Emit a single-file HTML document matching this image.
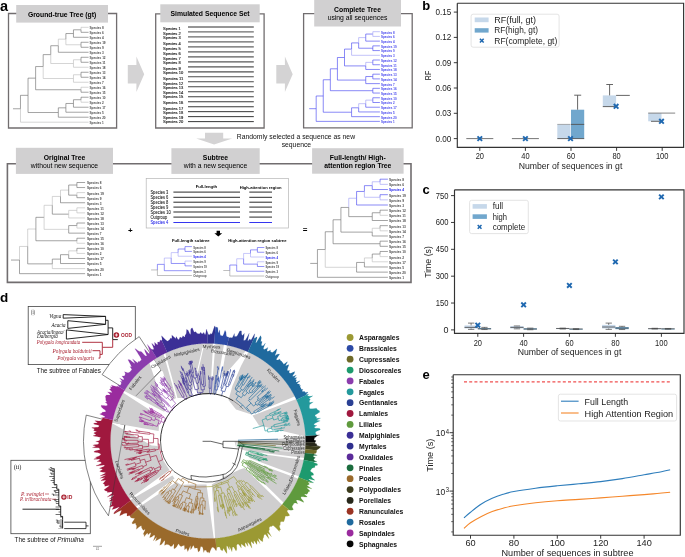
<!DOCTYPE html>
<html><head><meta charset="utf-8"><style>
html,body{margin:0;padding:0;background:#fff;}
body{width:685px;height:557px;overflow:hidden;}
svg{display:block;will-change:transform;font-family:"Liberation Sans",sans-serif;}
</style></head><body>
<svg width="685" height="557" viewBox="0 0 685 557">
<text x="0" y="6.2" font-size="14.5" font-weight="bold" fill="#000" text-anchor="start" dominant-baseline="central" font-family="Liberation Sans">a</text>
<polyline points="8.5,19.5 8.5,13.5 116.6,13.5 116.6,128 8.5,128 8.5,13.5" fill="none" stroke="#716d6f" stroke-width="1.3"/>
<rect x="16.2" y="5" width="91.8" height="17.6" fill="#d1d0d1" stroke="none" stroke-width="1"/>
<text x="62.1" y="14" font-size="6.8" font-weight="bold" fill="#000" text-anchor="middle" dominant-baseline="central" font-family="Liberation Sans">Ground-true Tree (gt)</text>
<line x1="12.97" y1="108.77" x2="20.47" y2="108.77" stroke="#666666" stroke-width="0.6"/>
<polyline points="20.47,108.77 20.47,95.34 28.04,95.34" fill="none" stroke="#666666" stroke-width="0.6"/>
<polyline points="28.04,95.34 28.04,78.15 35.61,78.15" fill="none" stroke="#666666" stroke-width="0.6"/>
<polyline points="35.61,78.15 35.61,66.56 43.18,66.56" fill="none" stroke="#666666" stroke-width="0.6"/>
<polyline points="43.18,66.56 43.18,54.62 50.75,54.62" fill="none" stroke="#666666" stroke-width="0.6"/>
<polyline points="50.75,54.62 50.75,45.72 58.32,45.72" fill="none" stroke="#666666" stroke-width="0.6"/>
<polyline points="58.32,45.72 58.32,39.16 65.89,39.16" fill="none" stroke="#b8b8b8" stroke-width="0.6"/>
<polyline points="65.89,39.16 65.89,33.54 73.46,33.54" fill="none" stroke="#666666" stroke-width="0.6"/>
<polyline points="73.46,33.54 73.46,29.8 81.03,29.8" fill="none" stroke="#666666" stroke-width="0.6"/>
<polyline points="81.03,29.8 81.03,27.3 88.6,27.3" fill="none" stroke="#b8b8b8" stroke-width="0.6"/>
<polyline points="81.03,29.8 81.03,32.3 88.6,32.3" fill="none" stroke="#666666" stroke-width="0.6"/>
<polyline points="73.46,33.54 73.46,37.29 88.6,37.29" fill="none" stroke="#666666" stroke-width="0.6"/>
<polyline points="65.89,39.16 65.89,44.78 81.03,44.78" fill="none" stroke="#b8b8b8" stroke-width="0.6"/>
<polyline points="81.03,44.78 81.03,42.28 88.6,42.28" fill="none" stroke="#666666" stroke-width="0.6"/>
<polyline points="81.03,44.78 81.03,47.28 88.6,47.28" fill="none" stroke="#666666" stroke-width="0.6"/>
<polyline points="58.32,45.72 58.32,52.28 88.6,52.28" fill="none" stroke="#666666" stroke-width="0.6"/>
<polyline points="50.75,54.62 50.75,63.51 73.46,63.51" fill="none" stroke="#b8b8b8" stroke-width="0.6"/>
<polyline points="73.46,63.51 73.46,59.77 81.03,59.77" fill="none" stroke="#b8b8b8" stroke-width="0.6"/>
<polyline points="81.03,59.77 81.03,57.27 88.6,57.27" fill="none" stroke="#666666" stroke-width="0.6"/>
<polyline points="81.03,59.77 81.03,62.27 88.6,62.27" fill="none" stroke="#666666" stroke-width="0.6"/>
<polyline points="73.46,63.51 73.46,67.26 88.6,67.26" fill="none" stroke="#b8b8b8" stroke-width="0.6"/>
<polyline points="43.18,66.56 43.18,78.5 73.46,78.5" fill="none" stroke="#b8b8b8" stroke-width="0.6"/>
<polyline points="73.46,78.5 73.46,74.75 81.03,74.75" fill="none" stroke="#b8b8b8" stroke-width="0.6"/>
<polyline points="81.03,74.75 81.03,72.25 88.6,72.25" fill="none" stroke="#666666" stroke-width="0.6"/>
<polyline points="81.03,74.75 81.03,77.25 88.6,77.25" fill="none" stroke="#666666" stroke-width="0.6"/>
<polyline points="73.46,78.5 73.46,82.25 88.6,82.25" fill="none" stroke="#b8b8b8" stroke-width="0.6"/>
<polyline points="35.61,78.15 35.61,89.74 81.03,89.74" fill="none" stroke="#666666" stroke-width="0.6"/>
<polyline points="81.03,89.74 81.03,87.24 88.6,87.24" fill="none" stroke="#b8b8b8" stroke-width="0.6"/>
<polyline points="81.03,89.74 81.03,92.23 88.6,92.23" fill="none" stroke="#666666" stroke-width="0.6"/>
<polyline points="28.04,95.34 28.04,112.53 58.32,112.53" fill="none" stroke="#666666" stroke-width="0.6"/>
<polyline points="58.32,112.53 58.32,107.84 65.89,107.84" fill="none" stroke="#666666" stroke-width="0.6"/>
<polyline points="65.89,107.84 65.89,103.47 73.46,103.47" fill="none" stroke="#666666" stroke-width="0.6"/>
<polyline points="73.46,103.47 73.46,99.73 81.03,99.73" fill="none" stroke="#666666" stroke-width="0.6"/>
<polyline points="81.03,99.73 81.03,97.23 88.6,97.23" fill="none" stroke="#666666" stroke-width="0.6"/>
<polyline points="81.03,99.73 81.03,102.22 88.6,102.22" fill="none" stroke="#b8b8b8" stroke-width="0.6"/>
<polyline points="73.46,103.47 73.46,107.22 88.6,107.22" fill="none" stroke="#666666" stroke-width="0.6"/>
<polyline points="65.89,107.84 65.89,112.22 88.6,112.22" fill="none" stroke="#666666" stroke-width="0.6"/>
<polyline points="58.32,112.53 58.32,117.21 88.6,117.21" fill="none" stroke="#666666" stroke-width="0.6"/>
<polyline points="20.47,108.77 20.47,122.2 88.6,122.2" fill="none" stroke="#b8b8b8" stroke-width="0.6"/>
<text x="89.5" y="28.2" font-size="3.3" font-weight="bold" fill="#4a4a4a" text-anchor="start" dominant-baseline="central" font-family="Liberation Sans" textLength="14.3" lengthAdjust="spacingAndGlyphs">Species 8</text>
<text x="89.5" y="33.2" font-size="3.3" font-weight="bold" fill="#4a4a4a" text-anchor="start" dominant-baseline="central" font-family="Liberation Sans" textLength="14.3" lengthAdjust="spacingAndGlyphs">Species 6</text>
<text x="89.5" y="38.19" font-size="3.3" font-weight="bold" fill="#4a4a4a" text-anchor="start" dominant-baseline="central" font-family="Liberation Sans" textLength="14.3" lengthAdjust="spacingAndGlyphs">Species 4</text>
<text x="89.5" y="43.18" font-size="3.3" font-weight="bold" fill="#4a4a4a" text-anchor="start" dominant-baseline="central" font-family="Liberation Sans" textLength="16.1" lengthAdjust="spacingAndGlyphs">Species 19</text>
<text x="89.5" y="48.18" font-size="3.3" font-weight="bold" fill="#4a4a4a" text-anchor="start" dominant-baseline="central" font-family="Liberation Sans" textLength="14.3" lengthAdjust="spacingAndGlyphs">Species 9</text>
<text x="89.5" y="53.18" font-size="3.3" font-weight="bold" fill="#4a4a4a" text-anchor="start" dominant-baseline="central" font-family="Liberation Sans" textLength="14.3" lengthAdjust="spacingAndGlyphs">Species 3</text>
<text x="89.5" y="58.17" font-size="3.3" font-weight="bold" fill="#4a4a4a" text-anchor="start" dominant-baseline="central" font-family="Liberation Sans" textLength="16.1" lengthAdjust="spacingAndGlyphs">Species 12</text>
<text x="89.5" y="63.16" font-size="3.3" font-weight="bold" fill="#4a4a4a" text-anchor="start" dominant-baseline="central" font-family="Liberation Sans" textLength="16.1" lengthAdjust="spacingAndGlyphs">Species 11</text>
<text x="89.5" y="68.16" font-size="3.3" font-weight="bold" fill="#4a4a4a" text-anchor="start" dominant-baseline="central" font-family="Liberation Sans" textLength="16.1" lengthAdjust="spacingAndGlyphs">Species 18</text>
<text x="89.5" y="73.16" font-size="3.3" font-weight="bold" fill="#4a4a4a" text-anchor="start" dominant-baseline="central" font-family="Liberation Sans" textLength="16.1" lengthAdjust="spacingAndGlyphs">Species 13</text>
<text x="89.5" y="78.15" font-size="3.3" font-weight="bold" fill="#4a4a4a" text-anchor="start" dominant-baseline="central" font-family="Liberation Sans" textLength="16.1" lengthAdjust="spacingAndGlyphs">Species 14</text>
<text x="89.5" y="83.15" font-size="3.3" font-weight="bold" fill="#4a4a4a" text-anchor="start" dominant-baseline="central" font-family="Liberation Sans" textLength="14.3" lengthAdjust="spacingAndGlyphs">Species 7</text>
<text x="89.5" y="88.14" font-size="3.3" font-weight="bold" fill="#4a4a4a" text-anchor="start" dominant-baseline="central" font-family="Liberation Sans" textLength="16.1" lengthAdjust="spacingAndGlyphs">Species 16</text>
<text x="89.5" y="93.14" font-size="3.3" font-weight="bold" fill="#4a4a4a" text-anchor="start" dominant-baseline="central" font-family="Liberation Sans" textLength="16.1" lengthAdjust="spacingAndGlyphs">Species 15</text>
<text x="89.5" y="98.13" font-size="3.3" font-weight="bold" fill="#4a4a4a" text-anchor="start" dominant-baseline="central" font-family="Liberation Sans" textLength="16.1" lengthAdjust="spacingAndGlyphs">Species 10</text>
<text x="89.5" y="103.12" font-size="3.3" font-weight="bold" fill="#4a4a4a" text-anchor="start" dominant-baseline="central" font-family="Liberation Sans" textLength="14.3" lengthAdjust="spacingAndGlyphs">Species 2</text>
<text x="89.5" y="108.12" font-size="3.3" font-weight="bold" fill="#4a4a4a" text-anchor="start" dominant-baseline="central" font-family="Liberation Sans" textLength="16.1" lengthAdjust="spacingAndGlyphs">Species 17</text>
<text x="89.5" y="113.12" font-size="3.3" font-weight="bold" fill="#4a4a4a" text-anchor="start" dominant-baseline="central" font-family="Liberation Sans" textLength="14.3" lengthAdjust="spacingAndGlyphs">Species 5</text>
<text x="89.5" y="118.11" font-size="3.3" font-weight="bold" fill="#4a4a4a" text-anchor="start" dominant-baseline="central" font-family="Liberation Sans" textLength="16.1" lengthAdjust="spacingAndGlyphs">Species 20</text>
<text x="89.5" y="123.11" font-size="3.3" font-weight="bold" fill="#4a4a4a" text-anchor="start" dominant-baseline="central" font-family="Liberation Sans" textLength="14.3" lengthAdjust="spacingAndGlyphs">Species 1</text>
<polygon points="127.8,65.1 136.4,65.1 136.4,56.5 144.2,74.2 136.4,92 136.4,83.4 127.8,83.4" fill="#d4d3d4" stroke="none" stroke-width="1"/>
<polyline points="155.7,19.8 155.7,13.8 264.1,13.8 264.1,128 155.7,128 155.7,13.8" fill="none" stroke="#716d6f" stroke-width="1.3"/>
<rect x="160.3" y="4.3" width="99.4" height="18" fill="#d1d0d1" stroke="none" stroke-width="1"/>
<text x="210" y="13.6" font-size="6.8" font-weight="bold" fill="#000" text-anchor="middle" dominant-baseline="central" font-family="Liberation Sans">Simulated Sequence Set</text>
<line x1="188" y1="27" x2="253.8" y2="27" stroke="#727272" stroke-width="1.3"/>
<text x="163.1" y="28.5" font-size="4.4" font-weight="normal" fill="#1a1a1a" text-anchor="start" dominant-baseline="central" font-family="Liberation Sans" stroke="#222" stroke-width="0.15" textLength="17.6" lengthAdjust="spacingAndGlyphs">Species 1</text>
<line x1="188" y1="31.98" x2="253.8" y2="31.98" stroke="#6e6e6e" stroke-width="1.28"/>
<text x="163.1" y="33.8" font-size="4.4" font-weight="normal" fill="#1a1a1a" text-anchor="start" dominant-baseline="central" font-family="Liberation Sans" stroke="#222" stroke-width="0.15" textLength="17.6" lengthAdjust="spacingAndGlyphs">Species 2</text>
<line x1="188" y1="36.96" x2="253.8" y2="36.96" stroke="#6a6a6a" stroke-width="1.26"/>
<text x="163.1" y="37.9" font-size="4.4" font-weight="normal" fill="#1a1a1a" text-anchor="start" dominant-baseline="central" font-family="Liberation Sans" stroke="#222" stroke-width="0.15" textLength="17.6" lengthAdjust="spacingAndGlyphs">Species 3</text>
<line x1="188" y1="41.94" x2="253.8" y2="41.94" stroke="#666666" stroke-width="1.24"/>
<text x="163.1" y="43.7" font-size="4.4" font-weight="normal" fill="#1a1a1a" text-anchor="start" dominant-baseline="central" font-family="Liberation Sans" stroke="#222" stroke-width="0.15" textLength="17.6" lengthAdjust="spacingAndGlyphs">Species 4</text>
<line x1="188" y1="46.92" x2="253.8" y2="46.92" stroke="#636363" stroke-width="1.23"/>
<text x="163.1" y="48" font-size="4.4" font-weight="normal" fill="#1a1a1a" text-anchor="start" dominant-baseline="central" font-family="Liberation Sans" stroke="#222" stroke-width="0.15" textLength="17.6" lengthAdjust="spacingAndGlyphs">Species 5</text>
<line x1="188" y1="51.9" x2="253.8" y2="51.9" stroke="#5f5f5f" stroke-width="1.21"/>
<text x="163.1" y="53.4" font-size="4.4" font-weight="normal" fill="#1a1a1a" text-anchor="start" dominant-baseline="central" font-family="Liberation Sans" stroke="#222" stroke-width="0.15" textLength="17.6" lengthAdjust="spacingAndGlyphs">Species 6</text>
<line x1="188" y1="56.88" x2="253.8" y2="56.88" stroke="#5b5b5b" stroke-width="1.19"/>
<text x="163.1" y="58.8" font-size="4.4" font-weight="normal" fill="#1a1a1a" text-anchor="start" dominant-baseline="central" font-family="Liberation Sans" stroke="#222" stroke-width="0.15" textLength="17.6" lengthAdjust="spacingAndGlyphs">Species 7</text>
<line x1="188" y1="61.86" x2="253.8" y2="61.86" stroke="#585858" stroke-width="1.17"/>
<text x="163.1" y="62.8" font-size="4.4" font-weight="normal" fill="#1a1a1a" text-anchor="start" dominant-baseline="central" font-family="Liberation Sans" stroke="#222" stroke-width="0.15" textLength="17.6" lengthAdjust="spacingAndGlyphs">Species 8</text>
<line x1="188" y1="66.84" x2="253.8" y2="66.84" stroke="#545454" stroke-width="1.15"/>
<text x="163.1" y="68.3" font-size="4.4" font-weight="normal" fill="#1a1a1a" text-anchor="start" dominant-baseline="central" font-family="Liberation Sans" stroke="#222" stroke-width="0.15" textLength="17.6" lengthAdjust="spacingAndGlyphs">Species 9</text>
<line x1="188" y1="71.82" x2="253.8" y2="71.82" stroke="#505050" stroke-width="1.13"/>
<text x="163.1" y="72.5" font-size="4.4" font-weight="normal" fill="#1a1a1a" text-anchor="start" dominant-baseline="central" font-family="Liberation Sans" stroke="#222" stroke-width="0.15" textLength="20.1" lengthAdjust="spacingAndGlyphs">Species 10</text>
<line x1="188" y1="76.8" x2="253.8" y2="76.8" stroke="#4d4d4d" stroke-width="1.12"/>
<text x="163.1" y="78" font-size="4.4" font-weight="normal" fill="#1a1a1a" text-anchor="start" dominant-baseline="central" font-family="Liberation Sans" stroke="#222" stroke-width="0.15" textLength="20.1" lengthAdjust="spacingAndGlyphs">Species 11</text>
<line x1="188" y1="81.78" x2="253.8" y2="81.78" stroke="#494949" stroke-width="1.1"/>
<text x="163.1" y="83.6" font-size="4.4" font-weight="normal" fill="#1a1a1a" text-anchor="start" dominant-baseline="central" font-family="Liberation Sans" stroke="#222" stroke-width="0.15" textLength="20.1" lengthAdjust="spacingAndGlyphs">Species 12</text>
<line x1="188" y1="86.76" x2="253.8" y2="86.76" stroke="#454545" stroke-width="1.08"/>
<text x="163.1" y="87.5" font-size="4.4" font-weight="normal" fill="#1a1a1a" text-anchor="start" dominant-baseline="central" font-family="Liberation Sans" stroke="#222" stroke-width="0.15" textLength="20.1" lengthAdjust="spacingAndGlyphs">Species 13</text>
<line x1="188" y1="91.74" x2="253.8" y2="91.74" stroke="#424242" stroke-width="1.06"/>
<text x="163.1" y="92.9" font-size="4.4" font-weight="normal" fill="#1a1a1a" text-anchor="start" dominant-baseline="central" font-family="Liberation Sans" stroke="#222" stroke-width="0.15" textLength="20.1" lengthAdjust="spacingAndGlyphs">Species 14</text>
<line x1="188" y1="96.72" x2="253.8" y2="96.72" stroke="#3e3e3e" stroke-width="1.04"/>
<text x="163.1" y="96.9" font-size="4.4" font-weight="normal" fill="#1a1a1a" text-anchor="start" dominant-baseline="central" font-family="Liberation Sans" stroke="#222" stroke-width="0.15" textLength="20.1" lengthAdjust="spacingAndGlyphs">Species 15</text>
<line x1="188" y1="101.7" x2="253.8" y2="101.7" stroke="#3a3a3a" stroke-width="1.02"/>
<text x="163.1" y="102.6" font-size="4.4" font-weight="normal" fill="#1a1a1a" text-anchor="start" dominant-baseline="central" font-family="Liberation Sans" stroke="#222" stroke-width="0.15" textLength="20.1" lengthAdjust="spacingAndGlyphs">Species 16</text>
<line x1="188" y1="106.68" x2="253.8" y2="106.68" stroke="#373737" stroke-width="1.01"/>
<text x="163.1" y="108" font-size="4.4" font-weight="normal" fill="#1a1a1a" text-anchor="start" dominant-baseline="central" font-family="Liberation Sans" stroke="#222" stroke-width="0.15" textLength="20.1" lengthAdjust="spacingAndGlyphs">Species 17</text>
<line x1="188" y1="111.66" x2="253.8" y2="111.66" stroke="#333333" stroke-width="0.99"/>
<text x="163.1" y="112" font-size="4.4" font-weight="normal" fill="#1a1a1a" text-anchor="start" dominant-baseline="central" font-family="Liberation Sans" stroke="#222" stroke-width="0.15" textLength="20.1" lengthAdjust="spacingAndGlyphs">Species 18</text>
<line x1="188" y1="116.64" x2="253.8" y2="116.64" stroke="#2f2f2f" stroke-width="0.97"/>
<text x="163.1" y="117.5" font-size="4.4" font-weight="normal" fill="#1a1a1a" text-anchor="start" dominant-baseline="central" font-family="Liberation Sans" stroke="#222" stroke-width="0.15" textLength="20.1" lengthAdjust="spacingAndGlyphs">Species 19</text>
<line x1="188" y1="121.62" x2="253.8" y2="121.62" stroke="#2c2c2c" stroke-width="0.95"/>
<text x="163.1" y="121.8" font-size="4.4" font-weight="normal" fill="#1a1a1a" text-anchor="start" dominant-baseline="central" font-family="Liberation Sans" stroke="#222" stroke-width="0.15" textLength="20.1" lengthAdjust="spacingAndGlyphs">Species 20</text>
<polygon points="276.3,65.1 284.9,65.1 284.9,56.5 292.7,74.2 284.9,92 284.9,83.4 276.3,83.4" fill="#d4d3d4" stroke="none" stroke-width="1"/>
<polyline points="303.6,19.6 303.6,13.6 412.2,13.6 412.2,127.9 303.6,127.9 303.6,13.6" fill="none" stroke="#716d6f" stroke-width="1.3"/>
<rect x="314.2" y="0" width="86.8" height="26.5" fill="#d1d0d1" stroke="none" stroke-width="1"/>
<text x="357.5" y="9.5" font-size="6.8" font-weight="bold" fill="#000" text-anchor="middle" dominant-baseline="central" font-family="Liberation Sans">Complete Tree</text>
<text x="357.5" y="17.7" font-size="6.8" font-weight="normal" fill="#000" text-anchor="middle" dominant-baseline="central" font-family="Liberation Sans">using all sequences</text>
<line x1="309.18" y1="108.69" x2="316.18" y2="108.69" stroke="#3b3bf0" stroke-width="0.6"/>
<polyline points="316.18,108.69 316.18,95.99 323.26,95.99" fill="none" stroke="#3b3bf0" stroke-width="0.6"/>
<polyline points="323.26,95.99 323.26,79.75 330.34,79.75" fill="none" stroke="#3b3bf0" stroke-width="0.6"/>
<polyline points="330.34,79.75 330.34,68.8 337.42,68.8" fill="none" stroke="#3b3bf0" stroke-width="0.6"/>
<polyline points="337.42,68.8 337.42,57.51 344.5,57.51" fill="none" stroke="#3b3bf0" stroke-width="0.6"/>
<polyline points="344.5,57.51 344.5,49.1 351.58,49.1" fill="none" stroke="#3b3bf0" stroke-width="0.6"/>
<polyline points="351.58,49.1 351.58,42.91 358.66,42.91" fill="none" stroke="#3b3bf0" stroke-width="0.6"/>
<polyline points="358.66,42.91 358.66,37.6 365.74,37.6" fill="none" stroke="#9a9af5" stroke-width="0.6"/>
<polyline points="365.74,37.6 365.74,34.06 372.82,34.06" fill="none" stroke="#3b3bf0" stroke-width="0.6"/>
<polyline points="372.82,34.06 372.82,31.7 379.9,31.7" fill="none" stroke="#9a9af5" stroke-width="0.6"/>
<polyline points="372.82,34.06 372.82,36.42 379.9,36.42" fill="none" stroke="#9a9af5" stroke-width="0.6"/>
<polyline points="365.74,37.6 365.74,41.14 379.9,41.14" fill="none" stroke="#3b3bf0" stroke-width="0.6"/>
<polyline points="358.66,42.91 358.66,48.22 372.82,48.22" fill="none" stroke="#3b3bf0" stroke-width="0.6"/>
<polyline points="372.82,48.22 372.82,45.86 379.9,45.86" fill="none" stroke="#3b3bf0" stroke-width="0.6"/>
<polyline points="372.82,48.22 372.82,50.58 379.9,50.58" fill="none" stroke="#3b3bf0" stroke-width="0.6"/>
<polyline points="351.58,49.1 351.58,55.3 379.9,55.3" fill="none" stroke="#9a9af5" stroke-width="0.6"/>
<polyline points="344.5,57.51 344.5,65.92 365.74,65.92" fill="none" stroke="#3b3bf0" stroke-width="0.6"/>
<polyline points="365.74,65.92 365.74,62.38 372.82,62.38" fill="none" stroke="#9a9af5" stroke-width="0.6"/>
<polyline points="372.82,62.38 372.82,60.02 379.9,60.02" fill="none" stroke="#3b3bf0" stroke-width="0.6"/>
<polyline points="372.82,62.38 372.82,64.74 379.9,64.74" fill="none" stroke="#3b3bf0" stroke-width="0.6"/>
<polyline points="365.74,65.92 365.74,69.46 379.9,69.46" fill="none" stroke="#3b3bf0" stroke-width="0.6"/>
<polyline points="337.42,68.8 337.42,80.08 365.74,80.08" fill="none" stroke="#3b3bf0" stroke-width="0.6"/>
<polyline points="365.74,80.08 365.74,76.54 372.82,76.54" fill="none" stroke="#3b3bf0" stroke-width="0.6"/>
<polyline points="372.82,76.54 372.82,74.18 379.9,74.18" fill="none" stroke="#3b3bf0" stroke-width="0.6"/>
<polyline points="372.82,76.54 372.82,78.9 379.9,78.9" fill="none" stroke="#3b3bf0" stroke-width="0.6"/>
<polyline points="365.74,80.08 365.74,83.62 379.9,83.62" fill="none" stroke="#3b3bf0" stroke-width="0.6"/>
<polyline points="330.34,79.75 330.34,90.7 372.82,90.7" fill="none" stroke="#3b3bf0" stroke-width="0.6"/>
<polyline points="372.82,90.7 372.82,88.34 379.9,88.34" fill="none" stroke="#3b3bf0" stroke-width="0.6"/>
<polyline points="372.82,90.7 372.82,93.06 379.9,93.06" fill="none" stroke="#3b3bf0" stroke-width="0.6"/>
<polyline points="323.26,95.99 323.26,112.23 351.58,112.23" fill="none" stroke="#3b3bf0" stroke-width="0.6"/>
<polyline points="351.58,112.23 351.58,107.81 358.66,107.81" fill="none" stroke="#3b3bf0" stroke-width="0.6"/>
<polyline points="358.66,107.81 358.66,103.68 365.74,103.68" fill="none" stroke="#9a9af5" stroke-width="0.6"/>
<polyline points="365.74,103.68 365.74,100.14 372.82,100.14" fill="none" stroke="#9a9af5" stroke-width="0.6"/>
<polyline points="372.82,100.14 372.82,97.78 379.9,97.78" fill="none" stroke="#3b3bf0" stroke-width="0.6"/>
<polyline points="372.82,100.14 372.82,102.5 379.9,102.5" fill="none" stroke="#3b3bf0" stroke-width="0.6"/>
<polyline points="365.74,103.68 365.74,107.22 379.9,107.22" fill="none" stroke="#3b3bf0" stroke-width="0.6"/>
<polyline points="358.66,107.81 358.66,111.94 379.9,111.94" fill="none" stroke="#3b3bf0" stroke-width="0.6"/>
<polyline points="351.58,112.23 351.58,116.66 379.9,116.66" fill="none" stroke="#3b3bf0" stroke-width="0.6"/>
<polyline points="316.18,108.69 316.18,121.38 379.9,121.38" fill="none" stroke="#3b3bf0" stroke-width="0.6"/>
<text x="381" y="32.6" font-size="3.2" font-weight="bold" fill="#4444ee" text-anchor="start" dominant-baseline="central" font-family="Liberation Sans" textLength="13.7" lengthAdjust="spacingAndGlyphs">Species 8</text>
<text x="381" y="37.32" font-size="3.2" font-weight="bold" fill="#4444ee" text-anchor="start" dominant-baseline="central" font-family="Liberation Sans" textLength="13.7" lengthAdjust="spacingAndGlyphs">Species 6</text>
<text x="381" y="42.04" font-size="3.2" font-weight="bold" fill="#4444ee" text-anchor="start" dominant-baseline="central" font-family="Liberation Sans" textLength="13.7" lengthAdjust="spacingAndGlyphs">Species 4</text>
<text x="381" y="46.76" font-size="3.2" font-weight="bold" fill="#4444ee" text-anchor="start" dominant-baseline="central" font-family="Liberation Sans" textLength="15.6" lengthAdjust="spacingAndGlyphs">Species 19</text>
<text x="381" y="51.48" font-size="3.2" font-weight="bold" fill="#4444ee" text-anchor="start" dominant-baseline="central" font-family="Liberation Sans" textLength="13.7" lengthAdjust="spacingAndGlyphs">Species 9</text>
<text x="381" y="56.2" font-size="3.2" font-weight="bold" fill="#4444ee" text-anchor="start" dominant-baseline="central" font-family="Liberation Sans" textLength="13.7" lengthAdjust="spacingAndGlyphs">Species 3</text>
<text x="381" y="60.92" font-size="3.2" font-weight="bold" fill="#4444ee" text-anchor="start" dominant-baseline="central" font-family="Liberation Sans" textLength="15.6" lengthAdjust="spacingAndGlyphs">Species 12</text>
<text x="381" y="65.64" font-size="3.2" font-weight="bold" fill="#4444ee" text-anchor="start" dominant-baseline="central" font-family="Liberation Sans" textLength="15.6" lengthAdjust="spacingAndGlyphs">Species 11</text>
<text x="381" y="70.36" font-size="3.2" font-weight="bold" fill="#4444ee" text-anchor="start" dominant-baseline="central" font-family="Liberation Sans" textLength="15.6" lengthAdjust="spacingAndGlyphs">Species 18</text>
<text x="381" y="75.08" font-size="3.2" font-weight="bold" fill="#4444ee" text-anchor="start" dominant-baseline="central" font-family="Liberation Sans" textLength="15.6" lengthAdjust="spacingAndGlyphs">Species 13</text>
<text x="381" y="79.8" font-size="3.2" font-weight="bold" fill="#4444ee" text-anchor="start" dominant-baseline="central" font-family="Liberation Sans" textLength="15.6" lengthAdjust="spacingAndGlyphs">Species 14</text>
<text x="381" y="84.52" font-size="3.2" font-weight="bold" fill="#4444ee" text-anchor="start" dominant-baseline="central" font-family="Liberation Sans" textLength="13.7" lengthAdjust="spacingAndGlyphs">Species 7</text>
<text x="381" y="89.24" font-size="3.2" font-weight="bold" fill="#4444ee" text-anchor="start" dominant-baseline="central" font-family="Liberation Sans" textLength="15.6" lengthAdjust="spacingAndGlyphs">Species 16</text>
<text x="381" y="93.96" font-size="3.2" font-weight="bold" fill="#4444ee" text-anchor="start" dominant-baseline="central" font-family="Liberation Sans" textLength="15.6" lengthAdjust="spacingAndGlyphs">Species 15</text>
<text x="381" y="98.68" font-size="3.2" font-weight="bold" fill="#4444ee" text-anchor="start" dominant-baseline="central" font-family="Liberation Sans" textLength="15.6" lengthAdjust="spacingAndGlyphs">Species 10</text>
<text x="381" y="103.4" font-size="3.2" font-weight="bold" fill="#4444ee" text-anchor="start" dominant-baseline="central" font-family="Liberation Sans" textLength="13.7" lengthAdjust="spacingAndGlyphs">Species 2</text>
<text x="381" y="108.12" font-size="3.2" font-weight="bold" fill="#4444ee" text-anchor="start" dominant-baseline="central" font-family="Liberation Sans" textLength="15.6" lengthAdjust="spacingAndGlyphs">Species 17</text>
<text x="381" y="112.84" font-size="3.2" font-weight="bold" fill="#4444ee" text-anchor="start" dominant-baseline="central" font-family="Liberation Sans" textLength="13.7" lengthAdjust="spacingAndGlyphs">Species 5</text>
<text x="381" y="117.56" font-size="3.2" font-weight="bold" fill="#4444ee" text-anchor="start" dominant-baseline="central" font-family="Liberation Sans" textLength="15.6" lengthAdjust="spacingAndGlyphs">Species 20</text>
<text x="381" y="122.28" font-size="3.2" font-weight="bold" fill="#4444ee" text-anchor="start" dominant-baseline="central" font-family="Liberation Sans" textLength="13.7" lengthAdjust="spacingAndGlyphs">Species 1</text>
<polygon points="205,132.7 223.2,132.7 223.2,138.5 232.3,138.5 214.1,144.4 196.2,138.5 205,138.5" fill="#d4d3d4" stroke="none" stroke-width="1"/>
<text x="236.8" y="136" font-size="6.8" font-weight="normal" fill="#111" text-anchor="start" dominant-baseline="central" font-family="Liberation Sans">Randomly selected a sequence as new</text>
<text x="296.4" y="144.2" font-size="6.8" font-weight="normal" fill="#111" text-anchor="middle" dominant-baseline="central" font-family="Liberation Sans">sequence</text>
<polyline points="7.4,173 7.4,163.8 411,163.8 411,282.4 7.4,282.4 7.4,170" fill="none" stroke="#716d6f" stroke-width="1.6"/>
<rect x="15.9" y="147.8" width="97.1" height="26.1" fill="#d1d0d1" stroke="none" stroke-width="1"/>
<text x="64.5" y="157.2" font-size="6.8" font-weight="bold" fill="#000" text-anchor="middle" dominant-baseline="central" font-family="Liberation Sans">Original Tree</text>
<text x="64.5" y="165.8" font-size="6.8" font-weight="normal" fill="#000" text-anchor="middle" dominant-baseline="central" font-family="Liberation Sans">without new sequence</text>
<rect x="171.4" y="148.2" width="88.3" height="25.7" fill="#d1d0d1" stroke="none" stroke-width="1"/>
<text x="215.5" y="157.6" font-size="6.8" font-weight="bold" fill="#000" text-anchor="middle" dominant-baseline="central" font-family="Liberation Sans">Subtree</text>
<text x="215.5" y="165.8" font-size="6.8" font-weight="normal" fill="#000" text-anchor="middle" dominant-baseline="central" font-family="Liberation Sans">with a new sequence</text>
<rect x="312.1" y="148.2" width="91.5" height="25.5" fill="#d1d0d1" stroke="none" stroke-width="1"/>
<text x="357.8" y="157.4" font-size="6.8" font-weight="bold" fill="#000" text-anchor="middle" dominant-baseline="central" font-family="Liberation Sans">Full-length/ High-</text>
<text x="357.8" y="165.8" font-size="6.8" font-weight="bold" fill="#000" text-anchor="middle" dominant-baseline="central" font-family="Liberation Sans">attention region Tree</text>
<line x1="11" y1="260.06" x2="19.5" y2="260.06" stroke="#666666" stroke-width="0.6"/>
<polyline points="19.5,260.06 19.5,246.45 27.7,246.45" fill="none" stroke="#b8b8b8" stroke-width="0.6"/>
<polyline points="27.7,246.45 27.7,229.03 35.9,229.03" fill="none" stroke="#b8b8b8" stroke-width="0.6"/>
<polyline points="35.9,229.03 35.9,217.32 44.1,217.32" fill="none" stroke="#666666" stroke-width="0.6"/>
<polyline points="44.1,217.32 44.1,205.29 52.3,205.29" fill="none" stroke="#b8b8b8" stroke-width="0.6"/>
<polyline points="52.3,205.29 52.3,196.43 60.5,196.43" fill="none" stroke="#b8b8b8" stroke-width="0.6"/>
<polyline points="60.5,196.43 60.5,190.1 68.7,190.1" fill="none" stroke="#b8b8b8" stroke-width="0.6"/>
<polyline points="68.7,190.1 68.7,185.03 76.9,185.03" fill="none" stroke="#666666" stroke-width="0.6"/>
<polyline points="76.9,185.03 76.9,182.5 85.1,182.5" fill="none" stroke="#666666" stroke-width="0.6"/>
<polyline points="76.9,185.03 76.9,187.56 85.1,187.56" fill="none" stroke="#666666" stroke-width="0.6"/>
<polyline points="68.7,190.1 68.7,195.16 76.9,195.16" fill="none" stroke="#666666" stroke-width="0.6"/>
<polyline points="76.9,195.16 76.9,192.63 85.1,192.63" fill="none" stroke="#b8b8b8" stroke-width="0.6"/>
<polyline points="76.9,195.16 76.9,197.69 85.1,197.69" fill="none" stroke="#666666" stroke-width="0.6"/>
<polyline points="60.5,196.43 60.5,202.76 85.1,202.76" fill="none" stroke="#666666" stroke-width="0.6"/>
<polyline points="52.3,205.29 52.3,214.16 68.7,214.16" fill="none" stroke="#666666" stroke-width="0.6"/>
<polyline points="68.7,214.16 68.7,210.36 76.9,210.36" fill="none" stroke="#b8b8b8" stroke-width="0.6"/>
<polyline points="76.9,210.36 76.9,207.82 85.1,207.82" fill="none" stroke="#b8b8b8" stroke-width="0.6"/>
<polyline points="76.9,210.36 76.9,212.89 85.1,212.89" fill="none" stroke="#b8b8b8" stroke-width="0.6"/>
<polyline points="68.7,214.16 68.7,217.96 85.1,217.96" fill="none" stroke="#b8b8b8" stroke-width="0.6"/>
<polyline points="44.1,217.32 44.1,229.35 68.7,229.35" fill="none" stroke="#b8b8b8" stroke-width="0.6"/>
<polyline points="68.7,229.35 68.7,225.55 76.9,225.55" fill="none" stroke="#666666" stroke-width="0.6"/>
<polyline points="76.9,225.55 76.9,223.02 85.1,223.02" fill="none" stroke="#666666" stroke-width="0.6"/>
<polyline points="76.9,225.55 76.9,228.09 85.1,228.09" fill="none" stroke="#b8b8b8" stroke-width="0.6"/>
<polyline points="68.7,229.35 68.7,233.15 85.1,233.15" fill="none" stroke="#666666" stroke-width="0.6"/>
<polyline points="35.9,229.03 35.9,240.75 76.9,240.75" fill="none" stroke="#666666" stroke-width="0.6"/>
<polyline points="76.9,240.75 76.9,238.22 85.1,238.22" fill="none" stroke="#666666" stroke-width="0.6"/>
<polyline points="76.9,240.75 76.9,243.28 85.1,243.28" fill="none" stroke="#b8b8b8" stroke-width="0.6"/>
<polyline points="27.7,246.45 27.7,263.86 52.3,263.86" fill="none" stroke="#666666" stroke-width="0.6"/>
<polyline points="52.3,263.86 52.3,259.11 60.5,259.11" fill="none" stroke="#666666" stroke-width="0.6"/>
<polyline points="60.5,259.11 60.5,254.68 68.7,254.68" fill="none" stroke="#666666" stroke-width="0.6"/>
<polyline points="68.7,254.68 68.7,250.88 76.9,250.88" fill="none" stroke="#b8b8b8" stroke-width="0.6"/>
<polyline points="76.9,250.88 76.9,248.34 85.1,248.34" fill="none" stroke="#666666" stroke-width="0.6"/>
<polyline points="76.9,250.88 76.9,253.41 85.1,253.41" fill="none" stroke="#b8b8b8" stroke-width="0.6"/>
<polyline points="68.7,254.68 68.7,258.48 85.1,258.48" fill="none" stroke="#666666" stroke-width="0.6"/>
<polyline points="60.5,259.11 60.5,263.54 85.1,263.54" fill="none" stroke="#666666" stroke-width="0.6"/>
<polyline points="52.3,263.86 52.3,268.61 85.1,268.61" fill="none" stroke="#b8b8b8" stroke-width="0.6"/>
<polyline points="19.5,260.06 19.5,273.67 85.1,273.67" fill="none" stroke="#666666" stroke-width="0.6"/>
<text x="86.9" y="183.4" font-size="3.3" font-weight="bold" fill="#4a4a4a" text-anchor="start" dominant-baseline="central" font-family="Liberation Sans" textLength="14.7" lengthAdjust="spacingAndGlyphs">Species 8</text>
<text x="86.9" y="188.47" font-size="3.3" font-weight="bold" fill="#4a4a4a" text-anchor="start" dominant-baseline="central" font-family="Liberation Sans" textLength="14.7" lengthAdjust="spacingAndGlyphs">Species 6</text>
<text x="86.9" y="193.53" font-size="3.3" font-weight="bold" fill="#4a4a4a" text-anchor="start" dominant-baseline="central" font-family="Liberation Sans" textLength="17" lengthAdjust="spacingAndGlyphs">Species 19</text>
<text x="86.9" y="198.59" font-size="3.3" font-weight="bold" fill="#4a4a4a" text-anchor="start" dominant-baseline="central" font-family="Liberation Sans" textLength="14.7" lengthAdjust="spacingAndGlyphs">Species 9</text>
<text x="86.9" y="203.66" font-size="3.3" font-weight="bold" fill="#4a4a4a" text-anchor="start" dominant-baseline="central" font-family="Liberation Sans" textLength="14.7" lengthAdjust="spacingAndGlyphs">Species 3</text>
<text x="86.9" y="208.72" font-size="3.3" font-weight="bold" fill="#4a4a4a" text-anchor="start" dominant-baseline="central" font-family="Liberation Sans" textLength="17" lengthAdjust="spacingAndGlyphs">Species 11</text>
<text x="86.9" y="213.79" font-size="3.3" font-weight="bold" fill="#4a4a4a" text-anchor="start" dominant-baseline="central" font-family="Liberation Sans" textLength="17" lengthAdjust="spacingAndGlyphs">Species 12</text>
<text x="86.9" y="218.86" font-size="3.3" font-weight="bold" fill="#4a4a4a" text-anchor="start" dominant-baseline="central" font-family="Liberation Sans" textLength="17" lengthAdjust="spacingAndGlyphs">Species 18</text>
<text x="86.9" y="223.92" font-size="3.3" font-weight="bold" fill="#4a4a4a" text-anchor="start" dominant-baseline="central" font-family="Liberation Sans" textLength="17" lengthAdjust="spacingAndGlyphs">Species 13</text>
<text x="86.9" y="228.99" font-size="3.3" font-weight="bold" fill="#4a4a4a" text-anchor="start" dominant-baseline="central" font-family="Liberation Sans" textLength="17" lengthAdjust="spacingAndGlyphs">Species 14</text>
<text x="86.9" y="234.05" font-size="3.3" font-weight="bold" fill="#4a4a4a" text-anchor="start" dominant-baseline="central" font-family="Liberation Sans" textLength="14.7" lengthAdjust="spacingAndGlyphs">Species 7</text>
<text x="86.9" y="239.12" font-size="3.3" font-weight="bold" fill="#4a4a4a" text-anchor="start" dominant-baseline="central" font-family="Liberation Sans" textLength="17" lengthAdjust="spacingAndGlyphs">Species 15</text>
<text x="86.9" y="244.18" font-size="3.3" font-weight="bold" fill="#4a4a4a" text-anchor="start" dominant-baseline="central" font-family="Liberation Sans" textLength="17" lengthAdjust="spacingAndGlyphs">Species 16</text>
<text x="86.9" y="249.25" font-size="3.3" font-weight="bold" fill="#4a4a4a" text-anchor="start" dominant-baseline="central" font-family="Liberation Sans" textLength="17" lengthAdjust="spacingAndGlyphs">Species 10</text>
<text x="86.9" y="254.31" font-size="3.3" font-weight="bold" fill="#4a4a4a" text-anchor="start" dominant-baseline="central" font-family="Liberation Sans" textLength="14.7" lengthAdjust="spacingAndGlyphs">Species 2</text>
<text x="86.9" y="259.38" font-size="3.3" font-weight="bold" fill="#4a4a4a" text-anchor="start" dominant-baseline="central" font-family="Liberation Sans" textLength="17" lengthAdjust="spacingAndGlyphs">Species 17</text>
<text x="86.9" y="264.44" font-size="3.3" font-weight="bold" fill="#4a4a4a" text-anchor="start" dominant-baseline="central" font-family="Liberation Sans" textLength="14.7" lengthAdjust="spacingAndGlyphs">Species 5</text>
<text x="86.9" y="269.5" font-size="3.3" font-weight="bold" fill="#4a4a4a" text-anchor="start" dominant-baseline="central" font-family="Liberation Sans" textLength="17" lengthAdjust="spacingAndGlyphs">Species 20</text>
<text x="86.9" y="274.57" font-size="3.3" font-weight="bold" fill="#4a4a4a" text-anchor="start" dominant-baseline="central" font-family="Liberation Sans" textLength="14.7" lengthAdjust="spacingAndGlyphs">Species 1</text>
<text x="130.4" y="230.2" font-size="8" font-weight="bold" fill="#000" text-anchor="middle" dominant-baseline="central" font-family="Liberation Sans">+</text>
<rect x="146.2" y="178.6" width="142.2" height="49.4" fill="#fff" stroke="#b5b5b5" stroke-width="0.7"/>
<text x="206.4" y="186.7" font-size="4.2" font-weight="bold" fill="#000" text-anchor="middle" dominant-baseline="central" font-family="Liberation Sans" textLength="21.5" lengthAdjust="spacingAndGlyphs">Full-length</text>
<text x="260.6" y="187.1" font-size="4.2" font-weight="bold" fill="#000" text-anchor="middle" dominant-baseline="central" font-family="Liberation Sans" textLength="41.8" lengthAdjust="spacingAndGlyphs">High-attention region</text>
<text x="150.4" y="192.3" font-size="4.5" font-weight="normal" fill="#111" text-anchor="start" dominant-baseline="central" font-family="Liberation Sans" stroke="#111" stroke-width="0.05" textLength="18" lengthAdjust="spacingAndGlyphs">Species 3</text>
<line x1="173.4" y1="192.1" x2="240" y2="192.1" stroke="#1e1e1e" stroke-width="0.95"/>
<line x1="249.3" y1="192.1" x2="272" y2="192.1" stroke="#1e1e1e" stroke-width="0.95"/>
<text x="150.4" y="197.5" font-size="4.5" font-weight="normal" fill="#111" text-anchor="start" dominant-baseline="central" font-family="Liberation Sans" stroke="#111" stroke-width="0.05" textLength="18" lengthAdjust="spacingAndGlyphs">Species 6</text>
<line x1="173.4" y1="197.3" x2="240" y2="197.3" stroke="#1e1e1e" stroke-width="0.95"/>
<line x1="249.3" y1="197.3" x2="272" y2="197.3" stroke="#1e1e1e" stroke-width="0.95"/>
<text x="150.4" y="202.4" font-size="4.5" font-weight="normal" fill="#111" text-anchor="start" dominant-baseline="central" font-family="Liberation Sans" stroke="#111" stroke-width="0.05" textLength="18" lengthAdjust="spacingAndGlyphs">Species 8</text>
<line x1="173.4" y1="202.2" x2="240" y2="202.2" stroke="#1e1e1e" stroke-width="0.95"/>
<line x1="249.3" y1="202.2" x2="272" y2="202.2" stroke="#1e1e1e" stroke-width="0.95"/>
<text x="150.4" y="207.3" font-size="4.5" font-weight="normal" fill="#111" text-anchor="start" dominant-baseline="central" font-family="Liberation Sans" stroke="#111" stroke-width="0.05" textLength="18" lengthAdjust="spacingAndGlyphs">Species 9</text>
<line x1="173.4" y1="207.1" x2="240" y2="207.1" stroke="#1e1e1e" stroke-width="0.95"/>
<line x1="249.3" y1="207.1" x2="272" y2="207.1" stroke="#1e1e1e" stroke-width="0.95"/>
<text x="150.4" y="212.2" font-size="4.5" font-weight="normal" fill="#111" text-anchor="start" dominant-baseline="central" font-family="Liberation Sans" stroke="#111" stroke-width="0.05" textLength="20.3" lengthAdjust="spacingAndGlyphs">Species 10</text>
<line x1="173.4" y1="212" x2="240" y2="212" stroke="#1e1e1e" stroke-width="0.95"/>
<line x1="249.3" y1="212" x2="272" y2="212" stroke="#1e1e1e" stroke-width="0.95"/>
<text x="150.4" y="217.3" font-size="4.5" font-weight="normal" fill="#111" text-anchor="start" dominant-baseline="central" font-family="Liberation Sans" stroke="#111" stroke-width="0.05" textLength="16.8" lengthAdjust="spacingAndGlyphs">Outgroup</text>
<line x1="173.4" y1="217.1" x2="240" y2="217.1" stroke="#1e1e1e" stroke-width="0.95"/>
<line x1="249.3" y1="217.1" x2="272" y2="217.1" stroke="#1e1e1e" stroke-width="0.95"/>
<text x="150.4" y="222.7" font-size="4.5" font-weight="normal" fill="#2424e8" text-anchor="start" dominant-baseline="central" font-family="Liberation Sans" stroke="#2424e8" stroke-width="0.05" textLength="18" lengthAdjust="spacingAndGlyphs">Species 4</text>
<line x1="173.4" y1="222.5" x2="240" y2="222.5" stroke="#2a2aee" stroke-width="0.95"/>
<line x1="249.3" y1="222.5" x2="272" y2="222.5" stroke="#2a2aee" stroke-width="0.95"/>
<polygon points="216.6,230.8 220,230.8 220,233.2 222.2,233.2 218.3,236.6 214.4,233.2 216.6,233.2" fill="#000" stroke="none" stroke-width="1"/>
<text x="190.8" y="240.7" font-size="4.2" font-weight="bold" fill="#000" text-anchor="middle" dominant-baseline="central" font-family="Liberation Sans" textLength="37.6" lengthAdjust="spacingAndGlyphs">Full-length subtree</text>
<text x="257.4" y="240.9" font-size="4.2" font-weight="bold" fill="#000" text-anchor="middle" dominant-baseline="central" font-family="Liberation Sans" textLength="58.2" lengthAdjust="spacingAndGlyphs">High-attention region subtree</text>
<line x1="151.1" y1="269.95" x2="157.4" y2="269.95" stroke="#8a8a8a" stroke-width="0.55"/>
<polyline points="157.4,269.95 157.4,264.37 164.3,264.37" fill="none" stroke="#3b3bf0" stroke-width="0.55"/>
<polyline points="164.3,264.37 164.3,258.05 171.2,258.05" fill="none" stroke="#9a9af5" stroke-width="0.55"/>
<polyline points="171.2,258.05 171.2,252.62 178.1,252.62" fill="none" stroke="#9a9af5" stroke-width="0.55"/>
<polyline points="178.1,252.62 178.1,249.01 185,249.01" fill="none" stroke="#3b3bf0" stroke-width="0.55"/>
<polyline points="185,249.01 185,246.6 191.9,246.6" fill="none" stroke="#3b3bf0" stroke-width="0.55"/>
<polyline points="185,249.01 185,251.42 191.9,251.42" fill="none" stroke="#3b3bf0" stroke-width="0.55"/>
<polyline points="178.1,252.62 178.1,256.24 191.9,256.24" fill="none" stroke="#9a9af5" stroke-width="0.55"/>
<polyline points="171.2,258.05 171.2,263.47 185,263.47" fill="none" stroke="#3b3bf0" stroke-width="0.55"/>
<polyline points="185,263.47 185,261.06 191.9,261.06" fill="none" stroke="#9a9af5" stroke-width="0.55"/>
<polyline points="185,263.47 185,265.88 191.9,265.88" fill="none" stroke="#3b3bf0" stroke-width="0.55"/>
<polyline points="164.3,264.37 164.3,270.7 191.9,270.7" fill="none" stroke="#3b3bf0" stroke-width="0.55"/>
<polyline points="157.4,269.95 157.4,275.52 191.9,275.52" fill="none" stroke="#8a8a8a" stroke-width="0.55"/>
<text x="193.3" y="247.5" font-size="3.1" font-weight="bold" fill="#4a4a4a" text-anchor="start" dominant-baseline="central" font-family="Liberation Sans" textLength="12.5" lengthAdjust="spacingAndGlyphs">Species 8</text>
<text x="193.3" y="252.32" font-size="3.1" font-weight="bold" fill="#4a4a4a" text-anchor="start" dominant-baseline="central" font-family="Liberation Sans" textLength="12.5" lengthAdjust="spacingAndGlyphs">Species 6</text>
<text x="193.3" y="257.14" font-size="3.1" font-weight="bold" fill="#2222ee" text-anchor="start" dominant-baseline="central" font-family="Liberation Sans" textLength="12.5" lengthAdjust="spacingAndGlyphs">Species 4</text>
<text x="193.3" y="261.96" font-size="3.1" font-weight="bold" fill="#4a4a4a" text-anchor="start" dominant-baseline="central" font-family="Liberation Sans" textLength="12.5" lengthAdjust="spacingAndGlyphs">Species 9</text>
<text x="193.3" y="266.78" font-size="3.1" font-weight="bold" fill="#4a4a4a" text-anchor="start" dominant-baseline="central" font-family="Liberation Sans" textLength="13.5" lengthAdjust="spacingAndGlyphs">Species 19</text>
<text x="193.3" y="271.6" font-size="3.1" font-weight="bold" fill="#4a4a4a" text-anchor="start" dominant-baseline="central" font-family="Liberation Sans" textLength="12.5" lengthAdjust="spacingAndGlyphs">Species 3</text>
<text x="193.3" y="276.42" font-size="3.1" font-weight="bold" fill="#555" text-anchor="start" dominant-baseline="central" font-family="Liberation Sans" textLength="13.3" lengthAdjust="spacingAndGlyphs">Outgroup</text>
<line x1="223.3" y1="270.51" x2="229.8" y2="270.51" stroke="#8a8a8a" stroke-width="0.55"/>
<polyline points="229.8,270.51 229.8,265.02 236.7,265.02" fill="none" stroke="#3b3bf0" stroke-width="0.55"/>
<polyline points="236.7,265.02 236.7,258.78 243.6,258.78" fill="none" stroke="#9a9af5" stroke-width="0.55"/>
<polyline points="243.6,258.78 243.6,253.44 250.5,253.44" fill="none" stroke="#9a9af5" stroke-width="0.55"/>
<polyline points="250.5,253.44 250.5,249.88 257.4,249.88" fill="none" stroke="#3b3bf0" stroke-width="0.55"/>
<polyline points="257.4,249.88 257.4,247.5 264.3,247.5" fill="none" stroke="#3b3bf0" stroke-width="0.55"/>
<polyline points="257.4,249.88 257.4,252.25 264.3,252.25" fill="none" stroke="#3b3bf0" stroke-width="0.55"/>
<polyline points="250.5,253.44 250.5,257 264.3,257" fill="none" stroke="#9a9af5" stroke-width="0.55"/>
<polyline points="243.6,258.78 243.6,264.12 257.4,264.12" fill="none" stroke="#3b3bf0" stroke-width="0.55"/>
<polyline points="257.4,264.12 257.4,261.75 264.3,261.75" fill="none" stroke="#9a9af5" stroke-width="0.55"/>
<polyline points="257.4,264.12 257.4,266.5 264.3,266.5" fill="none" stroke="#3b3bf0" stroke-width="0.55"/>
<polyline points="236.7,265.02 236.7,271.25 264.3,271.25" fill="none" stroke="#3b3bf0" stroke-width="0.55"/>
<polyline points="229.8,270.51 229.8,276 264.3,276" fill="none" stroke="#8a8a8a" stroke-width="0.55"/>
<text x="265.4" y="248.4" font-size="3.1" font-weight="bold" fill="#4a4a4a" text-anchor="start" dominant-baseline="central" font-family="Liberation Sans" textLength="12.5" lengthAdjust="spacingAndGlyphs">Species 8</text>
<text x="265.4" y="253.15" font-size="3.1" font-weight="bold" fill="#4a4a4a" text-anchor="start" dominant-baseline="central" font-family="Liberation Sans" textLength="12.5" lengthAdjust="spacingAndGlyphs">Species 6</text>
<text x="265.4" y="257.9" font-size="3.1" font-weight="bold" fill="#2222ee" text-anchor="start" dominant-baseline="central" font-family="Liberation Sans" textLength="12.5" lengthAdjust="spacingAndGlyphs">Species 4</text>
<text x="265.4" y="262.65" font-size="3.1" font-weight="bold" fill="#4a4a4a" text-anchor="start" dominant-baseline="central" font-family="Liberation Sans" textLength="12.5" lengthAdjust="spacingAndGlyphs">Species 9</text>
<text x="265.4" y="267.4" font-size="3.1" font-weight="bold" fill="#4a4a4a" text-anchor="start" dominant-baseline="central" font-family="Liberation Sans" textLength="13.5" lengthAdjust="spacingAndGlyphs">Species 19</text>
<text x="265.4" y="272.15" font-size="3.1" font-weight="bold" fill="#4a4a4a" text-anchor="start" dominant-baseline="central" font-family="Liberation Sans" textLength="12.5" lengthAdjust="spacingAndGlyphs">Species 3</text>
<text x="265.4" y="276.9" font-size="3.1" font-weight="bold" fill="#555" text-anchor="start" dominant-baseline="central" font-family="Liberation Sans" textLength="13.3" lengthAdjust="spacingAndGlyphs">Outgroup</text>
<text x="305" y="229.6" font-size="8" font-weight="bold" fill="#000" text-anchor="middle" dominant-baseline="central" font-family="Liberation Sans">=</text>
<line x1="310.23" y1="263.41" x2="317.43" y2="263.41" stroke="#666666" stroke-width="0.6"/>
<polyline points="317.43,263.41 317.43,249.53 325.26,249.53" fill="none" stroke="#666666" stroke-width="0.6"/>
<polyline points="325.26,249.53 325.26,231.76 333.09,231.76" fill="none" stroke="#666666" stroke-width="0.6"/>
<polyline points="333.09,231.76 333.09,219.78 340.92,219.78" fill="none" stroke="#666666" stroke-width="0.6"/>
<polyline points="340.92,219.78 340.92,207.44 348.75,207.44" fill="none" stroke="#666666" stroke-width="0.6"/>
<polyline points="348.75,207.44 348.75,198.24 356.58,198.24" fill="none" stroke="#9a9af5" stroke-width="0.6"/>
<polyline points="356.58,198.24 356.58,191.46 364.41,191.46" fill="none" stroke="#3b3bf0" stroke-width="0.6"/>
<polyline points="364.41,191.46 364.41,185.65 372.24,185.65" fill="none" stroke="#3b3bf0" stroke-width="0.6"/>
<polyline points="372.24,185.65 372.24,181.78 380.07,181.78" fill="none" stroke="#9a9af5" stroke-width="0.6"/>
<polyline points="380.07,181.78 380.07,179.2 387.9,179.2" fill="none" stroke="#3b3bf0" stroke-width="0.6"/>
<polyline points="380.07,181.78 380.07,184.36 387.9,184.36" fill="none" stroke="#9a9af5" stroke-width="0.6"/>
<polyline points="372.24,185.65 372.24,189.53 387.9,189.53" fill="none" stroke="#3b3bf0" stroke-width="0.6"/>
<polyline points="364.41,191.46 364.41,197.27 380.07,197.27" fill="none" stroke="#9a9af5" stroke-width="0.6"/>
<polyline points="380.07,197.27 380.07,194.69 387.9,194.69" fill="none" stroke="#3b3bf0" stroke-width="0.6"/>
<polyline points="380.07,197.27 380.07,199.85 387.9,199.85" fill="none" stroke="#9a9af5" stroke-width="0.6"/>
<polyline points="356.58,198.24 356.58,205.01 387.9,205.01" fill="none" stroke="#3b3bf0" stroke-width="0.6"/>
<polyline points="348.75,207.44 348.75,216.63 372.24,216.63" fill="none" stroke="#666666" stroke-width="0.6"/>
<polyline points="372.24,216.63 372.24,212.76 380.07,212.76" fill="none" stroke="#666666" stroke-width="0.6"/>
<polyline points="380.07,212.76 380.07,210.18 387.9,210.18" fill="none" stroke="#666666" stroke-width="0.6"/>
<polyline points="380.07,212.76 380.07,215.34 387.9,215.34" fill="none" stroke="#b8b8b8" stroke-width="0.6"/>
<polyline points="372.24,216.63 372.24,220.5 387.9,220.5" fill="none" stroke="#666666" stroke-width="0.6"/>
<polyline points="340.92,219.78 340.92,232.12 372.24,232.12" fill="none" stroke="#666666" stroke-width="0.6"/>
<polyline points="372.24,232.12 372.24,228.25 380.07,228.25" fill="none" stroke="#b8b8b8" stroke-width="0.6"/>
<polyline points="380.07,228.25 380.07,225.67 387.9,225.67" fill="none" stroke="#666666" stroke-width="0.6"/>
<polyline points="380.07,228.25 380.07,230.83 387.9,230.83" fill="none" stroke="#b8b8b8" stroke-width="0.6"/>
<polyline points="372.24,232.12 372.24,235.99 387.9,235.99" fill="none" stroke="#666666" stroke-width="0.6"/>
<polyline points="333.09,231.76 333.09,243.74 380.07,243.74" fill="none" stroke="#666666" stroke-width="0.6"/>
<polyline points="380.07,243.74 380.07,241.16 387.9,241.16" fill="none" stroke="#666666" stroke-width="0.6"/>
<polyline points="380.07,243.74 380.07,246.32 387.9,246.32" fill="none" stroke="#666666" stroke-width="0.6"/>
<polyline points="325.26,249.53 325.26,267.29 356.58,267.29" fill="none" stroke="#b8b8b8" stroke-width="0.6"/>
<polyline points="356.58,267.29 356.58,262.45 364.41,262.45" fill="none" stroke="#666666" stroke-width="0.6"/>
<polyline points="364.41,262.45 364.41,257.94 372.24,257.94" fill="none" stroke="#b8b8b8" stroke-width="0.6"/>
<polyline points="372.24,257.94 372.24,254.06 380.07,254.06" fill="none" stroke="#666666" stroke-width="0.6"/>
<polyline points="380.07,254.06 380.07,251.48 387.9,251.48" fill="none" stroke="#666666" stroke-width="0.6"/>
<polyline points="380.07,254.06 380.07,256.64 387.9,256.64" fill="none" stroke="#b8b8b8" stroke-width="0.6"/>
<polyline points="372.24,257.94 372.24,261.81 387.9,261.81" fill="none" stroke="#b8b8b8" stroke-width="0.6"/>
<polyline points="364.41,262.45 364.41,266.97 387.9,266.97" fill="none" stroke="#666666" stroke-width="0.6"/>
<polyline points="356.58,267.29 356.58,272.13 387.9,272.13" fill="none" stroke="#666666" stroke-width="0.6"/>
<polyline points="317.43,263.41 317.43,277.3 387.9,277.3" fill="none" stroke="#666666" stroke-width="0.6"/>
<text x="389" y="180.1" font-size="3.3" font-weight="bold" fill="#4a4a4a" text-anchor="start" dominant-baseline="central" font-family="Liberation Sans" textLength="15.1" lengthAdjust="spacingAndGlyphs">Species 8</text>
<text x="389" y="185.26" font-size="3.3" font-weight="bold" fill="#4a4a4a" text-anchor="start" dominant-baseline="central" font-family="Liberation Sans" textLength="15.1" lengthAdjust="spacingAndGlyphs">Species 6</text>
<text x="389" y="190.43" font-size="3.3" font-weight="bold" fill="#2222ee" text-anchor="start" dominant-baseline="central" font-family="Liberation Sans" textLength="15.1" lengthAdjust="spacingAndGlyphs">Species 4</text>
<text x="389" y="195.59" font-size="3.3" font-weight="bold" fill="#4a4a4a" text-anchor="start" dominant-baseline="central" font-family="Liberation Sans" textLength="16.8" lengthAdjust="spacingAndGlyphs">Species 19</text>
<text x="389" y="200.75" font-size="3.3" font-weight="bold" fill="#4a4a4a" text-anchor="start" dominant-baseline="central" font-family="Liberation Sans" textLength="15.1" lengthAdjust="spacingAndGlyphs">Species 9</text>
<text x="389" y="205.91" font-size="3.3" font-weight="bold" fill="#4a4a4a" text-anchor="start" dominant-baseline="central" font-family="Liberation Sans" textLength="15.1" lengthAdjust="spacingAndGlyphs">Species 3</text>
<text x="389" y="211.08" font-size="3.3" font-weight="bold" fill="#4a4a4a" text-anchor="start" dominant-baseline="central" font-family="Liberation Sans" textLength="16.8" lengthAdjust="spacingAndGlyphs">Species 12</text>
<text x="389" y="216.24" font-size="3.3" font-weight="bold" fill="#4a4a4a" text-anchor="start" dominant-baseline="central" font-family="Liberation Sans" textLength="16.8" lengthAdjust="spacingAndGlyphs">Species 11</text>
<text x="389" y="221.4" font-size="3.3" font-weight="bold" fill="#4a4a4a" text-anchor="start" dominant-baseline="central" font-family="Liberation Sans" textLength="16.8" lengthAdjust="spacingAndGlyphs">Species 18</text>
<text x="389" y="226.57" font-size="3.3" font-weight="bold" fill="#4a4a4a" text-anchor="start" dominant-baseline="central" font-family="Liberation Sans" textLength="16.8" lengthAdjust="spacingAndGlyphs">Species 13</text>
<text x="389" y="231.73" font-size="3.3" font-weight="bold" fill="#4a4a4a" text-anchor="start" dominant-baseline="central" font-family="Liberation Sans" textLength="16.8" lengthAdjust="spacingAndGlyphs">Species 14</text>
<text x="389" y="236.89" font-size="3.3" font-weight="bold" fill="#4a4a4a" text-anchor="start" dominant-baseline="central" font-family="Liberation Sans" textLength="15.1" lengthAdjust="spacingAndGlyphs">Species 7</text>
<text x="389" y="242.06" font-size="3.3" font-weight="bold" fill="#4a4a4a" text-anchor="start" dominant-baseline="central" font-family="Liberation Sans" textLength="16.8" lengthAdjust="spacingAndGlyphs">Species 16</text>
<text x="389" y="247.22" font-size="3.3" font-weight="bold" fill="#4a4a4a" text-anchor="start" dominant-baseline="central" font-family="Liberation Sans" textLength="16.8" lengthAdjust="spacingAndGlyphs">Species 15</text>
<text x="389" y="252.38" font-size="3.3" font-weight="bold" fill="#4a4a4a" text-anchor="start" dominant-baseline="central" font-family="Liberation Sans" textLength="16.8" lengthAdjust="spacingAndGlyphs">Species 10</text>
<text x="389" y="257.54" font-size="3.3" font-weight="bold" fill="#4a4a4a" text-anchor="start" dominant-baseline="central" font-family="Liberation Sans" textLength="15.1" lengthAdjust="spacingAndGlyphs">Species 2</text>
<text x="389" y="262.71" font-size="3.3" font-weight="bold" fill="#4a4a4a" text-anchor="start" dominant-baseline="central" font-family="Liberation Sans" textLength="16.8" lengthAdjust="spacingAndGlyphs">Species 17</text>
<text x="389" y="267.87" font-size="3.3" font-weight="bold" fill="#4a4a4a" text-anchor="start" dominant-baseline="central" font-family="Liberation Sans" textLength="15.1" lengthAdjust="spacingAndGlyphs">Species 5</text>
<text x="389" y="273.03" font-size="3.3" font-weight="bold" fill="#4a4a4a" text-anchor="start" dominant-baseline="central" font-family="Liberation Sans" textLength="16.8" lengthAdjust="spacingAndGlyphs">Species 20</text>
<text x="389" y="278.2" font-size="3.3" font-weight="bold" fill="#4a4a4a" text-anchor="start" dominant-baseline="central" font-family="Liberation Sans" textLength="15.1" lengthAdjust="spacingAndGlyphs">Species 1</text>
<text x="422.3" y="5.6" font-size="13" font-weight="bold" fill="#000" text-anchor="start" dominant-baseline="central" font-family="Liberation Sans">b</text>
<line x1="466.3" y1="138.6" x2="493.3" y2="138.6" stroke="#666" stroke-width="0.9"/>
<line x1="511.9" y1="138.6" x2="538.9" y2="138.6" stroke="#666" stroke-width="0.9"/>
<rect x="557.3" y="124.4" width="13.2" height="14.2" fill="#c6d8ea" stroke="none" stroke-width="1"/>
<line x1="557.3" y1="124.4" x2="570.5" y2="124.4" stroke="#777" stroke-width="0.6"/>
<rect x="571" y="109.7" width="13.2" height="29" fill="#71a7cd" stroke="none" stroke-width="1"/>
<line x1="557.3" y1="138.6" x2="584.2" y2="138.6" stroke="#555" stroke-width="0.9"/>
<line x1="571" y1="124.4" x2="584.2" y2="124.4" stroke="#555" stroke-width="0.9"/>
<line x1="577.6" y1="95.2" x2="577.6" y2="109.7" stroke="#555" stroke-width="0.9"/>
<line x1="574.2" y1="95.2" x2="581.2" y2="95.2" stroke="#555" stroke-width="0.9"/>
<rect x="602.8" y="95.4" width="13.3" height="11.2" fill="#c6d8ea" stroke="none" stroke-width="1"/>
<line x1="602.8" y1="106.6" x2="616.1" y2="106.6" stroke="#555" stroke-width="0.9"/>
<line x1="609.6" y1="84.5" x2="609.6" y2="95.4" stroke="#555" stroke-width="0.9"/>
<line x1="606.3" y1="84.5" x2="613" y2="84.5" stroke="#555" stroke-width="0.9"/>
<line x1="616.1" y1="95.4" x2="629.8" y2="95.4" stroke="#555" stroke-width="0.9"/>
<rect x="648.2" y="113.1" width="13.3" height="8.2" fill="#c6d8ea" stroke="none" stroke-width="1"/>
<line x1="648.2" y1="113.1" x2="675.2" y2="113.1" stroke="#777" stroke-width="0.9"/>
<line x1="651" y1="121.3" x2="661.5" y2="121.3" stroke="#555" stroke-width="0.9"/>
<line x1="477.5" y1="136.3" x2="482.1" y2="140.9" stroke="#1f68b0" stroke-width="1.9"/>
<line x1="477.5" y1="140.9" x2="482.1" y2="136.3" stroke="#1f68b0" stroke-width="1.9"/>
<line x1="523.1" y1="136.3" x2="527.7" y2="140.9" stroke="#1f68b0" stroke-width="1.9"/>
<line x1="523.1" y1="140.9" x2="527.7" y2="136.3" stroke="#1f68b0" stroke-width="1.9"/>
<line x1="568.2" y1="136.3" x2="572.8" y2="140.9" stroke="#1f68b0" stroke-width="1.9"/>
<line x1="568.2" y1="140.9" x2="572.8" y2="136.3" stroke="#1f68b0" stroke-width="1.9"/>
<line x1="613.8" y1="104" x2="618.4" y2="108.6" stroke="#1f68b0" stroke-width="1.9"/>
<line x1="613.8" y1="108.6" x2="618.4" y2="104" stroke="#1f68b0" stroke-width="1.9"/>
<line x1="659.2" y1="119.01" x2="663.8" y2="123.61" stroke="#1f68b0" stroke-width="1.9"/>
<line x1="659.2" y1="123.61" x2="663.8" y2="119.01" stroke="#1f68b0" stroke-width="1.9"/>
<polyline points="457.3,3.2 683.6,3.2 683.6,147.4 457.3,147.4 457.3,3.2" fill="none" stroke="#333333" stroke-width="1.15"/>
<line x1="453.8" y1="138.6" x2="457.3" y2="138.6" stroke="#262626" stroke-width="0.9"/>
<text x="451.3" y="138.6" font-size="8.8" font-weight="normal" fill="#222" text-anchor="end" dominant-baseline="central" font-family="Liberation Sans" textLength="15.8" lengthAdjust="spacingAndGlyphs">0.00</text>
<line x1="453.8" y1="113.3" x2="457.3" y2="113.3" stroke="#262626" stroke-width="0.9"/>
<text x="451.3" y="113.3" font-size="8.8" font-weight="normal" fill="#222" text-anchor="end" dominant-baseline="central" font-family="Liberation Sans" textLength="15.8" lengthAdjust="spacingAndGlyphs">0.03</text>
<line x1="453.8" y1="88" x2="457.3" y2="88" stroke="#262626" stroke-width="0.9"/>
<text x="451.3" y="88" font-size="8.8" font-weight="normal" fill="#222" text-anchor="end" dominant-baseline="central" font-family="Liberation Sans" textLength="15.8" lengthAdjust="spacingAndGlyphs">0.06</text>
<line x1="453.8" y1="62.7" x2="457.3" y2="62.7" stroke="#262626" stroke-width="0.9"/>
<text x="451.3" y="62.7" font-size="8.8" font-weight="normal" fill="#222" text-anchor="end" dominant-baseline="central" font-family="Liberation Sans" textLength="15.8" lengthAdjust="spacingAndGlyphs">0.09</text>
<line x1="453.8" y1="37.4" x2="457.3" y2="37.4" stroke="#262626" stroke-width="0.9"/>
<text x="451.3" y="37.4" font-size="8.8" font-weight="normal" fill="#222" text-anchor="end" dominant-baseline="central" font-family="Liberation Sans" textLength="15.8" lengthAdjust="spacingAndGlyphs">0.12</text>
<line x1="453.8" y1="12.1" x2="457.3" y2="12.1" stroke="#262626" stroke-width="0.9"/>
<text x="451.3" y="12.1" font-size="8.8" font-weight="normal" fill="#222" text-anchor="end" dominant-baseline="central" font-family="Liberation Sans" textLength="15.8" lengthAdjust="spacingAndGlyphs">0.15</text>
<line x1="479.8" y1="147.4" x2="479.8" y2="150.9" stroke="#262626" stroke-width="0.9"/>
<text x="479.8" y="156.4" font-size="8.8" font-weight="normal" fill="#222" text-anchor="middle" dominant-baseline="central" font-family="Liberation Sans" textLength="8.3" lengthAdjust="spacingAndGlyphs">20</text>
<line x1="525.4" y1="147.4" x2="525.4" y2="150.9" stroke="#262626" stroke-width="0.9"/>
<text x="525.4" y="156.4" font-size="8.8" font-weight="normal" fill="#222" text-anchor="middle" dominant-baseline="central" font-family="Liberation Sans" textLength="8.3" lengthAdjust="spacingAndGlyphs">40</text>
<line x1="571" y1="147.4" x2="571" y2="150.9" stroke="#262626" stroke-width="0.9"/>
<text x="571" y="156.4" font-size="8.8" font-weight="normal" fill="#222" text-anchor="middle" dominant-baseline="central" font-family="Liberation Sans" textLength="8.3" lengthAdjust="spacingAndGlyphs">60</text>
<line x1="616.6" y1="147.4" x2="616.6" y2="150.9" stroke="#262626" stroke-width="0.9"/>
<text x="616.6" y="156.4" font-size="8.8" font-weight="normal" fill="#222" text-anchor="middle" dominant-baseline="central" font-family="Liberation Sans" textLength="8.3" lengthAdjust="spacingAndGlyphs">80</text>
<line x1="662.2" y1="147.4" x2="662.2" y2="150.9" stroke="#262626" stroke-width="0.9"/>
<text x="662.2" y="156.4" font-size="8.8" font-weight="normal" fill="#222" text-anchor="middle" dominant-baseline="central" font-family="Liberation Sans" textLength="12.6" lengthAdjust="spacingAndGlyphs">100</text>
<text x="428.4" y="75.5" font-size="8.9" font-weight="normal" fill="#222" text-anchor="middle" dominant-baseline="central" font-family="Liberation Sans" transform="rotate(-90 428.4 75.5)" textLength="9.3" lengthAdjust="spacingAndGlyphs">RF</text>
<text x="570.5" y="165.9" font-size="8.8" font-weight="normal" fill="#222" text-anchor="middle" dominant-baseline="central" font-family="Liberation Sans" textLength="103.7" lengthAdjust="spacingAndGlyphs">Number of sequences in gt</text>
<rect x="471.1" y="14.2" width="88" height="33" fill="#fff" stroke="#d8d8d8" stroke-width="0.7" rx="2"/>
<rect x="474.7" y="17.5" width="13.9" height="4.7" fill="#c6d8ea" stroke="none" stroke-width="1"/>
<rect x="474.7" y="28.2" width="13.9" height="4.4" fill="#71a7cd" stroke="none" stroke-width="1"/>
<line x1="479.9" y1="38.7" x2="483.7" y2="42.5" stroke="#1f68b0" stroke-width="1.5"/>
<line x1="479.9" y1="42.5" x2="483.7" y2="38.7" stroke="#1f68b0" stroke-width="1.5"/>
<text x="494.3" y="19.8" font-size="8.6" font-weight="normal" fill="#222" text-anchor="start" dominant-baseline="central" font-family="Liberation Sans" textLength="41.7" lengthAdjust="spacingAndGlyphs">RF(full, gt)</text>
<text x="494.3" y="30.4" font-size="8.6" font-weight="normal" fill="#222" text-anchor="start" dominant-baseline="central" font-family="Liberation Sans" textLength="43.7" lengthAdjust="spacingAndGlyphs">RF(high, gt)</text>
<text x="494.3" y="40.6" font-size="8.6" font-weight="normal" fill="#222" text-anchor="start" dominant-baseline="central" font-family="Liberation Sans" textLength="63" lengthAdjust="spacingAndGlyphs">RF(complete, gt)</text>
<text x="422.5" y="189.6" font-size="13" font-weight="bold" fill="#000" text-anchor="start" dominant-baseline="central" font-family="Liberation Sans">c</text>
<rect x="464.5" y="325.42" width="13.3" height="3.04" fill="#c6d8ea" stroke="none" stroke-width="1"/>
<line x1="464.5" y1="327.39" x2="477.8" y2="327.39" stroke="#444" stroke-width="0.8"/>
<line x1="471.1" y1="325.42" x2="471.1" y2="323.1" stroke="#444" stroke-width="0.7"/>
<line x1="468" y1="323.1" x2="474.3" y2="323.1" stroke="#444" stroke-width="0.7"/>
<line x1="471.1" y1="328.47" x2="471.1" y2="329.36" stroke="#444" stroke-width="0.7"/>
<line x1="468" y1="329.36" x2="474.3" y2="329.36" stroke="#444" stroke-width="0.7"/>
<rect x="477.8" y="328.11" width="13.3" height="1.07" fill="#71a7cd" stroke="none" stroke-width="1"/>
<line x1="477.8" y1="328.83" x2="491.1" y2="328.83" stroke="#444" stroke-width="0.8"/>
<line x1="484.4" y1="328.11" x2="484.4" y2="327.39" stroke="#444" stroke-width="0.7"/>
<line x1="481.3" y1="327.39" x2="487.6" y2="327.39" stroke="#444" stroke-width="0.7"/>
<line x1="484.4" y1="329.18" x2="484.4" y2="329.54" stroke="#444" stroke-width="0.7"/>
<line x1="481.3" y1="329.54" x2="487.6" y2="329.54" stroke="#444" stroke-width="0.7"/>
<rect x="510.3" y="326.14" width="13.3" height="2.33" fill="#c6d8ea" stroke="none" stroke-width="1"/>
<line x1="510.3" y1="327.39" x2="523.6" y2="327.39" stroke="#444" stroke-width="0.8"/>
<line x1="516.9" y1="326.14" x2="516.9" y2="325.96" stroke="#444" stroke-width="0.7"/>
<line x1="513.8" y1="325.96" x2="520.1" y2="325.96" stroke="#444" stroke-width="0.7"/>
<line x1="516.9" y1="328.47" x2="516.9" y2="328.83" stroke="#444" stroke-width="0.7"/>
<line x1="513.8" y1="328.83" x2="520.1" y2="328.83" stroke="#444" stroke-width="0.7"/>
<rect x="523.6" y="328.29" width="13.3" height="1.25" fill="#71a7cd" stroke="none" stroke-width="1"/>
<line x1="523.6" y1="329" x2="536.9" y2="329" stroke="#444" stroke-width="0.8"/>
<line x1="530.2" y1="328.29" x2="530.2" y2="328.11" stroke="#444" stroke-width="0.7"/>
<line x1="527.1" y1="328.11" x2="533.4" y2="328.11" stroke="#444" stroke-width="0.7"/>
<line x1="530.2" y1="329.54" x2="530.2" y2="329.72" stroke="#444" stroke-width="0.7"/>
<line x1="527.1" y1="329.72" x2="533.4" y2="329.72" stroke="#444" stroke-width="0.7"/>
<rect x="556.1" y="328.29" width="13.3" height="0.8" fill="#c6d8ea" stroke="none" stroke-width="1"/>
<line x1="556.1" y1="328.47" x2="569.4" y2="328.47" stroke="#444" stroke-width="0.8"/>
<line x1="562.7" y1="328.29" x2="562.7" y2="328.11" stroke="#444" stroke-width="0.7"/>
<line x1="559.6" y1="328.11" x2="565.9" y2="328.11" stroke="#444" stroke-width="0.7"/>
<line x1="562.7" y1="328.83" x2="562.7" y2="329" stroke="#444" stroke-width="0.7"/>
<line x1="559.6" y1="329" x2="565.9" y2="329" stroke="#444" stroke-width="0.7"/>
<rect x="569.4" y="328.83" width="13.3" height="0.8" fill="#71a7cd" stroke="none" stroke-width="1"/>
<line x1="569.4" y1="329" x2="582.7" y2="329" stroke="#444" stroke-width="0.8"/>
<line x1="576" y1="328.83" x2="576" y2="328.65" stroke="#444" stroke-width="0.7"/>
<line x1="572.9" y1="328.65" x2="579.2" y2="328.65" stroke="#444" stroke-width="0.7"/>
<line x1="576" y1="329.36" x2="576" y2="329.54" stroke="#444" stroke-width="0.7"/>
<line x1="572.9" y1="329.54" x2="579.2" y2="329.54" stroke="#444" stroke-width="0.7"/>
<rect x="602.1" y="324.89" width="13.3" height="3.58" fill="#c6d8ea" stroke="none" stroke-width="1"/>
<line x1="602.1" y1="327.03" x2="615.4" y2="327.03" stroke="#444" stroke-width="0.8"/>
<line x1="608.7" y1="324.89" x2="608.7" y2="323.1" stroke="#444" stroke-width="0.7"/>
<line x1="605.6" y1="323.1" x2="611.9" y2="323.1" stroke="#444" stroke-width="0.7"/>
<line x1="608.7" y1="328.47" x2="608.7" y2="329.36" stroke="#444" stroke-width="0.7"/>
<line x1="605.6" y1="329.36" x2="611.9" y2="329.36" stroke="#444" stroke-width="0.7"/>
<rect x="615.4" y="327.03" width="13.3" height="2.15" fill="#71a7cd" stroke="none" stroke-width="1"/>
<line x1="615.4" y1="328.11" x2="628.7" y2="328.11" stroke="#444" stroke-width="0.8"/>
<line x1="622" y1="327.03" x2="622" y2="326.32" stroke="#444" stroke-width="0.7"/>
<line x1="618.9" y1="326.32" x2="625.2" y2="326.32" stroke="#444" stroke-width="0.7"/>
<line x1="622" y1="329.18" x2="622" y2="329.54" stroke="#444" stroke-width="0.7"/>
<line x1="618.9" y1="329.54" x2="625.2" y2="329.54" stroke="#444" stroke-width="0.7"/>
<rect x="648.1" y="328.47" width="13.3" height="0.8" fill="#c6d8ea" stroke="none" stroke-width="1"/>
<line x1="648.1" y1="328.65" x2="661.4" y2="328.65" stroke="#444" stroke-width="0.8"/>
<line x1="654.7" y1="328.47" x2="654.7" y2="328.29" stroke="#444" stroke-width="0.7"/>
<line x1="651.6" y1="328.29" x2="657.9" y2="328.29" stroke="#444" stroke-width="0.7"/>
<line x1="654.7" y1="328.83" x2="654.7" y2="329" stroke="#444" stroke-width="0.7"/>
<line x1="651.6" y1="329" x2="657.9" y2="329" stroke="#444" stroke-width="0.7"/>
<rect x="661.4" y="328.65" width="13.3" height="0.8" fill="#71a7cd" stroke="none" stroke-width="1"/>
<line x1="661.4" y1="328.83" x2="674.7" y2="328.83" stroke="#444" stroke-width="0.8"/>
<line x1="668" y1="328.65" x2="668" y2="328.47" stroke="#444" stroke-width="0.7"/>
<line x1="664.9" y1="328.47" x2="671.2" y2="328.47" stroke="#444" stroke-width="0.7"/>
<line x1="668" y1="329" x2="668" y2="329.18" stroke="#444" stroke-width="0.7"/>
<line x1="664.9" y1="329.18" x2="671.2" y2="329.18" stroke="#444" stroke-width="0.7"/>
<line x1="475.5" y1="322.94" x2="480.1" y2="327.54" stroke="#1f68b0" stroke-width="1.9"/>
<line x1="475.5" y1="327.54" x2="480.1" y2="322.94" stroke="#1f68b0" stroke-width="1.9"/>
<line x1="521.3" y1="302.53" x2="525.9" y2="307.13" stroke="#1f68b0" stroke-width="1.9"/>
<line x1="521.3" y1="307.13" x2="525.9" y2="302.53" stroke="#1f68b0" stroke-width="1.9"/>
<line x1="567.1" y1="283.19" x2="571.7" y2="287.79" stroke="#1f68b0" stroke-width="1.9"/>
<line x1="567.1" y1="287.79" x2="571.7" y2="283.19" stroke="#1f68b0" stroke-width="1.9"/>
<line x1="613.1" y1="259.55" x2="617.7" y2="264.15" stroke="#1f68b0" stroke-width="1.9"/>
<line x1="613.1" y1="264.15" x2="617.7" y2="259.55" stroke="#1f68b0" stroke-width="1.9"/>
<line x1="659.1" y1="194.55" x2="663.7" y2="199.15" stroke="#1f68b0" stroke-width="1.9"/>
<line x1="659.1" y1="199.15" x2="663.7" y2="194.55" stroke="#1f68b0" stroke-width="1.9"/>
<polyline points="454.5,189.8 684,189.8 684,333.3 454.5,333.3 454.5,189.8" fill="none" stroke="#333333" stroke-width="1.15"/>
<line x1="451" y1="329.9" x2="454.5" y2="329.9" stroke="#262626" stroke-width="0.9"/>
<text x="448.5" y="329.9" font-size="8.8" font-weight="normal" fill="#222" text-anchor="end" dominant-baseline="central" font-family="Liberation Sans" textLength="5" lengthAdjust="spacingAndGlyphs">0</text>
<line x1="451" y1="303.04" x2="454.5" y2="303.04" stroke="#262626" stroke-width="0.9"/>
<text x="448.5" y="303.04" font-size="8.8" font-weight="normal" fill="#222" text-anchor="end" dominant-baseline="central" font-family="Liberation Sans" textLength="12.7" lengthAdjust="spacingAndGlyphs">150</text>
<line x1="451" y1="276.18" x2="454.5" y2="276.18" stroke="#262626" stroke-width="0.9"/>
<text x="448.5" y="276.18" font-size="8.8" font-weight="normal" fill="#222" text-anchor="end" dominant-baseline="central" font-family="Liberation Sans" textLength="12.7" lengthAdjust="spacingAndGlyphs">300</text>
<line x1="451" y1="249.32" x2="454.5" y2="249.32" stroke="#262626" stroke-width="0.9"/>
<text x="448.5" y="249.32" font-size="8.8" font-weight="normal" fill="#222" text-anchor="end" dominant-baseline="central" font-family="Liberation Sans" textLength="12.7" lengthAdjust="spacingAndGlyphs">450</text>
<line x1="451" y1="222.46" x2="454.5" y2="222.46" stroke="#262626" stroke-width="0.9"/>
<text x="448.5" y="222.46" font-size="8.8" font-weight="normal" fill="#222" text-anchor="end" dominant-baseline="central" font-family="Liberation Sans" textLength="12.7" lengthAdjust="spacingAndGlyphs">600</text>
<line x1="451" y1="195.6" x2="454.5" y2="195.6" stroke="#262626" stroke-width="0.9"/>
<text x="448.5" y="195.6" font-size="8.8" font-weight="normal" fill="#222" text-anchor="end" dominant-baseline="central" font-family="Liberation Sans" textLength="12.7" lengthAdjust="spacingAndGlyphs">750</text>
<line x1="477.8" y1="333.3" x2="477.8" y2="336.8" stroke="#262626" stroke-width="0.9"/>
<text x="477.8" y="342.6" font-size="8.8" font-weight="normal" fill="#222" text-anchor="middle" dominant-baseline="central" font-family="Liberation Sans" textLength="8.3" lengthAdjust="spacingAndGlyphs">20</text>
<line x1="523.6" y1="333.3" x2="523.6" y2="336.8" stroke="#262626" stroke-width="0.9"/>
<text x="523.6" y="342.6" font-size="8.8" font-weight="normal" fill="#222" text-anchor="middle" dominant-baseline="central" font-family="Liberation Sans" textLength="8.3" lengthAdjust="spacingAndGlyphs">40</text>
<line x1="569.4" y1="333.3" x2="569.4" y2="336.8" stroke="#262626" stroke-width="0.9"/>
<text x="569.4" y="342.6" font-size="8.8" font-weight="normal" fill="#222" text-anchor="middle" dominant-baseline="central" font-family="Liberation Sans" textLength="8.3" lengthAdjust="spacingAndGlyphs">60</text>
<line x1="615.4" y1="333.3" x2="615.4" y2="336.8" stroke="#262626" stroke-width="0.9"/>
<text x="615.4" y="342.6" font-size="8.8" font-weight="normal" fill="#222" text-anchor="middle" dominant-baseline="central" font-family="Liberation Sans" textLength="8.3" lengthAdjust="spacingAndGlyphs">80</text>
<line x1="661.4" y1="333.3" x2="661.4" y2="336.8" stroke="#262626" stroke-width="0.9"/>
<text x="661.4" y="342.6" font-size="8.8" font-weight="normal" fill="#222" text-anchor="middle" dominant-baseline="central" font-family="Liberation Sans" textLength="12.6" lengthAdjust="spacingAndGlyphs">100</text>
<text x="428.2" y="262" font-size="8.8" font-weight="normal" fill="#222" text-anchor="middle" dominant-baseline="central" font-family="Liberation Sans" transform="rotate(-90 428.2 262)" textLength="31.6" lengthAdjust="spacingAndGlyphs">Time (s)</text>
<text x="569.5" y="352" font-size="8.8" font-weight="normal" fill="#222" text-anchor="middle" dominant-baseline="central" font-family="Liberation Sans" textLength="103.7" lengthAdjust="spacingAndGlyphs">Number of sequences in gt</text>
<rect x="469.6" y="200.3" width="58.7" height="33.3" fill="#fff" stroke="#d8d8d8" stroke-width="0.7" rx="2"/>
<rect x="472.6" y="204.1" width="14.3" height="4.6" fill="#c6d8ea" stroke="none" stroke-width="1"/>
<rect x="472.6" y="214.3" width="14.3" height="4.6" fill="#71a7cd" stroke="none" stroke-width="1"/>
<line x1="477.7" y1="225" x2="481.5" y2="228.8" stroke="#1f68b0" stroke-width="1.5"/>
<line x1="477.7" y1="228.8" x2="481.5" y2="225" stroke="#1f68b0" stroke-width="1.5"/>
<text x="492.7" y="206.4" font-size="8.6" font-weight="normal" fill="#222" text-anchor="start" dominant-baseline="central" font-family="Liberation Sans" textLength="10.5" lengthAdjust="spacingAndGlyphs">full</text>
<text x="492.7" y="216.6" font-size="8.6" font-weight="normal" fill="#222" text-anchor="start" dominant-baseline="central" font-family="Liberation Sans" textLength="14.4" lengthAdjust="spacingAndGlyphs">high</text>
<text x="492.7" y="226.9" font-size="8.6" font-weight="normal" fill="#222" text-anchor="start" dominant-baseline="central" font-family="Liberation Sans" textLength="32.4" lengthAdjust="spacingAndGlyphs">complete</text>
<text x="422.5" y="374.2" font-size="13" font-weight="bold" fill="#000" text-anchor="start" dominant-baseline="central" font-family="Liberation Sans">e</text>
<line x1="464" y1="381.9" x2="670" y2="381.9" stroke="#f05050" stroke-width="1.2" stroke-dasharray="3,2.2"/>
<path d="M463.99,517.8 C465.07,516.87 467.61,514.5 470.5,512.2 C473.39,509.9 477.73,506.32 481.35,504 C484.97,501.68 488.58,499.92 492.2,498.3 C495.82,496.68 499.43,495.43 503.05,494.3 C506.67,493.17 508.47,492.52 513.9,491.5 C519.32,490.48 528.37,489.15 535.6,488.2 C542.83,487.25 550.07,486.53 557.3,485.8 C564.53,485.07 571.77,484.5 579,483.8 C586.23,483.1 593.47,482.47 600.7,481.6 C607.93,480.73 615.17,479.73 622.4,478.6 C629.63,477.47 638.31,475.82 644.1,474.8 C649.89,473.78 652.78,473.35 657.12,472.5 C661.46,471.65 667.97,470.17 670.14,469.7" fill="none" stroke="#2f7ebc" stroke-width="1.1"/>
<path d="M463.99,528.3 C465.07,527.38 467.61,524.77 470.5,522.8 C473.39,520.83 477.73,518.37 481.35,516.5 C484.97,514.63 488.58,512.98 492.2,511.6 C495.82,510.22 499.43,509.18 503.05,508.2 C506.67,507.22 508.47,506.62 513.9,505.7 C519.32,504.78 528.37,503.53 535.6,502.7 C542.83,501.87 550.07,501.25 557.3,500.7 C564.53,500.15 571.77,499.87 579,499.4 C586.23,498.93 593.47,498.43 600.7,497.9 C607.93,497.37 615.17,496.75 622.4,496.2 C629.63,495.65 638.31,495.05 644.1,494.6 C649.89,494.15 652.78,493.9 657.12,493.5 C661.46,493.1 667.97,492.42 670.14,492.2" fill="none" stroke="#f5872a" stroke-width="1.1"/>
<polyline points="453.2,374.7 680.3,374.7 680.3,535.2 453.2,535.2 453.2,374.7" fill="none" stroke="#333333" stroke-width="1.15"/>
<line x1="449.5" y1="491.1" x2="453.2" y2="491.1" stroke="#262626" stroke-width="0.9"/>
<line x1="449.5" y1="432.7" x2="453.2" y2="432.7" stroke="#262626" stroke-width="0.9"/>
<line x1="451.2" y1="531.92" x2="453.2" y2="531.92" stroke="#262626" stroke-width="0.7"/>
<line x1="451.2" y1="473.52" x2="453.2" y2="473.52" stroke="#262626" stroke-width="0.7"/>
<line x1="451.2" y1="415.12" x2="453.2" y2="415.12" stroke="#262626" stroke-width="0.7"/>
<line x1="451.2" y1="521.64" x2="453.2" y2="521.64" stroke="#262626" stroke-width="0.7"/>
<line x1="451.2" y1="463.24" x2="453.2" y2="463.24" stroke="#262626" stroke-width="0.7"/>
<line x1="451.2" y1="404.84" x2="453.2" y2="404.84" stroke="#262626" stroke-width="0.7"/>
<line x1="451.2" y1="514.34" x2="453.2" y2="514.34" stroke="#262626" stroke-width="0.7"/>
<line x1="451.2" y1="455.94" x2="453.2" y2="455.94" stroke="#262626" stroke-width="0.7"/>
<line x1="451.2" y1="397.54" x2="453.2" y2="397.54" stroke="#262626" stroke-width="0.7"/>
<line x1="451.2" y1="508.68" x2="453.2" y2="508.68" stroke="#262626" stroke-width="0.7"/>
<line x1="451.2" y1="450.28" x2="453.2" y2="450.28" stroke="#262626" stroke-width="0.7"/>
<line x1="451.2" y1="391.88" x2="453.2" y2="391.88" stroke="#262626" stroke-width="0.7"/>
<line x1="451.2" y1="504.06" x2="453.2" y2="504.06" stroke="#262626" stroke-width="0.7"/>
<line x1="451.2" y1="445.66" x2="453.2" y2="445.66" stroke="#262626" stroke-width="0.7"/>
<line x1="451.2" y1="387.26" x2="453.2" y2="387.26" stroke="#262626" stroke-width="0.7"/>
<line x1="451.2" y1="500.15" x2="453.2" y2="500.15" stroke="#262626" stroke-width="0.7"/>
<line x1="451.2" y1="441.75" x2="453.2" y2="441.75" stroke="#262626" stroke-width="0.7"/>
<line x1="451.2" y1="383.35" x2="453.2" y2="383.35" stroke="#262626" stroke-width="0.7"/>
<line x1="451.2" y1="496.76" x2="453.2" y2="496.76" stroke="#262626" stroke-width="0.7"/>
<line x1="451.2" y1="438.36" x2="453.2" y2="438.36" stroke="#262626" stroke-width="0.7"/>
<line x1="451.2" y1="379.96" x2="453.2" y2="379.96" stroke="#262626" stroke-width="0.7"/>
<line x1="451.2" y1="493.77" x2="453.2" y2="493.77" stroke="#262626" stroke-width="0.7"/>
<line x1="451.2" y1="435.37" x2="453.2" y2="435.37" stroke="#262626" stroke-width="0.7"/>
<line x1="451.2" y1="376.97" x2="453.2" y2="376.97" stroke="#262626" stroke-width="0.7"/>
<text x="435.8" y="491.8" font-size="9.3" font-weight="normal" fill="#222" text-anchor="start" dominant-baseline="central" font-family="Liberation Sans" textLength="9.5" lengthAdjust="spacingAndGlyphs">10</text>
<text x="445.8" y="489.5" font-size="6.4" font-weight="normal" fill="#222" text-anchor="start" dominant-baseline="central" font-family="Liberation Sans" textLength="3.3" lengthAdjust="spacingAndGlyphs">3</text>
<text x="435.8" y="433.4" font-size="9.3" font-weight="normal" fill="#222" text-anchor="start" dominant-baseline="central" font-family="Liberation Sans" textLength="9.5" lengthAdjust="spacingAndGlyphs">10</text>
<text x="445.8" y="431.1" font-size="6.4" font-weight="normal" fill="#222" text-anchor="start" dominant-baseline="central" font-family="Liberation Sans" textLength="3.3" lengthAdjust="spacingAndGlyphs">4</text>
<line x1="470.5" y1="535.2" x2="470.5" y2="538.7" stroke="#262626" stroke-width="0.9"/>
<text x="470.5" y="543" font-size="9.3" font-weight="normal" fill="#222" text-anchor="middle" dominant-baseline="central" font-family="Liberation Sans" textLength="10.2" lengthAdjust="spacingAndGlyphs">60</text>
<line x1="513.9" y1="535.2" x2="513.9" y2="538.7" stroke="#262626" stroke-width="0.9"/>
<text x="513.9" y="543" font-size="9.3" font-weight="normal" fill="#222" text-anchor="middle" dominant-baseline="central" font-family="Liberation Sans" textLength="10.2" lengthAdjust="spacingAndGlyphs">80</text>
<line x1="557.3" y1="535.2" x2="557.3" y2="538.7" stroke="#262626" stroke-width="0.9"/>
<text x="557.3" y="543" font-size="9.3" font-weight="normal" fill="#222" text-anchor="middle" dominant-baseline="central" font-family="Liberation Sans" textLength="15.3" lengthAdjust="spacingAndGlyphs">100</text>
<line x1="600.7" y1="535.2" x2="600.7" y2="538.7" stroke="#262626" stroke-width="0.9"/>
<text x="600.7" y="543" font-size="9.3" font-weight="normal" fill="#222" text-anchor="middle" dominant-baseline="central" font-family="Liberation Sans" textLength="15.3" lengthAdjust="spacingAndGlyphs">120</text>
<line x1="644.1" y1="535.2" x2="644.1" y2="538.7" stroke="#262626" stroke-width="0.9"/>
<text x="644.1" y="543" font-size="9.3" font-weight="normal" fill="#222" text-anchor="middle" dominant-baseline="central" font-family="Liberation Sans" textLength="15.3" lengthAdjust="spacingAndGlyphs">140</text>
<text x="429.7" y="455.2" font-size="9.4" font-weight="normal" fill="#222" text-anchor="middle" dominant-baseline="central" font-family="Liberation Sans" transform="rotate(-90 429.7 455.2)" textLength="33" lengthAdjust="spacingAndGlyphs">Time (s)</text>
<text x="567.5" y="552" font-size="9.4" font-weight="normal" fill="#222" text-anchor="middle" dominant-baseline="central" font-family="Liberation Sans" textLength="132" lengthAdjust="spacingAndGlyphs">Number of sequences in subtree</text>
<rect x="558.4" y="394.2" width="118.2" height="26.8" fill="#fff" stroke="#d8d8d8" stroke-width="0.7" rx="2"/>
<line x1="561" y1="401.2" x2="578.6" y2="401.2" stroke="#2f7ebc" stroke-width="1.1"/>
<line x1="561" y1="413" x2="578.6" y2="413" stroke="#f5872a" stroke-width="1.1"/>
<text x="584.6" y="401.4" font-size="9.5" font-weight="normal" fill="#222" text-anchor="start" dominant-baseline="central" font-family="Liberation Sans" textLength="43.6" lengthAdjust="spacingAndGlyphs">Full Length</text>
<text x="584.6" y="413.2" font-size="9.5" font-weight="normal" fill="#222" text-anchor="start" dominant-baseline="central" font-family="Liberation Sans" textLength="88.6" lengthAdjust="spacingAndGlyphs">High Attention Region</text>
<text x="0" y="297.5" font-size="13.5" font-weight="bold" fill="#000" text-anchor="start" dominant-baseline="central" font-family="Liberation Sans">d</text>
<rect x="28.2" y="306.4" width="107.1" height="58.2" fill="#fff" stroke="#444" stroke-width="0.8"/>
<text x="31" y="311.8" font-size="5.2" font-weight="normal" fill="#222" text-anchor="start" dominant-baseline="central" font-family="Liberation Serif" textLength="4" lengthAdjust="spacingAndGlyphs">(i)</text>
<text x="61.3" y="316.3" font-size="5.3" font-weight="normal" fill="#111" text-anchor="end" dominant-baseline="central" font-family="Liberation Serif" font-style="italic" textLength="12.1" lengthAdjust="spacingAndGlyphs">Vigna</text>
<text x="65.5" y="325.3" font-size="5.3" font-weight="normal" fill="#111" text-anchor="end" dominant-baseline="central" font-family="Liberation Serif" font-style="italic" textLength="14" lengthAdjust="spacingAndGlyphs">Acacia</text>
<text x="37.1" y="332.3" font-size="5.1" font-weight="normal" fill="#111" text-anchor="start" dominant-baseline="central" font-family="Liberation Serif" font-style="italic" textLength="26.9" lengthAdjust="spacingAndGlyphs">Acacia/Ingea/</text>
<text x="37.1" y="336.3" font-size="5.1" font-weight="normal" fill="#111" text-anchor="start" dominant-baseline="central" font-family="Liberation Serif" font-style="italic" textLength="20.8" lengthAdjust="spacingAndGlyphs">Dalbergia</text>
<text x="36.8" y="342.4" font-size="5.2" font-weight="normal" fill="#a81c2c" text-anchor="start" dominant-baseline="central" font-family="Liberation Serif" font-style="italic" textLength="43.4" lengthAdjust="spacingAndGlyphs">Polygala longicaudata</text>
<text x="52.6" y="350.6" font-size="5.2" font-weight="normal" fill="#a81c2c" text-anchor="start" dominant-baseline="central" font-family="Liberation Serif" font-style="italic" textLength="39" lengthAdjust="spacingAndGlyphs">Polygala balduinii</text>
<text x="57.3" y="358.2" font-size="5.2" font-weight="normal" fill="#a81c2c" text-anchor="start" dominant-baseline="central" font-family="Liberation Serif" font-style="italic" textLength="37" lengthAdjust="spacingAndGlyphs">Polygala vulgaris</text>
<polyline points="63.2,314.6 105.6,316.4 63.2,318.2 63.2,314.6" fill="none" stroke="#111" stroke-width="0.9"/>
<polyline points="67.8,320.7 105.6,324.3 67.8,328.4 67.8,320.7" fill="none" stroke="#111" stroke-width="0.9"/>
<polyline points="66.4,329.9 108.1,334.5 66.4,339.1 66.4,329.9" fill="none" stroke="#111" stroke-width="0.9"/>
<line x1="105.6" y1="316.4" x2="105.6" y2="324.3" stroke="#111" stroke-width="0.9"/>
<line x1="105.6" y1="320.3" x2="108.1" y2="320.3" stroke="#111" stroke-width="0.9"/>
<line x1="108.1" y1="320.3" x2="108.1" y2="334.5" stroke="#111" stroke-width="0.9"/>
<line x1="108.1" y1="327.9" x2="112.7" y2="327.9" stroke="#111" stroke-width="0.9"/>
<line x1="112.7" y1="327.9" x2="112.7" y2="339.6" stroke="#111" stroke-width="0.9"/>
<line x1="112.7" y1="339.6" x2="117.8" y2="339.6" stroke="#111" stroke-width="0.9"/>
<polyline points="82.2,342.3 102.3,342.3 102.3,347.3 112.7,347.3 112.7,339.6" fill="none" stroke="#a81c2c" stroke-width="0.9"/>
<polyline points="102.3,347.3 102.3,354.4" fill="none" stroke="#a81c2c" stroke-width="0.9"/>
<polyline points="92.5,350.7 100,350.7 100,358.1 98.5,358.1" fill="none" stroke="#a81c2c" stroke-width="0.9"/>
<line x1="100" y1="354.4" x2="102.3" y2="354.4" stroke="#a81c2c" stroke-width="0.9"/>
<circle cx="116.4" cy="335" r="2.8" fill="#a81c2c"/>
<line x1="114.8" y1="335" x2="118" y2="335" stroke="#fff" stroke-width="0.8"/>
<line x1="116.4" y1="333.4" x2="116.4" y2="336.6" stroke="#fff" stroke-width="0.8"/>
<text x="121" y="335.2" font-size="4.8" font-weight="bold" fill="#a81c2c" text-anchor="start" dominant-baseline="central" font-family="Liberation Sans">OOD</text>
<text x="68.8" y="370.4" font-size="6.6" font-weight="normal" fill="#111" text-anchor="middle" dominant-baseline="central" font-family="Liberation Sans" textLength="64.3" lengthAdjust="spacingAndGlyphs">The subtree of Fabales</text>
<rect x="10.9" y="460.3" width="79.4" height="73.4" fill="#fff" stroke="#444" stroke-width="0.8"/>
<line x1="90.3" y1="460.3" x2="85" y2="460.3" stroke="#444" stroke-width="0.6"/>
<text x="13.7" y="467.2" font-size="5.6" font-weight="normal" fill="#222" text-anchor="start" dominant-baseline="central" font-family="Liberation Serif" textLength="7.8" lengthAdjust="spacingAndGlyphs">(ii)</text>
<path d="M54.2,468.5L54.2,484.6M54.2,484.6L56.8,484.6M56.8,484.6L56.8,489.2M56.8,489.2L58.8,489.2M58.8,489.2L58.8,506M58.8,506L60.7,506M60.7,506L60.7,516.4M60.7,516.4L62.6,516.4M62.6,516.4L62.6,528.5" stroke="#111" stroke-width="0.9" fill="none"/>
<path d="M54.2,468.5L51.75,468.5M51.75,467.6L51.75,469.4M51.75,467.6L49.95,467.6M54.2,470L50.28,470M50.28,469.1L50.28,470.9M50.28,469.1L48.48,469.1M54.2,471.5L52.65,471.5M52.65,470.6L52.65,472.4M52.65,470.6L50.85,470.6M54.2,474L51.76,474M51.76,473.1L51.76,474.9M51.76,473.1L49.96,473.1M54.2,476.5L49.35,476.5M54.2,478.5L52.1,478.5M54.2,480.5L50.61,480.5M54.2,482.5L52.44,482.5M56.8,487.5L51.84,487.5M58.8,490.5L53.78,490.5M58.8,492.5L55.72,492.5M55.72,491.6L55.72,493.4M55.72,491.6L53.92,491.6M58.8,495L53.56,495M53.56,494.1L53.56,495.9M53.56,494.1L51.76,494.1M58.8,499.5L53.44,499.5M58.8,501.5L56.1,501.5M56.1,500.6L56.1,502.4M56.1,500.6L54.3,500.6M58.8,503.5L55.9,503.5M60.7,507L55.58,507M60.7,509.5L55.77,509.5M60.7,512L58.55,512M60.7,514.5L55.58,514.5M62.6,517L60.26,517M62.6,521L57.68,521M57.68,520.1L57.68,521.9M57.68,520.1L55.88,520.1M62.6,523L57.9,523M57.9,522.1L57.9,523.9M57.9,522.1L56.1,522.1M62.6,525L59.92,525M62.6,527L60.92,527M60.92,526.1L60.92,527.9M60.92,526.1L59.12,526.1" stroke="#111" stroke-width="0.6" fill="none"/>
<path d="M56.8,485.5L54.09,485.5M58.8,497L56.76,497M62.6,519.5L59.96,519.5M62.6,528.5L58.23,528.5" stroke="#999" stroke-width="0.6" fill="none"/>
<line x1="22.5" y1="509.2" x2="59.4" y2="509.2" stroke="#111" stroke-width="0.9"/>
<polyline points="64.2,522.2 86,522.2 86,528.6 64.2,528.6" fill="none" stroke="#111" stroke-width="0.8"/>
<line x1="86" y1="525.9" x2="88.5" y2="525.9" stroke="#111" stroke-width="0.8"/>
<text x="20.9" y="494" font-size="5.6" font-weight="normal" fill="#a81c2c" text-anchor="start" dominant-baseline="central" font-family="Liberation Serif" font-style="italic" textLength="23.3" lengthAdjust="spacingAndGlyphs">P. swinglei</text>
<text x="20" y="499.4" font-size="5.6" font-weight="normal" fill="#a81c2c" text-anchor="start" dominant-baseline="central" font-family="Liberation Serif" font-style="italic" textLength="31.4" lengthAdjust="spacingAndGlyphs">P. trilbracheata</text>
<line x1="45" y1="494" x2="49" y2="494" stroke="#a81c2c" stroke-width="0.6"/>
<line x1="52" y1="499.2" x2="56" y2="499.2" stroke="#a81c2c" stroke-width="0.6"/>
<circle cx="63.9" cy="497.1" r="2.7" fill="#a81c2c"/>
<line x1="62.3" y1="497.1" x2="65.5" y2="497.1" stroke="#fff" stroke-width="0.8"/>
<line x1="63.9" y1="495.5" x2="63.9" y2="498.7" stroke="#fff" stroke-width="0.8"/>
<text x="67.3" y="497.3" font-size="5" font-weight="bold" fill="#a81c2c" text-anchor="start" dominant-baseline="central" font-family="Liberation Sans">ID</text>
<text x="49.2" y="539.3" font-size="6.6" font-weight="normal" fill="#111" text-anchor="middle" dominant-baseline="central" font-family="Liberation Sans" textLength="69.3" lengthAdjust="spacingAndGlyphs">The subtree of <tspan font-style="italic">Primulina</tspan></text>
<line x1="93" y1="546.3" x2="102" y2="546.3" stroke="#444" stroke-width="0.5"/>
<text x="97.5" y="549.3" font-size="2.6" font-weight="normal" fill="#444" text-anchor="middle" dominant-baseline="central" font-family="Liberation Sans">41</text>
<path d="M102.11,374.58 A125,125 0 0 1 139.19,336.64 L161.21,370.04 L135.99,395.83 Z" fill="#fff" stroke="#333" stroke-width="0.6"/>
<path d="M108.44,515.75 A124.5,124.5 0 0 1 86.22,415.11 L124.86,424.84 L110.44,505.58 Z" fill="#fff" stroke="#333" stroke-width="0.6"/>
<polygon points="296.6,399.12 297.34,400.72 298.05,402.34 298.73,403.96 299.38,405.6 300.01,407.26 300.6,408.92 301.16,410.59 301.7,412.27 302.2,413.97 302.67,415.67 303.11,417.37 303.52,419.09 303.9,420.81 304.25,422.54 304.56,424.28 304.85,426.02 305.1,427.77 305.33,429.52 305.52,431.27 305.68,433.03 305.8,434.79 305.9,436.55 259,425.5 252.5,415.5" fill="#cfcecf" stroke="none" stroke-width="1"/>
<polygon points="248.48,351.75 250.05,352.48 251.61,353.24 253.15,354.02 254.67,354.83 256.19,355.67 257.68,356.53 259.17,357.42 260.63,358.33 262.08,359.27 263.52,360.24 264.93,361.23 266.33,362.25 267.71,363.29 269.07,364.35 270.41,365.44 271.73,366.56 273.04,367.69 274.32,368.85 275.58,370.03 276.82,371.23 278.04,372.46 279.24,373.7 280.42,374.97 281.57,376.26 282.7,377.57 283.81,378.89 284.89,380.24 285.95,381.61 286.99,382.99 288,384.39 288.98,385.81 289.94,387.25 290.88,388.7 291.79,390.17 292.67,391.66 293.53,393.16 294.36,394.67 295.16,396.2 251.5,414.5 236,409.5 228.5,400 232.4,386 241,366" fill="#cfcecf" stroke="none" stroke-width="1"/>
<polygon points="227.03,344.87 228.8,345.23 230.56,345.63 232.31,346.06 234.05,346.53 235.79,347.02 237.51,347.55 239.23,348.11 240.93,348.7 242.63,349.32 244.31,349.97 245.98,350.66 221.2,378.7" fill="#cfcecf" stroke="none" stroke-width="1"/>
<polygon points="215.52,343.29 217.22,343.43 218.92,343.61 220.62,343.82 222.32,344.05 224.01,344.32 218.5,377 216.5,393.5 212,394 212.8,377" fill="#cfcecf" stroke="none" stroke-width="1"/>
<polygon points="204.58,343.06 206.29,343.01 208,343 209.71,343.01 211.42,343.06 213.13,343.13 211.2,377 210,394.5 198,395 195.8,381.5" fill="#cfcecf" stroke="none" stroke-width="1"/>
<polygon points="165.19,352.84 166.76,352.1 168.34,351.39 169.93,350.7 171.53,350.04 173.14,349.41 174.77,348.81 176.4,348.23 178.05,347.69 179.7,347.17 181.37,346.69 183.04,346.23 184.72,345.81 186.4,345.41 188.1,345.04 189.8,344.71 191.5,344.4 193.21,344.12 194.93,343.88 196.65,343.66 198.37,343.47 200.1,343.32 201.82,343.19 203.55,343.1 194.3,382.5 191,396.5 184,398 177.5,398" fill="#cfcecf" stroke="none" stroke-width="1"/>
<polygon points="153.91,359.28 155.46,358.27 157.04,357.29 158.63,356.34 160.24,355.43 161.87,354.54 163.51,353.68 176,398 171.5,401 163,372" fill="#cfcecf" stroke="none" stroke-width="1"/>
<polygon points="123.82,390.82 124.73,389.33 125.66,387.86 126.62,386.41 127.6,384.97 128.61,383.55 129.64,382.15 130.7,380.76 131.78,379.4 132.89,378.05 134.02,376.73 135.17,375.43 136.35,374.14 137.55,372.88 138.77,371.64 140.01,370.42 141.28,369.22 142.56,368.05 143.87,366.9 145.2,365.77 146.54,364.66 147.91,363.58 149.3,362.53 165.5,411 163.5,411.5" fill="#cfcecf" stroke="none" stroke-width="1"/>
<polygon points="111.74,422.64 112.09,420.88 112.47,419.14 112.88,417.4 113.33,415.67 113.81,413.95 114.32,412.24 114.86,410.54 115.43,408.84 116.03,407.16 116.66,405.49 117.32,403.83 118.01,402.18 118.74,400.55 119.49,398.93 120.27,397.32 121.08,395.73 121.92,394.15 122.79,392.59 160,416.5 158.6,431" fill="#cfcecf" stroke="none" stroke-width="1"/>
<polygon points="129.12,499.16 128.12,497.77 127.14,496.37 126.18,494.95 125.26,493.51 124.35,492.06 123.47,490.59 122.62,489.11 121.79,487.61 120.99,486.1 120.22,484.57 119.47,483.04 118.75,481.48 118.06,479.92 117.39,478.34 116.76,476.76 116.15,475.16 115.56,473.55 115.01,471.93 114.48,470.31 113.99,468.67 113.52,467.02 113.08,465.37 112.67,463.71 112.29,462.04 111.93,460.37 111.61,458.69 111.32,457.01 111.05,455.32 110.82,453.62 110.61,451.92 110.43,450.22 110.29,448.52 110.17,446.81 110.09,445.1 110.03,443.39 110,441.68 110.01,439.97 110.04,438.26 110.1,436.55 110.19,434.85 110.32,433.14 110.47,431.44 110.65,429.74 110.86,428.04 111.1,426.35 111.37,424.66 111.67,422.97 151.7,445.5 157.5,446 160.5,456 169.5,470" fill="#cfcecf" stroke="none" stroke-width="1"/>
<polygon points="135.63,507.08 134.44,505.76 133.28,504.41 132.14,503.04 131.03,501.66 129.94,500.25 172.5,475.5 174.5,478.5" fill="#cfcecf" stroke="none" stroke-width="1"/>
<polygon points="213.81,538.83 212.08,538.92 210.34,538.97 208.6,539 206.86,538.99 205.12,538.96 203.39,538.89 201.65,538.79 199.92,538.67 198.19,538.51 196.46,538.32 194.73,538.1 193.01,537.85 191.3,537.57 189.59,537.25 187.88,536.91 186.19,536.54 184.49,536.14 182.81,535.71 181.14,535.25 179.47,534.75 177.81,534.23 176.16,533.68 174.52,533.1 172.89,532.5 171.28,531.86 169.67,531.19 168.08,530.5 166.49,529.78 164.93,529.03 163.37,528.25 161.83,527.44 160.31,526.61 158.79,525.75 157.3,524.87 155.82,523.95 154.36,523.01 152.91,522.05 151.48,521.06 150.07,520.04 148.68,519.01 147.3,517.94 145.95,516.85 144.61,515.74 143.3,514.6 142,513.44 140.73,512.26 139.47,511.06 138.24,509.83 137.03,508.58 176.5,482 181,484.8 195,484.5 206.5,484.5" fill="#cfcecf" stroke="none" stroke-width="1"/>
<polygon points="282.19,505.04 281.06,506.32 279.91,507.59 278.73,508.83 277.54,510.05 276.32,511.26 275.09,512.44 273.83,513.6 272.55,514.74 271.25,515.85 269.94,516.94 268.6,518.01 267.25,519.06 265.88,520.08 264.49,521.08 263.08,522.05 261.66,523 260.22,523.93 258.77,524.83 257.3,525.7 255.81,526.55 254.31,527.37 252.8,528.16 251.27,528.93 249.73,529.67 248.17,530.39 246.61,531.08 245.03,531.74 243.44,532.37 241.84,532.97 240.23,533.55 238.61,534.1 236.98,534.62 235.34,535.11 233.69,535.57 232.04,536.01 230.38,536.41 228.71,536.79 227.03,537.13 225.35,537.45 223.67,537.74 221.98,538 220.28,538.23 218.58,538.43 216.88,538.6 215.18,538.74 211.8,484.5 225.4,476 240,469.5 244.5,468" fill="#cfcecf" stroke="none" stroke-width="1"/>
<polygon points="298.47,478.66 297.78,480.29 297.05,481.91 296.3,483.52 295.51,485.11 294.7,486.69 293.86,488.25 292.99,489.8 292.09,491.33 291.17,492.84 290.21,494.34 289.23,495.82 288.23,497.28 287.2,498.72 286.14,500.15 285.05,501.55 283.94,502.94 246.5,466 249,460.5" fill="#cfcecf" stroke="none" stroke-width="1"/>
<polygon points="304.13,460.03 303.78,461.73 303.4,463.41 302.99,465.09 302.55,466.76 302.08,468.42 301.59,470.08 301.06,471.72 300.5,473.36 299.92,474.98 299.31,476.6 249.5,458 246,452" fill="#cfcecf" stroke="none" stroke-width="1"/>
<polygon points="305.93,437.24 305.98,438.98 306,440.71 305.99,442.45 305.95,444.19 305.88,445.93 305.77,447.67 305.64,449.4 305.47,451.13 305.28,452.86 305.05,454.58 304.8,456.3 304.51,458.02 245,450.5 236,447 234.5,441.5" fill="#cfcecf" stroke="none" stroke-width="1"/>
<line x1="236" y1="443.35" x2="306.49" y2="442.2" stroke="#fff" stroke-width="0.55"/>
<line x1="236" y1="444.4" x2="306.38" y2="445.81" stroke="#fff" stroke-width="0.55"/>
<line x1="236" y1="445.45" x2="306.14" y2="449.41" stroke="#fff" stroke-width="0.55"/>
<line x1="236" y1="446.5" x2="305.77" y2="453" stroke="#fff" stroke-width="0.55"/>
<polygon points="319.55,434.96 318.36,435.32 317.28,435.66 316.76,435.98 316.57,436.27 316.38,436.57 316.19,436.87 315.55,437.18 314.91,437.48 314.45,437.78 314.41,438.06 314.39,438.35 314.38,438.63 314.36,438.91 314.21,439.2 314.09,439.48 314.01,439.76 313.98,440.05 314.5,440.32 315.56,440.6 316.07,440.89 315.79,441.17 315.57,441.46 315.36,441.74 315.24,442.03 315.14,442.31 305.59,442.19 305.6,441.93 305.6,441.67 305.6,441.42 305.6,441.16 305.6,440.9 305.6,440.64 305.6,440.38 305.6,440.12 305.59,439.86 305.59,439.6 305.59,439.34 305.58,439.09 305.58,438.83 305.57,438.57 305.56,438.31 305.56,438.05 305.55,437.79 305.54,437.53 305.53,437.27 305.52,437.02 305.51,436.76 305.5,436.5 305.48,436.24 305.47,435.98 305.46,435.72" fill="#060606" stroke="#060606" stroke-width="0.15"/>
<polygon points="315.14,442.31 315.05,442.61 314.96,442.91 314.87,443.21 315.53,443.53 316.47,443.86 316.88,444.17 316.69,444.47 316.51,444.77 316.65,445.09 317.03,445.41 317.86,445.75 318.77,446.1 319.78,446.47 305.48,445.77 305.5,445.49 305.51,445.22 305.52,444.94 305.53,444.67 305.54,444.39 305.55,444.12 305.56,443.84 305.57,443.57 305.57,443.29 305.58,443.02 305.58,442.74 305.59,442.47 305.59,442.19" fill="#27271a" stroke="#27271a" stroke-width="0.15"/>
<polygon points="319.78,446.47 320.78,446.81 320.53,447.09 320.24,447.37 319.93,447.65 319.61,447.92 319.32,448.2 319.01,448.47 318.7,448.74 318.35,449.01 318,449.27 317.65,449.53 317.08,449.78 316.46,450.01 316.5,450.3 305.24,449.34 305.26,449.08 305.29,448.83 305.31,448.57 305.33,448.32 305.34,448.06 305.36,447.81 305.38,447.55 305.4,447.3 305.41,447.04 305.43,446.79 305.44,446.53 305.46,446.28 305.47,446.02 305.48,445.77" fill="#3b3b1c" stroke="#3b3b1c" stroke-width="0.15"/>
<polygon points="316.5,450.3 316.66,450.62 316.74,450.94 316.65,451.24 316.58,451.54 316.51,451.85 316.45,452.15 316.33,452.44 316.19,452.74 316.04,453.03 315.8,453.31 314.76,453.5 313.97,453.71 313.76,453.99 304.87,452.89 304.91,452.62 304.94,452.35 304.97,452.07 305,451.8 305.03,451.53 305.06,451.25 305.09,450.98 305.12,450.71 305.14,450.43 305.17,450.16 305.19,449.88 305.22,449.61 305.24,449.34" fill="#6e6a28" stroke="#6e6a28" stroke-width="0.15"/>
<polygon points="313.76,453.99 314.57,454.38 315.74,454.82 317.26,455.32 315.63,455.4 314.22,455.51 313.4,455.69 313.33,455.97 313.28,456.25 313.34,456.55 313.8,456.92 314.58,457.33 315.43,457.76 315.1,458.01 314.79,458.25 314.5,458.5 314.22,458.75 313.97,459.01 313.89,459.29 313.82,459.57 313.74,459.86 314,460.2 314.87,460.66 315.98,461.17 317.01,461.66 315.89,461.75 314.91,461.87 314.1,462.01 303.74,459.96 303.79,459.7 303.84,459.44 303.89,459.18 303.94,458.92 303.99,458.66 304.04,458.4 304.08,458.13 304.13,457.87 304.18,457.61 304.22,457.35 304.26,457.09 304.31,456.83 304.35,456.57 304.39,456.31 304.43,456.04 304.47,455.78 304.51,455.52 304.55,455.26 304.59,455 304.63,454.73 304.67,454.47 304.7,454.21 304.74,453.95 304.77,453.68 304.81,453.42 304.84,453.16 304.87,452.89" fill="#1b6c3e" stroke="#1b6c3e" stroke-width="0.15"/>
<polygon points="314.1,462.01 313.48,462.17 314.33,462.64 315.78,463.23 317.26,463.84 317.36,464.16 317.43,464.48 317.5,464.79 317.56,465.11 317.29,465.36 316.36,465.45 315.51,465.55 314.85,465.7 314.87,466 314.89,466.31 314.91,466.61 314.92,466.91 314.94,467.22 314.62,467.44 314,467.58 313.43,467.73 312.92,467.9 312.47,468.08 312.08,468.27 311.87,468.51 311.69,468.76 311.52,469 311.34,469.25 311.15,469.49 310.97,469.73 310.81,469.98 310.64,470.23 310.47,470.47 310.31,470.72 310.4,471.04 310.73,471.43 311.28,471.89 312.03,472.41 312.97,473 313.21,473.38 313.28,473.7 313.36,474.03 313.45,474.37 313.56,474.71 313.69,475.06 313.13,475.19 312.58,475.32 312.07,475.45 311.59,475.6 311.13,475.75 310.86,475.96 311.11,476.35 311.38,476.75 311.68,477.16 311.99,477.57 312.32,478 312.77,478.47 313.44,479.03 314.16,479.6 314.92,480.2 313.2,479.89 311.07,479.41 309.46,479.11 308.49,479.05 308.91,479.52 309.48,480.04 310.37,480.69 311.69,481.52 313.28,482.46 313.52,482.88 312.05,482.62 298.62,477.25 298.72,477.01 298.81,476.77 298.9,476.53 299,476.29 299.09,476.04 299.18,475.8 299.28,475.56 299.37,475.32 299.46,475.08 299.55,474.84 299.64,474.6 299.72,474.35 299.81,474.11 299.9,473.87 299.99,473.63 300.07,473.38 300.16,473.14 300.24,472.9 300.33,472.65 300.41,472.41 300.49,472.16 300.57,471.92 300.65,471.67 300.74,471.43 300.82,471.18 300.9,470.94 300.97,470.69 301.05,470.45 301.13,470.2 301.21,469.95 301.28,469.71 301.36,469.46 301.43,469.21 301.51,468.97 301.58,468.72 301.65,468.47 301.73,468.22 301.8,467.98 301.87,467.73 301.94,467.48 302.01,467.23 302.08,466.98 302.15,466.74 302.21,466.49 302.28,466.24 302.35,465.99 302.41,465.74 302.48,465.49 302.54,465.24 302.61,464.99 302.67,464.74 302.73,464.49 302.79,464.24 302.85,463.99 302.91,463.74 302.97,463.49 303.03,463.23 303.09,462.98 303.15,462.73 303.21,462.48 303.26,462.23 303.32,461.98 303.37,461.73 303.43,461.47 303.48,461.22 303.54,460.97 303.59,460.72 303.64,460.46 303.69,460.21 303.74,459.96" fill="#1d9a6e" stroke="#1d9a6e" stroke-width="0.15"/>
<polygon points="312.05,482.62 310.75,482.41 309.61,482.27 308.67,482.19 307.92,482.19 308.02,482.55 308.6,483.1 309.35,483.73 309.31,484.02 309.27,484.32 309.19,484.61 308.69,484.7 308.21,484.81 307.78,484.94 307.39,485.08 307.03,485.23 307.61,485.81 308.74,486.64 310.22,487.63 312.01,488.78 310.5,488.41 309,488.04 307.73,487.77 306.72,487.62 307.15,488.14 307.66,488.71 308.25,489.32 308.93,489.97 309.68,490.67 309.97,491.14 309.61,491.3 309.25,491.46 308.91,491.62 308.58,491.78 308.25,491.95 308.14,492.23 308.06,492.52 307.99,492.82 307.9,493.11 307.71,493.35 307.53,493.58 307.34,493.82 307.15,494.06 306.97,494.29 306.15,494.19 305.22,494.01 304.43,493.92 304.45,494.26 305.19,495 306.12,495.86 307.23,496.82 307.04,497.06 306.4,497.04 305.78,497.04 305.2,497.04 304.5,496.97 303.69,496.85 302.96,496.76 302.31,496.71 301.74,496.71 301.28,496.77 301.14,497.02 301.02,497.28 300.91,497.55 300.84,497.84 300.96,498.25 301.4,498.87 301.98,499.57 302.7,500.37 303.44,501.18 303.5,501.57 303.57,501.97 303.66,502.38 301.89,501.6 300.19,500.85 298.91,500.36 298.13,500.19 297.44,500.07 296.84,500.01 296.33,500.01 296.36,500.37 296.44,500.76 296.55,501.18 296.7,501.62 296.91,502.11 297.18,502.64 297.49,503.21 297.83,503.8 296.98,503.55 295.85,503.1 295.13,502.94 294.78,503.04 294.46,503.15 294.16,503.29 293.89,503.44 293.67,503.62 293.55,503.89 293.44,504.15 293.32,504.41 293.2,504.67 293.08,504.93 292.92,505.16 292.74,505.38 292.56,505.6 292.38,505.81 292.19,506.02 292.18,506.36 292.21,506.74 292.27,507.15 292.36,507.58 292.71,508.23 293.15,508.94 293.36,509.48 293.12,509.65 292.87,509.82 292.62,509.99 292.31,510.11 291.87,510.12 291.44,510.14 291.02,510.16 290.6,510.18 290.07,510.1 289.58,510.06 289.12,510.04 282.33,504.26 282.49,504.06 282.66,503.86 282.82,503.67 282.99,503.47 283.15,503.27 283.32,503.07 283.48,502.87 283.65,502.67 283.81,502.47 283.97,502.27 284.13,502.07 284.29,501.87 284.45,501.67 284.61,501.47 284.77,501.27 284.93,501.06 285.09,500.86 285.25,500.66 285.4,500.45 285.56,500.25 285.72,500.04 285.87,499.84 286.03,499.63 286.18,499.42 286.34,499.22 286.49,499.01 286.64,498.8 286.79,498.6 286.95,498.39 287.1,498.18 287.25,497.97 287.4,497.76 287.55,497.55 287.7,497.34 287.84,497.13 287.99,496.92 288.14,496.71 288.29,496.5 288.43,496.28 288.58,496.07 288.72,495.86 288.87,495.65 289.01,495.43 289.15,495.22 289.3,495 289.44,494.79 289.58,494.57 289.72,494.36 289.86,494.14 290,493.93 290.14,493.71 290.28,493.49 290.42,493.28 290.56,493.06 290.69,492.84 290.83,492.62 290.97,492.4 291.1,492.18 291.24,491.96 291.37,491.74 291.51,491.52 291.64,491.3 291.77,491.08 291.9,490.86 292.03,490.64 292.16,490.42 292.29,490.2 292.42,489.97 292.55,489.75 292.68,489.53 292.81,489.3 292.94,489.08 293.06,488.85 293.19,488.63 293.31,488.4 293.44,488.18 293.56,487.95 293.69,487.73 293.81,487.5 293.93,487.27 294.05,487.05 294.18,486.82 294.3,486.59 294.42,486.36 294.54,486.14 294.65,485.91 294.77,485.68 294.89,485.45 295.01,485.22 295.12,484.99 295.24,484.76 295.35,484.53 295.47,484.3 295.58,484.07 295.7,483.84 295.81,483.61 295.92,483.37 296.03,483.14 296.14,482.91 296.25,482.68 296.36,482.44 296.47,482.21 296.58,481.98 296.69,481.74 296.8,481.51 296.9,481.27 297.01,481.04 297.11,480.8 297.22,480.57 297.32,480.33 297.43,480.1 297.53,479.86 297.63,479.62 297.73,479.39 297.83,479.15 297.94,478.91 298.03,478.68 298.13,478.44 298.23,478.2 298.33,477.96 298.43,477.72 298.52,477.48 298.62,477.25" fill="#5f9a3d" stroke="#5f9a3d" stroke-width="0.15"/>
<polygon points="289.12,510.04 288.69,510.04 288.36,510.12 288.05,510.22 287.76,510.33 287.48,510.46 287.22,510.6 287.03,510.8 287.17,511.29 287.51,511.97 288.03,512.81 288.71,513.81 289.57,514.97 289.69,515.47 289.39,515.59 289.11,515.72 288.84,515.86 288.52,515.96 288.17,516.03 287.83,516.11 287.51,516.2 287.21,516.3 286.71,516.23 286.19,516.12 285.73,516.07 285.42,516.17 285.34,516.48 285.25,516.79 285.15,517.09 285.08,517.42 285.01,517.76 284.94,518.09 284.85,518.4 284.76,518.71 284.65,519.01 284.58,519.35 284.51,519.69 284.42,520.02 284.33,520.34 284.19,520.61 284.05,520.88 283.91,521.16 283.77,521.43 283.63,521.7 283.23,521.7 282.78,521.64 282.35,521.6 281.95,521.58 281.57,521.59 281.22,521.63 280.89,521.69 280.6,521.8 280.49,522.1 280.41,522.44 280.36,522.82 280.3,523.18 280.27,523.58 280.25,523.99 280.25,524.43 280.27,524.9 280.14,525.19 279.85,525.3 279.56,525.41 279.49,525.78 279.5,526.24 279.49,526.68 279.72,527.42 279.98,528.2 280.27,529.02 280.57,529.85 280.24,529.93 279.9,529.99 279.56,530.04 279.49,530.43 279.5,530.93 279.52,531.44 278.43,530.54 276.54,528.61 275,527.1 273.82,526.05 273.05,525.51 272.74,525.57 272.5,525.71 272.28,525.88 272.08,526.08 271.92,526.33 271.63,526.41 271.26,526.38 270.91,526.37 270.59,526.4 270.32,526.51 270.08,526.65 269.85,526.81 269.64,526.99 269.44,527.19 269.32,527.49 269.28,527.91 269.28,528.41 269.33,528.96 269.41,529.58 269.37,530.02 269.17,530.23 268.99,530.46 268.8,530.7 268.63,530.94 269.08,532.13 270.19,534.31 271.52,536.85 270.29,535.53 269.23,534.46 268.35,533.64 267.64,533.09 267.31,533.1 267.47,533.89 267.74,534.85 268.11,535.97 268.56,537.24 269.09,538.65 268.5,538.27 266.67,535.88 265.48,534.5 265.02,534.3 264.78,534.47 264.56,534.64 264.33,534.83 264.12,535.03 263.97,535.34 263.86,535.72 263.78,536.16 263.73,536.64 263.71,537.18 263.56,537.51 263.39,537.81 263.23,538.11 263.06,538.41 262.9,538.72 262.86,539.25 262.84,539.83 262.84,540.43 262.85,541.07 262.86,541.73 262.46,541.6 261.92,541.25 261.41,540.91 260.91,540.6 260.35,540.18 259.59,539.36 258.94,538.74 258.4,538.33 258.44,539.05 259.12,541.01 260.17,543.72 259.13,542.33 258.2,541.14 257.39,540.16 257.25,540.53 257.16,541.03 257.1,541.55 257.04,542.12 257.01,542.73 256.99,543.38 256.99,544.06 256.84,544.45 255.9,543.16 255.06,542.04 254.31,541.12 253.79,540.68 253.77,541.33 253.79,542.06 253.84,542.89 253.93,543.81 253.66,543.94 253.07,543.32 252.51,542.77 251.98,542.28 251.48,541.86 251.02,541.51 250.97,542.12 251.08,543.14 251.27,544.34 251.53,545.72 251.85,547.28 251.91,548.22 250.89,546.52 249.98,545.06 249.18,543.85 248.48,542.89 247.91,542.21 247.56,542.11 247.62,543.06 247.85,544.44 248.22,546.21 247.93,546.3 247.15,545.06 246.47,544.06 245.88,543.3 245.4,542.83 245.06,542.74 245.02,543.44 245.14,544.64 245.42,546.27 245.46,547.26 245.02,546.9 244.58,546.54 244.15,546.19 243.73,545.85 243.3,545.5 242.88,545.14 242.46,544.8 242.05,544.49 241.67,544.22 241.29,543.97 241.13,544.41 241.15,545.41 241.24,546.64 241.38,548.08 240.93,547.61 240.32,546.61 239.74,545.71 239.21,544.94 238.75,544.4 238.41,544.22 238.07,544.07 237.74,543.96 237.52,544.2 237.29,544.44 237.07,544.69 236.85,544.94 236.68,545.4 236.71,546.58 236.78,547.96 236.81,549.19 236.63,549.64 236.44,550.11 236.26,550.59 236.08,551.07 235.56,550.24 235.01,549.24 234.48,548.32 233.98,547.48 233.6,547.12 233.3,547.12 233,547.11 232.71,547.11 232.52,547.56 232.39,548.29 232.28,549.08 232.17,549.93 232.06,550.82 231.97,551.77 231.36,550.35 230.77,548.99 230.23,547.81 229.74,546.81 229.37,546.44 229.39,547.96 229.46,549.82 229.14,549.69 228.62,548.51 228.14,547.53 227.71,546.76 227.31,546.12 226.96,545.76 226.7,545.93 226.65,547.26 226.75,549.47 226.96,552.47 226.85,553.59 226.46,553.04 226.07,552.51 225.69,552.01 225.32,551.53 224.92,550.85 224.5,550.07 224.11,549.38 223.73,548.79 223.37,548.3 223.15,548.71 222.97,549.53 222.81,550.49 222.54,550.64 222.24,550.58 221.93,550.49 221.63,550.35 221.32,550.2 221.01,550.05 220.69,549.84 220.25,548.48 219.86,547.53 219.53,547.1 219.24,547.05 218.96,547.01 218.67,546.97 218.39,546.96 218.12,547 217.84,547.06 217.57,547.15 217.3,547.26 217.05,547.59 216.81,548.2 216.59,548.95 216.37,549.82 215.49,538.31 215.74,538.29 216,538.27 216.25,538.25 216.51,538.23 216.76,538.21 217.02,538.18 217.27,538.16 217.53,538.13 217.78,538.11 218.04,538.08 218.29,538.06 218.54,538.03 218.8,538 219.05,537.97 219.31,537.94 219.56,537.91 219.81,537.88 220.07,537.85 220.32,537.82 220.58,537.79 220.83,537.75 221.08,537.72 221.34,537.68 221.59,537.65 221.84,537.61 222.1,537.58 222.35,537.54 222.6,537.5 222.86,537.46 223.11,537.42 223.36,537.38 223.61,537.34 223.87,537.3 224.12,537.26 224.37,537.22 224.62,537.17 224.87,537.13 225.13,537.09 225.38,537.04 225.63,536.99 225.88,536.95 226.13,536.9 226.38,536.85 226.64,536.8 226.89,536.76 227.14,536.71 227.39,536.65 227.64,536.6 227.89,536.55 228.14,536.5 228.39,536.45 228.64,536.39 228.89,536.34 229.14,536.28 229.39,536.23 229.64,536.17 229.89,536.11 230.14,536.06 230.39,536 230.64,535.94 230.88,535.88 231.13,535.82 231.38,535.76 231.63,535.7 231.88,535.63 232.13,535.57 232.37,535.51 232.62,535.44 232.87,535.38 233.12,535.31 233.36,535.25 233.61,535.18 233.86,535.11 234.1,535.04 234.35,534.98 234.6,534.91 234.84,534.84 235.09,534.77 235.33,534.69 235.58,534.62 235.82,534.55 236.07,534.48 236.31,534.4 236.56,534.33 236.8,534.25 237.05,534.18 237.29,534.1 237.54,534.02 237.78,533.95 238.02,533.87 238.27,533.79 238.51,533.71 238.75,533.63 238.99,533.55 239.24,533.47 239.48,533.38 239.72,533.3 239.96,533.22 240.2,533.13 240.45,533.05 240.69,532.96 240.93,532.88 241.17,532.79 241.41,532.7 241.65,532.62 241.89,532.53 242.13,532.44 242.37,532.35 242.61,532.26 242.85,532.17 243.09,532.08 243.32,531.98 243.56,531.89 243.8,531.8 244.04,531.7 244.28,531.61 244.51,531.51 244.75,531.42 244.99,531.32 245.22,531.22 245.46,531.12 245.7,531.03 245.93,530.93 246.17,530.83 246.4,530.73 246.64,530.63 246.87,530.52 247.11,530.42 247.34,530.32 247.58,530.22 247.81,530.11 248.04,530.01 248.28,529.9 248.51,529.8 248.74,529.69 248.97,529.58 249.21,529.48 249.44,529.37 249.67,529.26 249.9,529.15 250.13,529.04 250.36,528.93 250.59,528.82 250.82,528.7 251.05,528.59 251.28,528.48 251.51,528.37 251.74,528.25 251.97,528.14 252.2,528.02 252.42,527.9 252.65,527.79 252.88,527.67 253.11,527.55 253.33,527.43 253.56,527.31 253.78,527.19 254.01,527.07 254.24,526.95 254.46,526.83 254.69,526.71 254.91,526.59 255.13,526.46 255.36,526.34 255.58,526.22 255.8,526.09 256.03,525.97 256.25,525.84 256.47,525.71 256.69,525.59 256.92,525.46 257.14,525.33 257.36,525.2 257.58,525.07 257.8,524.94 258.02,524.81 258.24,524.68 258.46,524.55 258.68,524.41 258.89,524.28 259.11,524.15 259.33,524.01 259.55,523.88 259.76,523.74 259.98,523.61 260.2,523.47 260.41,523.33 260.63,523.19 260.84,523.06 261.06,522.92 261.27,522.78 261.49,522.64 261.7,522.5 261.91,522.36 262.13,522.22 262.34,522.07 262.55,521.93 262.76,521.79 262.98,521.64 263.19,521.5 263.4,521.35 263.61,521.21 263.82,521.06 264.03,520.92 264.24,520.77 264.45,520.62 264.65,520.47 264.86,520.32 265.07,520.18 265.28,520.03 265.48,519.87 265.69,519.72 265.9,519.57 266.1,519.42 266.31,519.27 266.51,519.11 266.72,518.96 266.92,518.81 267.13,518.65 267.33,518.5 267.53,518.34 267.73,518.18 267.94,518.03 268.14,517.87 268.34,517.71 268.54,517.55 268.74,517.4 268.94,517.24 269.14,517.08 269.34,516.92 269.54,516.75 269.74,516.59 269.93,516.43 270.13,516.27 270.33,516.11 270.53,515.94 270.72,515.78 270.92,515.61 271.11,515.45 271.31,515.28 271.5,515.12 271.7,514.95 271.89,514.78 272.08,514.61 272.28,514.45 272.47,514.28 272.66,514.11 272.85,513.94 273.04,513.77 273.23,513.6 273.42,513.43 273.61,513.25 273.8,513.08 273.99,512.91 274.18,512.74 274.37,512.56 274.55,512.39 274.74,512.21 274.93,512.04 275.11,511.86 275.3,511.69 275.48,511.51 275.67,511.33 275.85,511.16 276.04,510.98 276.22,510.8 276.4,510.62 276.58,510.44 276.77,510.26 276.95,510.08 277.13,509.9 277.31,509.72 277.49,509.54 277.67,509.35 277.85,509.17 278.02,508.99 278.2,508.8 278.38,508.62 278.56,508.43 278.73,508.25 278.91,508.06 279.09,507.88 279.26,507.69 279.43,507.5 279.61,507.32 279.78,507.13 279.96,506.94 280.13,506.75 280.3,506.56 280.47,506.37 280.64,506.18 280.81,505.99 280.98,505.8 281.15,505.61 281.32,505.42 281.49,505.23 281.66,505.03 281.83,504.84 281.99,504.65 282.16,504.45 282.33,504.26" fill="#9b9933" stroke="#9b9933" stroke-width="0.15"/>
<polygon points="216.37,549.82 216.16,550.79 215.84,550.4 215.52,549.9 215.2,549.44 214.89,549.02 214.58,548.59 214.27,548.14 213.97,547.75 213.67,547.48 213.39,547.43 213.11,547.39 212.83,547.34 212.55,547.31 212.27,547.27 211.99,547.38 211.73,547.78 211.46,548.23 211.2,548.73 210.93,549.3 210.66,549.92 210.39,550.59 210.12,551.31 209.84,551.93 209.56,552.51 209.27,553.11 208.98,553.34 208.68,552.46 208.39,551.64 208.1,551.72 207.81,551.97 207.51,552.23 207.22,552.49 206.93,552.29 206.65,551.46 206.37,550.69 206.09,550.32 205.81,550.26 205.52,550.21 205.24,550.16 204.95,550.1 204.67,550.05 204.36,550.64 204.04,551.55 203.71,552.55 203.48,551.11 203.25,549.79 203.02,548.69 202.78,547.79 202.53,547.13 202.27,546.73 202,546.7 201.72,546.67 201.45,546.64 201.17,546.6 200.9,546.57 200.58,547.1 200.19,548.63 199.75,550.73 199.44,551 199.13,551.26 198.82,551.53 198.5,551.8 198.2,551.94 198,550.89 197.8,549.91 197.6,549.02 197.39,548.22 197.15,547.85 196.86,547.92 196.57,547.99 196.28,548.06 195.99,548.09 195.7,548.12 195.41,548.16 195.12,548.2 194.83,548.25 194.56,548.18 194.36,547.5 194.15,546.89 193.94,546.35 193.72,545.89 193.5,545.52 193.2,545.61 192.86,546.09 192.48,546.72 192.09,547.48 191.67,548.37 191.28,548.99 190.94,549.34 190.59,549.72 190.59,547.9 190.54,546.49 190.41,545.57 189.98,546.44 189.48,547.67 188.96,548.96 188.47,550.09 187.94,551.36 187.63,551.43 187.48,550.67 187.3,550.02 187.09,549.59 186.88,549.16 186.66,548.75 186.45,548.36 186.21,548.09 185.84,548.5 185.45,548.93 185.06,549.38 184.66,549.85 184.56,548.96 184.54,547.7 184.48,546.65 184.37,545.84 184.2,545.32 183.9,545.38 183.59,545.46 183.28,545.57 182.96,545.7 182.64,545.85 182.31,545.99 181.98,546.14 181.65,546.31 181.31,546.49 180.99,546.56 180.75,546.37 180.5,546.18 180.26,546 180.01,545.82 179.77,545.64 179.57,545.28 179.39,544.88 179.19,544.53 178.98,544.23 178.76,543.98 178.5,543.87 178.06,544.4 177.5,545.31 176.83,546.58 176.32,547.26 175.92,547.58 175.51,547.93 175.09,548.3 174.68,548.64 174.4,548.54 174.12,548.45 173.84,548.35 173.94,547.07 173.99,545.97 173.99,545.05 173.93,544.33 173.8,543.81 173.39,544.15 172.8,545 172.1,546.15 171.74,546.29 171.43,546.32 171.11,546.33 170.8,546.34 170.49,546.33 170.19,546.32 169.99,546.01 169.79,545.69 169.6,545.36 169.4,545.06 169.13,544.97 168.86,544.86 168.59,544.75 168.32,544.63 168.06,544.5 167.77,544.46 167.47,544.43 167.16,544.4 166.86,544.37 166.53,544.43 166.15,544.59 165.76,544.75 165.37,544.94 164.97,545.14 164.56,545.36 164.6,544.51 164.75,543.39 164.86,542.38 164.92,541.5 164.94,540.75 164.74,540.48 164.17,541.08 163.51,541.87 162.76,542.85 161.92,544.01 161.42,544.41 161,544.61 160.58,544.81 160.15,545.03 159.72,545.25 160.08,543.75 160.52,542.13 160.85,540.74 161.07,539.61 161.17,538.74 161.1,538.24 160.75,538.31 160.37,538.43 159.98,538.59 159.56,538.79 159.15,538.98 158.72,539.19 158.29,539.42 157.84,539.66 157.38,539.93 156.9,540.21 156.41,540.52 155.91,540.84 155.4,541.19 156.01,539.39 156.52,537.83 156.59,537.09 155.79,537.97 154.78,539.22 153.58,540.81 153.43,540.47 154.15,538.55 154.67,537.01 154.98,535.87 154.9,535.43 154.63,535.33 154.36,535.24 154.08,535.15 153.75,535.15 153.08,535.75 152.26,536.58 151.71,536.95 151.31,537.05 150.9,537.17 150.48,537.3 150.06,537.43 149.62,537.58 149.87,536.61 150.29,535.35 150.61,534.28 150.82,533.4 150.91,532.72 150.58,532.72 150.01,533.09 149.34,533.62 148.56,534.3 147.95,534.72 147.89,534.27 147.83,533.83 147.75,533.42 147.67,533.02 147.38,532.94 146.08,534.37 144.51,536.21 144.01,536.4 144.17,535.63 144.31,534.9 144.27,534.43 143.93,534.4 143.59,534.37 143.24,534.35 143.35,533.68 144.25,531.87 144.89,530.47 145.19,529.54 144.92,529.44 144.44,529.62 143.87,529.92 143.22,530.32 142.99,530.15 142.85,529.85 142.71,529.55 142.58,529.25 142.44,528.95 142.29,528.68 142.12,528.42 141.96,528.16 141.8,527.9 141.64,527.64 141.59,527.24 141.55,526.82 141.5,526.42 141.43,526.05 141.35,525.69 140.9,525.81 140.2,526.23 139.35,526.84 138.36,527.62 137.22,528.56 136.3,529.23 136.4,528.63 136.5,528.05 136.55,527.52 136.59,527.01 136.63,526.51 136.65,526.04 136.66,525.57 136.48,525.33 136.2,525.21 135.93,525.09 135.86,524.72 135.81,524.34 135.76,523.95 135.71,523.57 135.66,523.2 135.29,523.19 134.79,523.32 134.27,523.47 133.73,523.63 133.18,523.8 132.61,524 132.44,523.75 132.31,523.45 132.19,523.15 132.07,522.86 132.3,522.18 133.54,520.43 134.44,519.06 134.69,518.39 134.34,518.35 133.96,518.34 133.56,518.35 133.16,518.36 132.88,518.25 132.58,518.15 132.28,518.06 131.96,517.97 131.63,517.9 131.33,517.81 131.1,517.63 130.87,517.46 130.63,517.29 130.4,517.13 130.27,516.86 130.19,516.54 130.1,516.23 137.79,508.8 137.97,508.98 138.15,509.17 138.33,509.35 138.51,509.53 138.69,509.71 138.87,509.89 139.05,510.07 139.23,510.25 139.41,510.43 139.59,510.61 139.77,510.79 139.96,510.97 140.14,511.15 140.32,511.33 140.51,511.5 140.69,511.68 140.88,511.86 141.06,512.03 141.25,512.21 141.44,512.38 141.62,512.55 141.81,512.73 142,512.9 142.19,513.07 142.38,513.25 142.57,513.42 142.76,513.59 142.95,513.76 143.14,513.93 143.33,514.1 143.52,514.27 143.71,514.44 143.9,514.6 144.1,514.77 144.29,514.94 144.48,515.1 144.68,515.27 144.87,515.44 145.07,515.6 145.26,515.77 145.46,515.93 145.66,516.09 145.85,516.26 146.05,516.42 146.25,516.58 146.45,516.74 146.64,516.9 146.84,517.06 147.04,517.22 147.24,517.38 147.44,517.54 147.64,517.7 147.84,517.86 148.05,518.01 148.25,518.17 148.45,518.33 148.65,518.48 148.86,518.64 149.06,518.79 149.26,518.95 149.47,519.1 149.67,519.25 149.88,519.41 150.08,519.56 150.29,519.71 150.49,519.86 150.7,520.01 150.91,520.16 151.12,520.31 151.32,520.46 151.53,520.61 151.74,520.75 151.95,520.9 152.16,521.05 152.37,521.19 152.58,521.34 152.79,521.48 153,521.63 153.21,521.77 153.42,521.91 153.63,522.06 153.85,522.2 154.06,522.34 154.27,522.48 154.49,522.62 154.7,522.76 154.91,522.9 155.13,523.04 155.34,523.18 155.56,523.32 155.78,523.45 155.99,523.59 156.21,523.72 156.42,523.86 156.64,523.99 156.86,524.13 157.08,524.26 157.29,524.4 157.51,524.53 157.73,524.66 157.95,524.79 158.17,524.92 158.39,525.05 158.61,525.18 158.83,525.31 159.05,525.44 159.27,525.57 159.5,525.69 159.72,525.82 159.94,525.95 160.16,526.07 160.38,526.2 160.61,526.32 160.83,526.45 161.06,526.57 161.28,526.69 161.5,526.81 161.73,526.93 161.95,527.06 162.18,527.18 162.41,527.3 162.63,527.41 162.86,527.53 163.08,527.65 163.31,527.77 163.54,527.88 163.77,528 163.99,528.12 164.22,528.23 164.45,528.35 164.68,528.46 164.91,528.57 165.14,528.68 165.37,528.8 165.6,528.91 165.83,529.02 166.06,529.13 166.29,529.24 166.52,529.35 166.75,529.46 166.98,529.56 167.22,529.67 167.45,529.78 167.68,529.88 167.91,529.99 168.15,530.09 168.38,530.2 168.61,530.3 168.85,530.4 169.08,530.51 169.32,530.61 169.55,530.71 169.79,530.81 170.02,530.91 170.26,531.01 170.49,531.11 170.73,531.2 170.97,531.3 171.2,531.4 171.44,531.49 171.68,531.59 171.91,531.68 172.15,531.78 172.39,531.87 172.63,531.96 172.86,532.06 173.1,532.15 173.34,532.24 173.58,532.33 173.82,532.42 174.06,532.51 174.3,532.6 174.54,532.68 174.78,532.77 175.02,532.86 175.26,532.94 175.5,533.03 175.74,533.11 175.98,533.2 176.22,533.28 176.47,533.37 176.71,533.45 176.95,533.53 177.19,533.61 177.44,533.69 177.68,533.77 177.92,533.85 178.16,533.93 178.41,534.01 178.65,534.08 178.89,534.16 179.14,534.24 179.38,534.31 179.63,534.39 179.87,534.46 180.12,534.53 180.36,534.6 180.61,534.68 180.85,534.75 181.1,534.82 181.34,534.89 181.59,534.96 181.84,535.03 182.08,535.1 182.33,535.16 182.57,535.23 182.82,535.3 183.07,535.36 183.32,535.43 183.56,535.49 183.81,535.55 184.06,535.62 184.31,535.68 184.55,535.74 184.8,535.8 185.05,535.86 185.3,535.92 185.55,535.98 185.8,536.04 186.04,536.1 186.29,536.16 186.54,536.21 186.79,536.27 187.04,536.32 187.29,536.38 187.54,536.43 187.79,536.48 188.04,536.54 188.29,536.59 188.54,536.64 188.79,536.69 189.04,536.74 189.29,536.79 189.54,536.84 189.8,536.89 190.05,536.93 190.3,536.98 190.55,537.03 190.8,537.07 191.05,537.12 191.3,537.16 191.56,537.2 191.81,537.25 192.06,537.29 192.31,537.33 192.56,537.37 192.82,537.41 193.07,537.45 193.32,537.49 193.57,537.53 193.83,537.57 194.08,537.6 194.33,537.64 194.59,537.67 194.84,537.71 195.09,537.74 195.35,537.78 195.6,537.81 195.85,537.84 196.11,537.87 196.36,537.9 196.61,537.93 196.87,537.96 197.12,537.99 197.37,538.02 197.63,538.05 197.88,538.07 198.14,538.1 198.39,538.13 198.65,538.15 198.9,538.17 199.15,538.2 199.41,538.22 199.66,538.24 199.92,538.26 200.17,538.29 200.43,538.31 200.68,538.33 200.94,538.34 201.19,538.36 201.45,538.38 201.7,538.4 201.96,538.41 202.21,538.43 202.47,538.44 202.72,538.46 202.98,538.47 203.23,538.48 203.49,538.5 203.74,538.51 204,538.52 204.25,538.53 204.51,538.54 204.76,538.55 205.02,538.55 205.27,538.56 205.53,538.57 205.79,538.57 206.04,538.58 206.3,538.59 206.55,538.59 206.81,538.59 207.06,538.6 207.32,538.6 207.57,538.6 207.83,538.6 208.09,538.6 208.34,538.6 208.6,538.6 208.85,538.6 209.11,538.59 209.36,538.59 209.62,538.59 209.87,538.58 210.13,538.58 210.38,538.57 210.64,538.56 210.9,538.56 211.15,538.55 211.41,538.54 211.66,538.53 211.92,538.52 212.17,538.51 212.43,538.5 212.68,538.49 212.94,538.48 213.19,538.46 213.45,538.45 213.7,538.43 213.96,538.42 214.21,538.4 214.47,538.39 214.72,538.37 214.98,538.35 215.23,538.33 215.49,538.31" fill="#9a6a2b" stroke="#9a6a2b" stroke-width="0.15"/>
<polygon points="130.1,516.23 129.92,516 129.73,515.79 129.54,515.57 129.09,515.61 128.58,515.7 128.06,515.79 127.52,515.89 126.98,516 126.95,515.63 126.99,515.2 127.01,514.79 127.02,514.39 127.13,513.91 127.12,513.53 126.95,513.29 126.62,513.2 126.21,513.19 125.71,513.24 125.18,513.32 124.6,513.44 123.94,513.62 122.9,514.14 121.69,514.78 120.33,515.54 119.64,515.72 119.84,515.16 120.02,514.61 120.19,514.08 120.35,513.55 120.55,513 120.84,512.38 121.08,511.79 121.29,511.25 121.44,510.74 121.55,510.29 120.76,510.54 119.71,510.99 118.48,511.58 117.09,512.29 115.52,513.13 113.85,514.04 113.88,513.62 113.91,513.2 130.57,500.42 130.73,500.62 130.88,500.82 131.04,501.03 131.2,501.23 131.36,501.43 131.52,501.63 131.68,501.83 131.84,502.04 132,502.24 132.16,502.44 132.33,502.64 132.49,502.84 132.65,503.04 132.82,503.23 132.98,503.43 133.15,503.63 133.31,503.83 133.48,504.02 133.64,504.22 133.81,504.42 133.98,504.61 134.15,504.81 134.31,505 134.48,505.2 134.65,505.39 134.82,505.58 134.99,505.78 135.17,505.97 135.34,506.16 135.51,506.35 135.68,506.54 135.85,506.73 136.03,506.92 136.2,507.11 136.38,507.3 136.55,507.49 136.73,507.68 136.9,507.87 137.08,508.05 137.26,508.24 137.44,508.43 137.61,508.61 137.79,508.8" fill="#9a3322" stroke="#9a3322" stroke-width="0.15"/>
<polygon points="113.91,513.2 114.05,512.7 114.63,511.87 116.98,509.71 118.63,508.1 119.49,507.09 119.02,507.08 118.25,507.29 117.26,507.65 116.06,508.16 114.84,508.68 113.93,508.97 112.96,509.29 111.98,509.61 112.35,508.97 112.69,508.35 113.02,507.75 113.33,507.16 113.62,506.59 113.75,506.13 113.07,506.24 112.35,506.36 111.6,506.51 110.81,506.67 110,506.85 109.57,506.76 110.55,505.74 111.45,504.78 111.94,504.09 111.79,503.83 111.64,503.57 111.5,503.3 111.36,503.03 111.38,502.66 111.8,502.04 112.19,501.44 112.55,500.86 112.13,500.78 111.33,500.92 110.48,501.1 109.57,501.3 109.31,501.11 111.23,499.59 112.71,498.35 112.37,498.22 111.23,498.56 109.9,499 109.37,498.97 111.76,497.22 113.21,496.04 113.46,495.57 113.29,495.34 113.12,495.1 112.49,495.13 111.2,495.53 109.41,496.19 107.17,497.1 108.53,496 110.5,494.58 111.87,493.5 112.5,492.83 112.31,492.61 112.09,492.4 111.84,492.22 111.55,492.05 111.11,491.96 110.39,492.01 109.54,492.13 108.56,492.3 107.47,492.53 107.38,492.24 107.36,491.93 107.32,491.61 107.28,491.31 106.9,491.16 106.48,491.04 106.04,490.93 105.58,490.82 105.18,490.68 104.93,490.47 104.68,490.26 104.43,490.04 104.18,489.83 104.32,489.43 105.78,488.42 107.05,487.51 108.13,486.7 109.01,485.98 109.47,485.46 108.59,485.55 107.5,485.71 106.23,485.96 104.77,486.28 104.73,485.98 104.74,485.66 104.74,485.34 104.74,485.02 104.73,484.7 104.49,484.48 104.18,484.29 103.86,484.1 103.53,483.92 103.2,483.74 103.13,483.44 103.57,482.95 103.98,482.47 104.37,482 104.74,481.54 105.31,481.01 105.81,480.5 105.54,480.3 104.56,480.36 103.47,480.46 102.28,480.6 100.98,480.76 100.98,480.44 102.03,479.74 102.99,479.08 103.84,478.46 104.59,477.89 105.02,477.43 103.59,477.63 101.88,477.92 99.9,478.29 101.52,477.42 103.1,476.57 104.39,475.83 105.37,475.2 105.62,474.82 103.48,475.23 100.21,475.98 100.8,475.48 102.7,474.56 104.19,473.79 105.23,473.17 105.59,472.76 105.23,472.58 104.76,472.42 104.19,472.3 103.53,472.2 102.77,472.13 102.06,472.04 101.56,471.88 101.05,471.73 100.5,471.58 99.93,471.43 99.72,471.19 100.8,470.58 101.78,470.01 102.64,469.48 102.37,469.26 102.02,469.06 101.66,468.85 101.1,468.7 100.52,468.55 99.89,468.41 99.47,468.21 101.89,467.31 103.63,466.59 104.44,466.1 104.51,465.8 104.51,465.51 104.42,465.25 103.97,465.07 102.35,465.15 99.7,465.46 96.14,465.95 96.51,465.56 98.17,464.9 99.55,464.3 100.63,463.77 101.41,463.32 101.7,462.96 101.42,462.73 101.16,462.49 100.9,462.25 100.65,462.01 100.42,461.76 99.58,461.63 98.42,461.55 97.01,461.52 97.32,461.16 98.42,460.66 99.28,460.21 99.77,459.84 99.78,459.54 99.79,459.25 99.01,459.09 96.94,459.13 94,459.3 93.74,459.04 95.74,458.42 97.25,457.89 96.68,457.68 96.07,457.47 95.42,457.26 97.15,456.72 98.63,456.22 99.44,455.81 99.92,455.46 100.32,455.12 100.64,454.79 100.85,454.48 100.85,454.19 100.67,453.93 100.35,453.68 99.91,453.45 99.39,453.22 98.78,453 98.07,452.78 97.26,452.58 96.23,452.39 95.01,452.21 93.71,452.04 94.04,451.71 94.35,451.38 94.64,451.05 96.75,450.57 98.85,450.1 99.99,449.72 99.94,449.44 99.81,449.17 99.69,448.89 99.51,448.62 99.33,448.34 99.14,448.07 98.18,447.84 95.77,447.7 92.31,447.6 93.21,447.25 94.18,446.9 95.06,446.55 95.85,446.22 95.52,445.94 94.68,445.68 93.78,445.42 92.82,445.15 94.3,444.8 97.17,444.41 98.52,444.09 98.57,443.8 98.64,443.51 98.72,443.22 98.81,442.93 98.88,442.64 98.57,442.36 97.87,442.08 96.83,441.8 95.64,441.52 96.93,441.22 98.02,440.93 98.91,440.64 99.58,440.36 99.99,440.08 100.11,439.8 100.03,439.51 99.82,439.23 99.48,438.94 99.77,438.66 100.15,438.39 100.45,438.11 100.66,437.83 100.65,437.55 99.93,437.25 98.67,436.92 96.91,436.56 94.69,436.17 93.01,435.8 93.93,435.54 94.77,435.28 95.54,435.03 96.24,434.77 95.86,434.45 95.37,434.13 94.87,433.8 94.34,433.47 93.8,433.13 93.95,432.84 94.68,432.59 95.34,432.35 95.96,432.1 96.52,431.85 96.72,431.57 95.53,431.17 94.18,430.76 93.61,430.4 93.8,430.12 94,429.84 94.21,429.56 94.44,429.28 94.54,428.99 93.66,428.59 92.7,428.18 91.68,427.76 92.63,427.56 94.5,427.48 96.11,427.37 97.45,427.24 98.48,427.08 98.65,426.81 98.81,426.54 98.97,426.27 99.13,426 99.29,425.73 98.39,425.31 96.69,424.77 94.41,424.13 93.53,423.7 93.8,423.43 94.13,423.18 95.19,423.04 96.16,422.89 97.06,422.74 97.49,422.51 96.89,422.11 96.24,421.7 95.53,421.27 94.77,420.83 95.72,420.7 98.48,420.9 100.39,420.96 101.2,420.82 101.3,420.55 101.4,420.28 101.5,420.01 101.62,419.75 101.98,419.53 102.33,419.31 102.68,419.09 102.91,418.86 102.44,418.47 101.56,417.99 101.7,417.73 102.81,417.68 112.71,419.88 112.66,420.13 112.6,420.38 112.55,420.63 112.5,420.88 112.44,421.13 112.39,421.38 112.34,421.63 112.29,421.88 112.24,422.13 112.19,422.38 112.14,422.63 112.1,422.88 112.05,423.13 112,423.38 111.96,423.64 111.91,423.89 111.87,424.14 111.82,424.39 111.78,424.64 111.74,424.9 111.7,425.15 111.65,425.4 111.61,425.65 111.57,425.91 111.53,426.16 111.5,426.41 111.46,426.66 111.42,426.92 111.38,427.17 111.35,427.42 111.31,427.68 111.28,427.93 111.25,428.18 111.21,428.44 111.18,428.69 111.15,428.95 111.12,429.2 111.09,429.45 111.06,429.71 111.03,429.96 111,430.22 110.97,430.47 110.94,430.72 110.92,430.98 110.89,431.23 110.86,431.49 110.84,431.74 110.82,432 110.79,432.25 110.77,432.51 110.75,432.76 110.73,433.02 110.71,433.27 110.69,433.53 110.67,433.78 110.65,434.04 110.63,434.29 110.61,434.55 110.6,434.8 110.58,435.06 110.57,435.31 110.55,435.57 110.54,435.82 110.52,436.08 110.51,436.33 110.5,436.59 110.49,436.84 110.48,437.1 110.47,437.36 110.46,437.61 110.45,437.87 110.44,438.12 110.44,438.38 110.43,438.63 110.42,438.89 110.42,439.15 110.41,439.4 110.41,439.66 110.41,439.91 110.4,440.17 110.4,440.42 110.4,440.68 110.4,440.94 110.4,441.19 110.4,441.45 110.4,441.7 110.4,441.96 110.41,442.21 110.41,442.47 110.42,442.73 110.42,442.98 110.43,443.24 110.43,443.49 110.44,443.75 110.45,444 110.45,444.26 110.46,444.52 110.47,444.77 110.48,445.03 110.49,445.28 110.51,445.54 110.52,445.79 110.53,446.05 110.54,446.3 110.56,446.56 110.57,446.82 110.59,447.07 110.61,447.33 110.62,447.58 110.64,447.84 110.66,448.09 110.68,448.35 110.7,448.6 110.72,448.86 110.74,449.11 110.76,449.37 110.78,449.62 110.8,449.88 110.83,450.13 110.85,450.39 110.88,450.64 110.9,450.89 110.93,451.15 110.96,451.4 110.98,451.66 111.01,451.91 111.04,452.17 111.07,452.42 111.1,452.67 111.13,452.93 111.16,453.18 111.2,453.43 111.23,453.69 111.26,453.94 111.3,454.2 111.33,454.45 111.37,454.7 111.4,454.96 111.44,455.21 111.48,455.46 111.52,455.71 111.55,455.97 111.59,456.22 111.63,456.47 111.68,456.73 111.72,456.98 111.76,457.23 111.8,457.48 111.85,457.73 111.89,457.99 111.93,458.24 111.98,458.49 112.03,458.74 112.07,458.99 112.12,459.24 112.17,459.49 112.22,459.75 112.27,460 112.32,460.25 112.37,460.5 112.42,460.75 112.47,461 112.52,461.25 112.58,461.5 112.63,461.75 112.69,462 112.74,462.25 112.8,462.5 112.85,462.75 112.91,463 112.97,463.25 113.03,463.5 113.09,463.74 113.15,463.99 113.21,464.24 113.27,464.49 113.33,464.74 113.39,464.99 113.46,465.23 113.52,465.48 113.58,465.73 113.65,465.98 113.72,466.22 113.78,466.47 113.85,466.72 113.92,466.96 113.99,467.21 114.05,467.46 114.12,467.7 114.19,467.95 114.27,468.19 114.34,468.44 114.41,468.69 114.48,468.93 114.56,469.18 114.63,469.42 114.7,469.67 114.78,469.91 114.86,470.15 114.93,470.4 115.01,470.64 115.09,470.89 115.17,471.13 115.25,471.37 115.33,471.61 115.41,471.86 115.49,472.1 115.57,472.34 115.65,472.58 115.73,472.83 115.82,473.07 115.9,473.31 115.99,473.55 116.07,473.79 116.16,474.03 116.25,474.27 116.33,474.51 116.42,474.75 116.51,474.99 116.6,475.23 116.69,475.47 116.78,475.71 116.87,475.95 116.96,476.19 117.06,476.43 117.15,476.67 117.24,476.9 117.34,477.14 117.43,477.38 117.53,477.62 117.63,477.85 117.72,478.09 117.82,478.33 117.92,478.56 118.02,478.8 118.12,479.03 118.22,479.27 118.32,479.5 118.42,479.74 118.52,479.97 118.62,480.21 118.72,480.44 118.83,480.68 118.93,480.91 119.04,481.14 119.14,481.38 119.25,481.61 119.36,481.84 119.46,482.07 119.57,482.31 119.68,482.54 119.79,482.77 119.9,483 120.01,483.23 120.12,483.46 120.23,483.69 120.34,483.92 120.46,484.15 120.57,484.38 120.68,484.61 120.8,484.84 120.91,485.07 121.03,485.29 121.15,485.52 121.26,485.75 121.38,485.98 121.5,486.2 121.62,486.43 121.74,486.66 121.86,486.88 121.98,487.11 122.1,487.33 122.22,487.56 122.34,487.78 122.47,488.01 122.59,488.23 122.71,488.45 122.84,488.68 122.96,488.9 123.09,489.12 123.21,489.35 123.34,489.57 123.47,489.79 123.6,490.01 123.73,490.23 123.86,490.45 123.99,490.67 124.12,490.89 124.25,491.11 124.38,491.33 124.51,491.55 124.64,491.77 124.78,491.99 124.91,492.21 125.05,492.42 125.18,492.64 125.32,492.86 125.45,493.07 125.59,493.29 125.73,493.51 125.86,493.72 126,493.94 126.14,494.15 126.28,494.36 126.42,494.58 126.56,494.79 126.7,495.01 126.85,495.22 126.99,495.43 127.13,495.64 127.27,495.85 127.42,496.07 127.56,496.28 127.71,496.49 127.85,496.7 128,496.91 128.15,497.12 128.29,497.33 128.44,497.53 128.59,497.74 128.74,497.95 128.89,498.16 129.04,498.37 129.19,498.57 129.34,498.78 129.49,498.98 129.64,499.19 129.8,499.4 129.95,499.6 130.1,499.8 130.26,500.01 130.41,500.21 130.57,500.42" fill="#a0183e" stroke="#a0183e" stroke-width="0.15"/>
<polygon points="102.81,417.68 103.72,417.6 104.16,417.41 104.55,417.21 104.89,417 105.06,416.76 104.63,416.37 103.85,415.89 102.76,415.34 101.37,414.7 99.7,413.99 100.24,413.82 100.77,413.66 101.2,413.47 101.55,413.26 101.89,413.05 102.02,412.79 102.01,412.49 102.03,412.19 102.92,412.14 103.71,412.06 104.42,411.97 105.04,411.85 105.57,411.71 105.86,411.5 105.77,411.18 105.67,410.86 105.45,410.51 105,410.08 104.47,409.62 103.87,409.14 103.21,408.64 102.49,408.11 102.08,407.68 101.71,407.26 101.33,406.83 101.3,406.51 101.28,406.19 101.24,405.87 101.19,405.54 101.12,405.2 102.63,405.4 104,405.56 105.16,405.66 106.09,405.68 106.8,405.62 107.23,405.48 107.27,405.19 107.29,404.9 107.3,404.61 107.3,404.31 107.27,404 106.87,403.55 106.09,402.96 105.12,402.29 105.78,402.23 106.33,402.13 106.78,402 106.63,401.63 106.37,401.23 106.09,400.81 105.84,400.4 105.8,400.07 105.78,399.75 105.77,399.44 105.77,399.12 105.77,398.81 105.74,398.48 105.67,398.14 105.61,397.79 105.54,397.45 105.49,397.11 105.45,396.78 105.42,396.44 105.43,396.13 105.64,395.9 105.84,395.67 106.05,395.44 106.26,395.21 106.5,395 107.32,395.05 108.08,395.08 108.79,395.09 109.43,395.07 109.82,394.94 110.19,394.8 110.15,394.47 109.64,393.9 109.02,393.29 108.31,392.62 107.5,391.91 108.29,391.97 109.35,392.17 110.29,392.31 111.11,392.4 111.81,392.44 112.2,392.32 111.79,391.79 111.29,391.21 110.7,390.59 110.03,389.91 109.41,389.26 109.74,389.1 110.06,388.94 110.37,388.78 110.68,388.61 110.98,388.45 111.11,388.19 110.81,387.7 110.5,387.19 110.18,386.68 110.93,386.76 111.95,387 112.42,386.93 112.06,386.4 111.68,385.84 111.26,385.27 111.64,385.15 113.09,385.66 114.32,386.04 115.32,386.3 116.11,386.44 116.61,386.42 117.04,386.34 117.43,386.26 119.32,387.08 124.6,390.29 124.47,390.51 124.34,390.73 124.21,390.95 124.08,391.17 123.95,391.39 123.82,391.61 123.69,391.84 123.56,392.06 123.43,392.28 123.3,392.5 123.18,392.72 123.05,392.95 122.92,393.17 122.8,393.39 122.67,393.62 122.55,393.84 122.43,394.07 122.3,394.29 122.18,394.52 122.06,394.74 121.94,394.97 121.82,395.19 121.7,395.42 121.58,395.65 121.46,395.87 121.34,396.1 121.22,396.33 121.11,396.56 120.99,396.78 120.87,397.01 120.76,397.24 120.64,397.47 120.53,397.7 120.42,397.93 120.3,398.16 120.19,398.39 120.08,398.62 119.97,398.85 119.86,399.08 119.75,399.31 119.64,399.55 119.53,399.78 119.42,400.01 119.32,400.24 119.21,400.48 119.1,400.71 119,400.94 118.89,401.18 118.79,401.41 118.69,401.65 118.58,401.88 118.48,402.11 118.38,402.35 118.28,402.59 118.18,402.82 118.08,403.06 117.98,403.29 117.88,403.53 117.78,403.77 117.68,404 117.59,404.24 117.49,404.48 117.4,404.72 117.3,404.95 117.21,405.19 117.11,405.43 117.02,405.67 116.93,405.91 116.84,406.15 116.74,406.39 116.65,406.63 116.56,406.87 116.47,407.11 116.39,407.35 116.3,407.59 116.21,407.83 116.12,408.07 116.04,408.31 115.95,408.55 115.87,408.79 115.78,409.04 115.7,409.28 115.62,409.52 115.53,409.76 115.45,410.01 115.37,410.25 115.29,410.49 115.21,410.73 115.13,410.98 115.05,411.22 114.98,411.47 114.9,411.71 114.82,411.96 114.75,412.2 114.67,412.44 114.6,412.69 114.52,412.94 114.45,413.18 114.38,413.43 114.3,413.67 114.23,413.92 114.16,414.16 114.09,414.41 114.02,414.66 113.95,414.9 113.89,415.15 113.82,415.4 113.75,415.65 113.68,415.89 113.62,416.14 113.55,416.39 113.49,416.64 113.43,416.88 113.36,417.13 113.3,417.38 113.24,417.63 113.18,417.88 113.12,418.13 113.06,418.38 113,418.63 112.94,418.88 112.88,419.13 112.83,419.38 112.77,419.63 112.71,419.88" fill="#9a2b9e" stroke="#9a2b9e" stroke-width="0.15"/>
<polygon points="119.32,387.08 119.2,386.69 118.87,386.16 118.3,385.49 117.5,384.67 118.12,384.73 119.11,385.02 119.85,385.17 120.35,385.16 120.51,384.94 120.66,384.71 120.81,384.49 120.97,384.27 121.08,384.01 121.16,383.74 121.23,383.46 121.29,383.17 121.25,382.82 121.01,382.33 120.66,381.75 120.19,381.1 120.88,381.24 121.6,381.4 122.19,381.47 122.16,381.12 121.67,380.44 120.95,379.59 119.99,378.57 119.65,377.98 121.6,379.03 122.96,379.67 123.61,379.8 123.76,379.57 123.91,379.34 124.05,379.11 123.78,378.57 123.34,377.89 122.71,377.08 121.9,376.12 122.21,376 122.65,375.98 123.07,375.95 123.51,375.93 123.93,375.91 124.33,375.87 124.71,375.81 124.8,375.53 124.89,375.25 124.98,374.96 125.06,374.67 125.16,374.39 125.26,374.12 125.36,373.84 125.22,373.37 125,372.82 124.73,372.24 124.44,371.63 125.35,372.01 126.17,372.33 126.9,372.58 127.54,372.77 128,372.79 128.32,372.71 128.63,372.61 128.92,372.5 129.19,372.37 129.45,372.24 129.68,372.07 129.88,371.89 130.08,371.7 130.26,371.49 130.44,371.28 130.61,371.08 130.79,370.87 130.97,370.66 131.14,370.45 131.32,370.24 131.49,370.03 131.67,369.82 131.79,369.56 131.56,368.97 130.94,368 129.86,366.59 130.39,366.71 131.19,367.08 131.52,367.01 131.32,366.44 131.08,365.8 130.78,365.11 130.42,364.36 130.01,363.55 129.55,362.69 129.05,361.78 128.51,360.82 127.92,359.79 128.07,359.52 128.6,359.64 129.12,359.75 129.64,359.85 130.5,360.32 132.22,361.71 133.66,362.8 134.8,363.6 134.92,363.32 134.5,362.46 133.96,361.46 133.29,360.32 132.48,359.02 133.64,359.85 135.17,361.11 136.38,362.02 137.29,362.6 137.91,362.88 138.05,362.62 138.11,362.28 138.14,361.9 138.14,361.48 138.63,361.62 139.04,361.67 139.38,361.64 139.59,361.47 139.79,361.27 139.98,361.08 140.17,360.88 140.37,360.68 140.61,360.55 140.86,360.42 141.09,360.27 141.31,360.09 141.36,359.73 141.16,359.05 140.67,358 139.86,356.56 138.72,354.68 137.23,352.35 135.37,349.52 134.95,348.51 135.78,349.05 136.57,349.58 137.4,350.15 138.2,350.69 138.97,351.2 139.49,351.4 139.87,351.41 140.25,351.42 140.62,351.42 140.99,351.43 141.99,352.28 143.96,354.45 145.27,355.76 145.82,356.04 146.21,356.11 146.52,356.07 146.69,355.84 146.66,355.32 146.38,354.46 145.85,353.23 145.07,351.63 144.89,350.88 144.69,350.07 144.45,349.22 144.99,349.5 146.69,351.47 147.98,352.85 148.81,353.57 149.1,353.51 149.39,353.45 149.59,353.26 149.66,352.86 149.7,352.41 149.71,351.92 149.68,351.37 149.63,350.77 149.33,349.79 148.94,348.65 148.46,347.36 147.9,345.93 147.25,344.35 148.63,345.99 149.98,347.6 151.12,348.9 156.71,357.96 156.5,358.1 156.28,358.23 156.06,358.37 155.85,358.5 155.63,358.64 155.42,358.78 155.2,358.91 154.99,359.05 154.77,359.19 154.56,359.33 154.34,359.47 154.13,359.61 153.92,359.75 153.71,359.9 153.49,360.04 153.28,360.18 153.07,360.32 152.86,360.47 152.65,360.61 152.44,360.76 152.23,360.9 152.02,361.05 151.81,361.2 151.6,361.34 151.39,361.49 151.18,361.64 150.98,361.79 150.77,361.94 150.56,362.09 150.36,362.24 150.15,362.39 149.95,362.54 149.74,362.7 149.54,362.85 149.33,363 149.13,363.16 148.92,363.31 148.72,363.47 148.52,363.62 148.31,363.78 148.11,363.93 147.91,364.09 147.71,364.25 147.51,364.41 147.31,364.56 147.11,364.72 146.91,364.88 146.71,365.04 146.51,365.2 146.31,365.37 146.12,365.53 145.92,365.69 145.72,365.85 145.53,366.02 145.33,366.18 145.13,366.34 144.94,366.51 144.74,366.67 144.55,366.84 144.36,367.01 144.16,367.17 143.97,367.34 143.78,367.51 143.58,367.68 143.39,367.85 143.2,368.01 143.01,368.18 142.82,368.36 142.63,368.53 142.44,368.7 142.25,368.87 142.06,369.04 141.87,369.21 141.69,369.39 141.5,369.56 141.31,369.74 141.13,369.91 140.94,370.09 140.75,370.26 140.57,370.44 140.39,370.62 140.2,370.79 140.02,370.97 139.83,371.15 139.65,371.33 139.47,371.51 139.29,371.69 139.11,371.87 138.93,372.05 138.75,372.23 138.57,372.41 138.39,372.59 138.21,372.77 138.03,372.96 137.85,373.14 137.67,373.32 137.5,373.51 137.32,373.69 137.14,373.88 136.97,374.06 136.79,374.25 136.62,374.44 136.45,374.62 136.27,374.81 136.1,375 135.93,375.19 135.75,375.38 135.58,375.57 135.41,375.76 135.24,375.95 135.07,376.14 134.9,376.33 134.73,376.52 134.56,376.71 134.4,376.9 134.23,377.1 134.06,377.29 133.9,377.48 133.73,377.68 133.56,377.87 133.4,378.07 133.23,378.26 133.07,378.46 132.91,378.66 132.74,378.85 132.58,379.05 132.42,379.25 132.26,379.45 132.1,379.64 131.94,379.84 131.78,380.04 131.62,380.24 131.46,380.44 131.3,380.64 131.14,380.84 130.99,381.05 130.83,381.25 130.67,381.45 130.52,381.65 130.36,381.86 130.21,382.06 130.05,382.26 129.9,382.47 129.75,382.67 129.59,382.88 129.44,383.08 129.29,383.29 129.14,383.49 128.99,383.7 128.84,383.91 128.69,384.12 128.54,384.32 128.39,384.53 128.25,384.74 128.1,384.95 127.95,385.16 127.81,385.37 127.66,385.58 127.52,385.79 127.37,386 127.23,386.21 127.09,386.42 126.94,386.63 126.8,386.85 126.66,387.06 126.52,387.27 126.38,387.49 126.24,387.7 126.1,387.91 125.96,388.13 125.82,388.34 125.68,388.56 125.55,388.78 125.41,388.99 125.28,389.21 125.14,389.42 125.01,389.64 124.87,389.86 124.74,390.08 124.6,390.29" fill="#8b3cad" stroke="#8b3cad" stroke-width="0.15"/>
<polygon points="151.12,348.9 151.56,349.08 152.16,349.5 152.53,349.56 152.87,349.58 153.18,349.55 153.47,349.48 153.74,349.37 153.85,349 153.48,347.82 152.8,346.07 151.84,343.83 151.9,343.34 152.76,344.24 153.53,345 154.23,345.63 154.83,346.12 154.9,345.65 154.84,344.94 154.75,344.17 154.64,343.35 154.5,342.49 154.85,342.5 155.58,343.24 156.26,343.89 156.88,344.43 157.42,344.85 157.66,344.67 157.69,344.11 157.69,343.47 157.65,342.75 157.58,341.96 157.89,341.93 158.27,342.02 158.63,342.1 159,342.17 159.36,342.24 159.59,342.06 159.73,341.66 159.85,341.25 159.98,340.83 160.1,340.39 160.22,339.95 160.63,340.14 161.08,340.41 161.51,340.62 161.76,340.46 167.22,352.33 166.98,352.44 166.75,352.55 166.51,352.66 166.28,352.77 166.04,352.88 165.81,352.99 165.57,353.1 165.34,353.22 165.11,353.33 164.88,353.44 164.64,353.56 164.41,353.67 164.18,353.79 163.95,353.91 163.72,354.02 163.49,354.14 163.26,354.26 163.03,354.38 162.8,354.5 162.57,354.62 162.34,354.74 162.11,354.86 161.88,354.98 161.65,355.11 161.42,355.23 161.2,355.35 160.97,355.48 160.74,355.6 160.51,355.73 160.29,355.86 160.06,355.98 159.84,356.11 159.61,356.24 159.39,356.37 159.16,356.5 158.94,356.63 158.71,356.76 158.49,356.89 158.27,357.02 158.04,357.15 157.82,357.29 157.6,357.42 157.38,357.55 157.16,357.69 156.93,357.82 156.71,357.96" fill="#5b2b9a" stroke="#5b2b9a" stroke-width="0.15"/>
<polygon points="161.76,340.46 161.96,340.21 162.17,339.97 162.1,339.11 161.91,337.95 161.67,336.68 161.6,335.79 162.17,336.34 162.73,336.88 163.28,337.39 163.87,338.01 164.46,338.65 165.02,339.24 165.56,339.78 166.07,340.26 166.53,340.61 166.9,340.76 167.26,340.9 167.62,341.03 167.98,341.16 168.21,340.99 168.41,340.72 168.59,340.4 168.76,340.06 169.02,339.95 169.28,339.82 169.53,339.68 169.78,339.53 170,339.33 170.14,338.89 170.27,338.4 170.45,338.05 170.81,338.2 171.17,338.35 171.52,338.49 171.86,338.61 171.89,337.82 171.89,336.95 171.87,336 171.86,335.07 172.31,335.48 172.75,335.88 173.19,336.27 173.61,336.64 174.05,337.05 174.51,337.54 174.96,337.99 175.38,338.39 175.74,338.6 175.87,338.05 175.97,337.43 176.06,336.75 176.32,336.64 176.99,337.86 177.56,338.79 178.03,339.4 178.37,339.57 178.64,339.5 178.91,339.43 179.16,339.31 179.33,338.88 179.44,338.22 179.61,337.8 179.83,337.52 180.04,337.23 180.25,336.94 180.65,337.33 181.02,337.64 181.37,337.88 181.62,337.73 181.86,337.55 182.11,337.37 182.35,337.18 182.53,336.75 182.71,336.26 182.87,335.73 183.2,335.91 183.59,336.34 183.96,336.68 184.31,336.93 184.63,337.08 184.87,336.86 184.99,336.13 185.08,335.22 185.31,334.94 185.54,334.64 185.77,334.32 185.99,333.98 186.2,333.61 186.35,332.88 186.44,331.83 186.51,330.68 186.57,329.44 186.9,329.57 187.25,329.79 187.59,330 187.92,330.19 188.28,330.51 188.8,331.79 189.28,332.83 189.71,333.63 190.09,334.16 190.42,334.42 190.62,333.92 190.68,332.51 190.65,330.4 190.77,329.28 191.01,328.89 191.25,328.51 191.5,328.14 191.77,327.92 192.05,327.74 192.39,328.02 192.86,329.24 193.3,330.32 193.72,331.26 194.11,332.06 194.42,332.18 194.69,332.05 194.97,331.92 195.24,331.79 195.52,331.65 195.82,331.79 196.18,332.37 196.52,332.87 196.85,333.28 197.16,333.51 197.44,333.56 197.73,333.61 198.02,333.65 198.31,333.7 198.6,333.74 198.88,333.77 199.17,333.79 199.45,333.8 199.72,333.65 199.98,333.35 200.24,332.98 200.5,332.59 200.76,332.15 201.08,332.68 201.4,333.26 201.7,333.66 202,333.81 202.28,333.77 202.55,333.68 202.83,333.53 203.1,333.32 203.37,333 203.64,332.6 203.91,332.2 204.23,333.22 204.54,334.03 204.84,334.59 205.12,334.68 205.39,334.21 205.65,333.4 205.91,332.28 206.17,330.85 206.44,329.14 206.73,329.59 207.04,330.71 207.33,331.72 207.62,332.59 207.66,343.4 207.4,343.4 207.15,343.4 206.89,343.41 206.64,343.41 206.38,343.41 206.12,343.42 205.87,343.42 205.61,343.43 205.36,343.44 205.1,343.44 204.84,343.45 204.59,343.46 204.33,343.47 204.08,343.48 203.82,343.49 203.56,343.5 203.31,343.51 203.05,343.53 202.8,343.54 202.54,343.55 202.29,343.57 202.03,343.58 201.77,343.6 201.52,343.62 201.26,343.63 201.01,343.65 200.75,343.67 200.5,343.69 200.24,343.71 199.99,343.73 199.73,343.75 199.48,343.77 199.22,343.8 198.97,343.82 198.71,343.84 198.46,343.87 198.2,343.89 197.95,343.92 197.69,343.95 197.44,343.97 197.18,344 196.93,344.03 196.68,344.06 196.42,344.09 196.17,344.12 195.91,344.15 195.66,344.18 195.4,344.22 195.15,344.25 194.9,344.28 194.64,344.32 194.39,344.35 194.14,344.39 193.88,344.43 193.63,344.46 193.38,344.5 193.12,344.54 192.87,344.58 192.62,344.62 192.36,344.66 192.11,344.7 191.86,344.74 191.61,344.79 191.35,344.83 191.1,344.87 190.85,344.92 190.6,344.96 190.35,345.01 190.09,345.06 189.84,345.1 189.59,345.15 189.34,345.2 189.09,345.25 188.84,345.3 188.59,345.35 188.34,345.4 188.09,345.45 187.83,345.51 187.58,345.56 187.33,345.61 187.08,345.67 186.83,345.72 186.58,345.78 186.33,345.84 186.08,345.89 185.84,345.95 185.59,346.01 185.34,346.07 185.09,346.13 184.84,346.19 184.59,346.25 184.34,346.31 184.09,346.37 183.85,346.44 183.6,346.5 183.35,346.56 183.1,346.63 182.85,346.69 182.61,346.76 182.36,346.83 182.11,346.9 181.87,346.96 181.62,347.03 181.37,347.1 181.13,347.17 180.88,347.24 180.64,347.31 180.39,347.39 180.14,347.46 179.9,347.53 179.65,347.61 179.41,347.68 179.16,347.76 178.92,347.83 178.68,347.91 178.43,347.99 178.19,348.06 177.94,348.14 177.7,348.22 177.46,348.3 177.21,348.38 176.97,348.46 176.73,348.55 176.49,348.63 176.24,348.71 176,348.79 175.76,348.88 175.52,348.96 175.28,349.05 175.04,349.14 174.79,349.22 174.55,349.31 174.31,349.4 174.07,349.49 173.83,349.58 173.59,349.67 173.35,349.76 173.12,349.85 172.88,349.94 172.64,350.03 172.4,350.12 172.16,350.22 171.92,350.31 171.68,350.41 171.45,350.5 171.21,350.6 170.97,350.7 170.74,350.79 170.5,350.89 170.26,350.99 170.03,351.09 169.79,351.19 169.56,351.29 169.32,351.39 169.09,351.49 168.85,351.6 168.62,351.7 168.38,351.8 168.15,351.91 167.92,352.01 167.68,352.12 167.45,352.22 167.22,352.33" fill="#3b2f96" stroke="#3b2f96" stroke-width="0.15"/>
<polygon points="207.62,332.59 207.92,333.36 208.21,333.98 208.5,334.5 208.79,334.8 209.08,334.74 209.37,334.67 209.66,334.6 209.95,334.5 210.25,334.13 210.55,333.71 210.85,333.22 211.13,333.68 211.41,334.16 211.7,334.12 212.02,333.49 212.34,332.71 212.68,331.8 213.02,330.75 213.38,329.56 213.74,328.52 214.1,327.5 214.47,326.4 214.82,325.85 215.1,326.41 215.37,326.97 214.3,343.6 214.03,343.59 213.77,343.57 213.5,343.56 213.24,343.54 212.97,343.53 212.71,343.51 212.44,343.5 212.18,343.49 211.91,343.48 211.64,343.47 211.38,343.46 211.11,343.45 210.85,343.44 210.58,343.43 210.32,343.43 210.05,343.42 209.79,343.42 209.52,343.41 209.25,343.41 208.99,343.41 208.72,343.4 208.46,343.4 208.19,343.4 207.93,343.4 207.66,343.4" fill="#2f2f8e" stroke="#2f2f8e" stroke-width="0.15"/>
<polygon points="215.37,326.97 215.64,327.49 215.95,327.31 216.26,327.2 216.57,327.11 216.87,327.13 217.16,327.31 217.45,327.49 217.73,327.68 217.92,328.9 218.02,331.06 218.15,332.8 218.44,332.82 218.82,331.91 219.22,330.85 219.61,329.84 219.75,331.35 219.9,332.65 220.06,333.75 220.25,334.64 220.45,335.3 220.71,335.53 220.99,335.57 221.26,335.62 221.54,335.66 221.81,335.76 222.07,335.88 222.35,335.94 222.65,335.76 222.97,335.51 223.35,334.84 223.81,333.69 224.31,332.26 224.87,330.56 225.18,330.46 225.4,330.94 225.62,331.41 225.85,331.86 226.06,332.36 226.13,333.7 226.22,334.85 226.34,335.79 226.54,336.27 226.79,336.46 227.04,336.65 227.3,336.83 227.57,336.88 227.85,336.88 228.12,336.96 228.36,337.18 228.61,337.37 228.86,337.53 227.29,345.33 227.04,345.28 226.79,345.23 226.53,345.18 226.28,345.13 226.03,345.08 225.78,345.03 225.52,344.99 225.27,344.94 225.02,344.89 224.76,344.85 224.51,344.81 224.26,344.76 224,344.72 223.75,344.68 223.5,344.64 223.24,344.6 222.99,344.56 222.73,344.52 222.48,344.48 222.22,344.44 221.97,344.4 221.72,344.37 221.46,344.33 221.21,344.3 220.95,344.26 220.7,344.23 220.44,344.2 220.19,344.16 219.93,344.13 219.68,344.1 219.42,344.07 219.16,344.04 218.91,344.01 218.65,343.98 218.4,343.96 218.14,343.93 217.89,343.9 217.63,343.88 217.37,343.85 217.12,343.83 216.86,343.8 216.61,343.78 216.35,343.76 216.09,343.74 215.84,343.72 215.58,343.69 215.32,343.68 215.07,343.66 214.81,343.64 214.55,343.62 214.3,343.6" fill="#2c4aa6" stroke="#2c4aa6" stroke-width="0.15"/>
<polygon points="228.86,337.53 229.12,337.68 229.38,337.79 229.66,337.82 229.95,337.78 230.25,337.7 230.57,337.57 230.86,337.55 231.12,337.66 231.39,337.74 231.66,337.78 231.95,337.78 232.27,337.63 232.72,336.97 233.26,335.91 233.9,334.49 234.46,333.45 234.45,334.66 234.51,335.63 234.63,336.32 234.84,336.65 235.14,336.6 235.45,336.55 235.76,336.51 236.07,336.47 236.37,336.43 236.72,336.24 237.16,335.71 237.69,334.89 238.3,333.83 238.98,332.52 239.73,330.98 240.06,330.91 240.39,330.88 240.71,330.87 241.02,330.87 241.33,330.89 241.51,331.36 241.53,332.32 241.56,333.24 241.59,334.13 241.77,334.55 241.98,334.86 242.18,335.17 242.39,335.49 242.8,335.16 243.31,334.58 243.84,333.92 244.35,333.34 244.23,334.62 244.14,335.79 244.08,336.87 243.84,338.43 243.65,339.83 243.69,340.57 243.99,340.57 244.31,340.51 244.66,340.37 245.04,340.17 245.43,339.91 246.04,339.11 246.94,337.53 248.01,335.54 249.24,333.14 248.89,334.9 248.39,337 248.04,338.73 247.83,340.04 247.79,340.92 248.2,340.65 248.68,340.22 249.21,339.69 249.77,339.07 250.09,339.07 250.25,339.45 250.42,339.8 250.59,340.12 250.86,340.24 251.83,338.7 253.08,336.54 254.6,333.81 254.72,334.3 254.48,335.6 254.28,336.81 254.09,337.96 247.85,351.91 247.62,351.8 247.38,351.7 247.15,351.59 246.91,351.49 246.67,351.39 246.44,351.29 246.2,351.19 245.96,351.09 245.73,350.99 245.49,350.89 245.25,350.79 245.01,350.69 244.77,350.59 244.54,350.5 244.3,350.4 244.06,350.3 243.82,350.21 243.58,350.12 243.34,350.02 243.1,349.93 242.86,349.84 242.62,349.75 242.38,349.65 242.13,349.56 241.89,349.47 241.65,349.38 241.41,349.3 241.17,349.21 240.93,349.12 240.68,349.03 240.44,348.95 240.2,348.86 239.95,348.78 239.71,348.69 239.47,348.61 239.22,348.53 238.98,348.45 238.73,348.37 238.49,348.28 238.24,348.2 238,348.13 237.75,348.05 237.51,347.97 237.26,347.89 237.02,347.81 236.77,347.74 236.53,347.66 236.28,347.59 236.03,347.51 235.79,347.44 235.54,347.37 235.29,347.29 235.04,347.22 234.8,347.15 234.55,347.08 234.3,347.01 234.05,346.94 233.8,346.87 233.56,346.81 233.31,346.74 233.06,346.67 232.81,346.61 232.56,346.54 232.31,346.48 232.06,346.41 231.81,346.35 231.56,346.29 231.31,346.23 231.06,346.16 230.81,346.1 230.56,346.04 230.31,345.98 230.06,345.93 229.81,345.87 229.56,345.81 229.31,345.75 229.06,345.7 228.8,345.64 228.55,345.59 228.3,345.53 228.05,345.48 227.8,345.43 227.54,345.38 227.29,345.33" fill="#2a4094" stroke="#2a4094" stroke-width="0.15"/>
<polygon points="254.09,337.96 254.13,338.59 254.59,338.29 255.06,337.97 255.55,337.63 256.04,337.27 256.46,337.08 256.78,337.11 257.1,337.14 256.95,338.16 256.38,340.05 255.96,341.58 255.72,342.74 255.95,342.92 257.03,341.39 258.53,339 260.44,335.84 260.78,335.85 260.91,336.28 261.05,336.69 261.18,337.11 261.32,337.51 261.29,338.24 261.09,339.27 260.92,340.24 260.78,341.15 260.82,341.7 261.23,341.56 261.64,341.43 262.05,341.29 262.06,341.88 261.78,343.01 261.55,344.04 261.37,344.96 261.35,345.58 261.66,345.62 261.98,345.65 262.29,345.67 262.61,345.69 262.94,345.71 263.45,345.39 264.4,344.34 265.48,343.09 264.62,345.12 263.77,347.13 263.35,348.4 263.51,348.68 263.67,348.96 263.84,349.22 264.06,349.4 264.45,349.3 264.89,349.14 265.35,348.93 265.84,348.68 266.34,348.43 266.87,348.13 267.43,347.79 268.02,347.4 267.58,348.62 267.25,349.66 267.06,350.47 267.02,351.05 267.17,351.34 267.5,351.35 267.85,351.34 268.2,351.33 268.71,351.07 269.34,350.66 270.05,350.13 270.48,350.01 270.43,350.58 270.44,351.08 270.51,351.48 270.64,351.79 270.84,352 271.13,352.1 271.41,352.19 271.7,352.28 271.98,352.38 272.26,352.48 272.75,352.3 273.48,351.79 274.39,351.05 275.45,350.12 276.66,348.99 277.01,349.03 276.79,349.82 276.58,350.59 276.38,351.34 276.19,352.07 276.02,352.79 275.58,353.83 275.12,354.89 274.91,355.62 275.45,355.4 276.08,355.06 276.8,354.62 277.5,354.21 277.89,354.19 278.29,354.16 278.71,354.1 279.15,354.03 279.61,353.93 279.06,355.07 277.27,357.68 276.28,359.3 276.39,359.6 276.65,359.74 276.91,359.86 277.19,359.96 277.49,360.04 277.96,359.92 278.49,359.74 279.07,359.51 279.7,359.22 279.98,359.33 280.07,359.67 280.16,359.99 280.28,360.29 280.44,360.53 280.69,360.68 280.93,360.83 281.18,360.99 281.42,361.14 281.65,361.31 281.82,361.54 281.97,361.81 282.11,362.07 282.27,362.32 282.48,362.5 282.69,362.7 282.89,362.91 283.05,363.14 283.21,363.39 283.36,363.64 283.5,363.9 283.65,364.15 284.27,363.93 285.53,363.06 287.34,361.67 287.44,361.98 286.91,362.91 286.44,363.79 286.03,364.59 285.69,365.33 285.64,365.77 286.2,365.62 286.84,365.4 287.56,365.11 288.36,364.75 288.92,364.63 288.7,365.24 288.5,365.82 288.32,366.38 288.16,366.92 287.96,367.5 287.73,368.09 287.55,368.63 287.41,369.14 287.32,369.61 287.34,369.96 287.46,370.23 287.59,370.49 287.73,370.74 288.21,370.68 288.79,370.55 289.42,370.37 289.41,370.76 289.26,371.26 289.17,371.71 289.13,372.1 289.17,372.44 289.27,372.71 289.43,372.95 289.67,373.11 289.94,373.25 290.24,373.37 290.77,373.29 291.55,373.02 292.52,372.59 293.66,372.04 294.76,371.53 294.63,372.01 294.51,372.48 294.39,372.94 294.28,373.39 293.61,374.28 293.03,375.09 292.64,375.74 292.48,376.22 292.9,376.26 293.51,376.14 294.29,375.91 295.23,375.55 296.33,375.09 295.48,376.08 294.68,377.03 294.16,377.76 294.62,377.77 295.14,377.74 295.72,377.67 296.36,377.56 296.73,377.65 296.14,378.42 295.66,379.11 295.48,379.57 295.81,379.69 296.15,379.79 296.51,379.89 296.51,380.23 296.27,380.74 296.08,381.2 295.95,381.63 295.87,382.02 296,382.26 296.89,382.01 298.16,381.5 299.79,380.77 299.63,381.22 298.13,382.54 297.15,383.5 297.11,383.86 297.53,383.92 298.02,383.94 298.57,383.93 299.18,383.88 299.56,383.97 299.46,384.37 299.38,384.75 299.31,385.12 299.41,385.39 299.92,385.41 300.47,385.4 300.45,385.75 300.25,386.2 300.07,386.63 300.06,386.96 300.24,387.18 300.41,387.4 300.58,387.63 300.76,387.85 300.96,388.06 301,388.36 300.99,388.69 301.01,389 301.05,389.3 301.53,389.35 302.1,389.35 302.72,389.34 302.79,389.62 302.5,390.1 302.3,390.53 302.19,390.9 302.16,391.23 302.46,391.4 302.99,391.43 303.59,391.44 304.09,391.5 304.61,391.55 304.97,391.69 304.97,392.01 304.96,392.33 305.27,392.49 306.04,392.43 306.89,392.33 307.81,392.21 308.1,392.39 307.07,393.21 306.24,393.93 305.66,394.52 306.23,394.57 307.07,394.48 308.08,394.33 296.46,399.75 296.35,399.52 296.24,399.29 296.13,399.06 296.02,398.83 295.91,398.6 295.8,398.36 295.68,398.13 295.57,397.9 295.46,397.67 295.34,397.45 295.23,397.22 295.11,396.99 295,396.76 294.88,396.53 294.76,396.3 294.65,396.08 294.53,395.85 294.41,395.62 294.29,395.39 294.17,395.17 294.05,394.94 293.93,394.72 293.81,394.49 293.68,394.27 293.56,394.04 293.44,393.82 293.31,393.59 293.19,393.37 293.06,393.15 292.94,392.92 292.81,392.7 292.68,392.48 292.56,392.26 292.43,392.03 292.3,391.81 292.17,391.59 292.04,391.37 291.91,391.15 291.78,390.93 291.65,390.71 291.51,390.49 291.38,390.27 291.25,390.05 291.11,389.84 290.98,389.62 290.84,389.4 290.71,389.18 290.57,388.97 290.44,388.75 290.3,388.53 290.16,388.32 290.02,388.1 289.88,387.89 289.74,387.67 289.6,387.46 289.46,387.24 289.32,387.03 289.18,386.82 289.04,386.6 288.89,386.39 288.75,386.18 288.61,385.97 288.46,385.76 288.32,385.55 288.17,385.33 288.02,385.12 287.88,384.91 287.73,384.71 287.58,384.5 287.43,384.29 287.28,384.08 287.13,383.87 286.98,383.66 286.83,383.46 286.68,383.25 286.53,383.04 286.38,382.84 286.22,382.63 286.07,382.43 285.92,382.22 285.76,382.02 285.61,381.81 285.45,381.61 285.3,381.41 285.14,381.21 284.98,381 284.82,380.8 284.67,380.6 284.51,380.4 284.35,380.2 284.19,380 284.03,379.8 283.87,379.6 283.7,379.4 283.54,379.2 283.38,379 283.22,378.81 283.05,378.61 282.89,378.41 282.73,378.22 282.56,378.02 282.4,377.82 282.23,377.63 282.06,377.43 281.9,377.24 281.73,377.05 281.56,376.85 281.39,376.66 281.22,376.47 281.05,376.28 280.88,376.09 280.71,375.89 280.54,375.7 280.37,375.51 280.2,375.32 280.02,375.13 279.85,374.95 279.68,374.76 279.5,374.57 279.33,374.38 279.15,374.2 278.98,374.01 278.8,373.82 278.63,373.64 278.45,373.45 278.27,373.27 278.09,373.08 277.91,372.9 277.74,372.72 277.56,372.53 277.38,372.35 277.2,372.17 277.01,371.99 276.83,371.81 276.65,371.63 276.47,371.45 276.29,371.27 276.1,371.09 275.92,370.91 275.74,370.73 275.55,370.55 275.37,370.38 275.18,370.2 274.99,370.02 274.81,369.85 274.62,369.67 274.43,369.5 274.25,369.33 274.06,369.15 273.87,368.98 273.68,368.81 273.49,368.63 273.3,368.46 273.11,368.29 272.92,368.12 272.73,367.95 272.53,367.78 272.34,367.61 272.15,367.44 271.96,367.27 271.76,367.11 271.57,366.94 271.37,366.77 271.18,366.61 270.98,366.44 270.79,366.28 270.59,366.11 270.39,365.95 270.2,365.78 270,365.62 269.8,365.46 269.6,365.3 269.4,365.14 269.2,364.98 269,364.81 268.8,364.65 268.6,364.5 268.4,364.34 268.2,364.18 268,364.02 267.8,363.86 267.59,363.71 267.39,363.55 267.19,363.4 266.98,363.24 266.78,363.09 266.58,362.93 266.37,362.78 266.16,362.63 265.96,362.47 265.75,362.32 265.55,362.17 265.34,362.02 265.13,361.87 264.92,361.72 264.72,361.57 264.51,361.42 264.3,361.27 264.09,361.13 263.88,360.98 263.67,360.83 263.46,360.69 263.25,360.54 263.04,360.4 262.82,360.25 262.61,360.11 262.4,359.97 262.19,359.82 261.97,359.68 261.76,359.54 261.55,359.4 261.33,359.26 261.12,359.12 260.9,358.98 260.69,358.84 260.47,358.7 260.25,358.57 260.04,358.43 259.82,358.29 259.6,358.16 259.39,358.02 259.17,357.89 258.95,357.75 258.73,357.62 258.51,357.49 258.29,357.36 258.07,357.22 257.85,357.09 257.63,356.96 257.41,356.83 257.19,356.7 256.97,356.57 256.75,356.45 256.53,356.32 256.3,356.19 256.08,356.06 255.86,355.94 255.63,355.81 255.41,355.69 255.19,355.56 254.96,355.44 254.74,355.32 254.51,355.2 254.29,355.07 254.06,354.95 253.83,354.83 253.61,354.71 253.38,354.59 253.15,354.47 252.93,354.36 252.7,354.24 252.47,354.12 252.24,354 252.02,353.89 251.79,353.77 251.56,353.66 251.33,353.54 251.1,353.43 250.87,353.32 250.64,353.21 250.41,353.09 250.18,352.98 249.95,352.87 249.71,352.76 249.48,352.65 249.25,352.55 249.02,352.44 248.79,352.33 248.55,352.22 248.32,352.12 248.09,352.01 247.85,351.91" fill="#1f6a9e" stroke="#1f6a9e" stroke-width="0.15"/>
<polygon points="308.08,394.33 308.66,394.38 308.08,394.97 307.62,395.5 307.39,395.92 307.9,396.01 308.47,396.07 309.03,396.14 309.53,396.24 310.18,396.27 311.37,396.08 312.73,395.81 311.98,396.46 310.31,397.5 309.1,398.32 309.22,398.59 309.54,398.77 309.88,398.94 310.24,399.11 310.24,399.42 309.98,399.84 309.75,400.24 309.56,400.63 309.41,401 309.38,401.32 309.45,401.6 309.51,401.88 309.57,402.17 309.61,402.46 310.27,402.52 311.57,402.34 313.32,402 312.2,402.73 311.24,403.39 310.44,403.99 309.82,404.51 309.4,404.97 309.44,405.25 309.56,405.51 309.59,405.8 309.47,406.14 309.39,406.47 309.34,406.78 309.33,407.08 309.39,407.36 309.45,407.64 309.53,407.91 309.63,408.17 309.74,408.43 309.9,408.68 310.5,408.78 311.51,408.77 312.9,408.64 314.63,408.41 316.28,408.22 316.54,408.45 316.81,408.68 317.08,408.91 317.26,409.17 317.34,409.46 317.42,409.75 317.71,409.98 318.17,410.17 318.63,410.35 319.09,410.54 319.49,410.74 319.54,411.05 319.58,411.35 319.61,411.66 319.62,411.97 319.62,412.28 318.66,412.84 317.71,413.39 316.87,413.91 316.14,414.39 315.52,414.84 315.17,415.23 315.01,415.56 314.87,415.9 315.14,416.13 315.47,416.35 315.87,416.56 316.33,416.76 316.85,416.94 316.66,417.28 316.46,417.63 316.25,417.97 316.05,418.31 317.57,418.29 319.81,418.13 320.65,418.27 319.46,418.82 318.37,419.34 317.36,419.83 316.58,420.28 317.36,420.43 318.23,420.57 319.21,420.69 320.28,420.8 319.2,421.3 318.09,421.79 317.08,422.27 316.18,422.71 315.5,423.12 314.92,423.51 314.43,423.87 314.05,424.22 313.77,424.55 313.98,424.8 314.5,425.01 315.14,425.21 315.89,425.39 316.74,425.55 316.84,425.83 315.71,426.28 314.84,426.69 314.26,427.05 314.34,427.32 314.51,427.59 314.7,427.85 314.9,428.11 315.93,428.27 317.95,428.33 319.71,428.42 319.86,428.71 320,428.99 320.14,429.27 320.28,429.56 320.05,429.88 318.93,430.29 317.94,430.67 317.08,431.05 316.35,431.4 315.83,431.73 315.72,432.03 315.62,432.32 315.54,432.61 315.47,432.9 315.42,433.19 315.6,433.46 316,433.72 316.46,433.98 316.69,434.25 316.29,434.56 315.96,434.87 315.7,435.17 305.46,435.72 305.44,435.47 305.43,435.21 305.41,434.95 305.4,434.69 305.38,434.44 305.36,434.18 305.34,433.92 305.32,433.67 305.3,433.41 305.28,433.16 305.26,432.9 305.24,432.64 305.22,432.39 305.2,432.13 305.17,431.87 305.15,431.62 305.12,431.36 305.1,431.11 305.07,430.85 305.04,430.59 305.02,430.34 304.99,430.08 304.96,429.83 304.93,429.57 304.9,429.32 304.87,429.06 304.84,428.8 304.8,428.55 304.77,428.29 304.74,428.04 304.7,427.78 304.67,427.53 304.63,427.27 304.59,427.02 304.56,426.77 304.52,426.51 304.48,426.26 304.44,426 304.4,425.75 304.36,425.49 304.32,425.24 304.28,424.99 304.23,424.73 304.19,424.48 304.15,424.23 304.1,423.97 304.06,423.72 304.01,423.47 303.97,423.21 303.92,422.96 303.87,422.71 303.82,422.45 303.77,422.2 303.72,421.95 303.67,421.7 303.62,421.44 303.57,421.19 303.52,420.94 303.46,420.69 303.41,420.44 303.35,420.19 303.3,419.94 303.24,419.68 303.19,419.43 303.13,419.18 303.07,418.93 303.01,418.68 302.95,418.43 302.89,418.18 302.83,417.93 302.77,417.68 302.71,417.43 302.65,417.18 302.59,416.93 302.52,416.68 302.46,416.43 302.39,416.18 302.33,415.94 302.26,415.69 302.19,415.44 302.13,415.19 302.06,414.94 301.99,414.69 301.92,414.45 301.85,414.2 301.78,413.95 301.71,413.71 301.63,413.46 301.56,413.21 301.49,412.96 301.41,412.72 301.34,412.47 301.26,412.23 301.19,411.98 301.11,411.74 301.03,411.49 300.95,411.24 300.87,411 300.8,410.76 300.72,410.51 300.63,410.27 300.55,410.02 300.47,409.78 300.39,409.53 300.31,409.29 300.22,409.05 300.14,408.81 300.05,408.56 299.97,408.32 299.88,408.08 299.79,407.84 299.7,407.59 299.62,407.35 299.53,407.11 299.44,406.87 299.35,406.63 299.26,406.39 299.16,406.15 299.07,405.91 298.98,405.67 298.89,405.43 298.79,405.19 298.7,404.95 298.6,404.71 298.51,404.47 298.41,404.23 298.31,403.99 298.21,403.76 298.12,403.52 298.02,403.28 297.92,403.04 297.82,402.81 297.72,402.57 297.61,402.33 297.51,402.1 297.41,401.86 297.31,401.63 297.2,401.39 297.1,401.16 296.99,400.92 296.89,400.69 296.78,400.45 296.67,400.22 296.56,399.99 296.46,399.75" fill="#23999c" stroke="#23999c" stroke-width="0.15"/>
<path d="M272.3,412.71L279.56,409.52M276.79,410.21A75.37,75.37 0 0 1 276.98,410.65M276.79,410.21L278.95,409.24M278.36,409.61A77.05,77.05 0 0 1 278.53,409.97M278.36,409.61L280.7,408.57M269.47,413.96L272.3,412.71M271.78,414.97L277.38,412.69M277.24,412.74A74.79,74.79 0 0 1 277.42,413.18M277.42,413.18L279.37,412.4M274.29,412.84A72.02,72.02 0 0 1 274.69,413.79M274.29,412.84L275.8,412.2M270.18,415.63L271.78,414.97M269.47,413.96A67.16,67.16 0 0 1 270.18,415.63M265.62,416.57L269.83,414.79M274.99,414.89L281.41,412.39M278.46,412.43A76.03,76.03 0 0 1 278.84,413.4M278.46,412.43L281.32,411.27M272.21,415.98L274.99,414.89M281.17,413.97L286.8,411.89M284.66,412.69A81.72,81.72 0 0 1 284.96,413.52M284.96,413.52L286.06,413.13M284.03,412.92A81.05,81.05 0 0 1 284.45,414.08M284.45,414.08L287.23,413.1M286.56,411.98A83.75,83.75 0 0 1 286.99,413.17M286.99,413.17L287.23,413.08M285.19,412.49A82.29,82.29 0 0 1 285.56,413.51M285.56,413.51L287.17,412.93M279.8,414.48L281.17,413.97M281.91,416.08L287.6,414.16M284.9,415.08A81.15,81.15 0 0 1 285.16,415.86M285.16,415.86L286.6,415.39M280.53,416.55L281.91,416.08M279.8,414.48A76.54,76.54 0 0 1 280.53,416.55M277.59,416.42L280.17,415.51M282.42,417.65L288.15,415.85M284.82,416.89A80.51,80.51 0 0 1 285.12,417.88M285.12,417.88L286.92,417.34M286.8,415.75A82.74,82.74 0 0 1 286.95,416.23M286.8,415.75L287.99,415.37M287.47,416.06A83.29,83.29 0 0 1 287.67,416.71M287.67,416.71L288.35,416.51M286.5,415.86A82.43,82.43 0 0 1 286.65,416.32M286.5,415.86L288,415.38M282.95,419.42L288.72,417.75M286.06,417.71A81.46,81.46 0 0 1 286.28,418.46M286.06,417.71L288.5,416.99M288.64,417.78A83.91,83.91 0 0 1 288.85,418.55M288.85,418.55L288.94,418.52M286.92,418.27A82.12,82.12 0 0 1 287.09,418.88M287.09,418.88L288.55,418.47M286.2,417.15A81.76,81.76 0 0 1 286.56,418.38M286.2,417.15L288.35,416.5M282.42,417.65A78,78 0 0 1 282.95,419.42M281.09,419.01L282.69,418.53M283.27,420.55L289.06,418.98M287.14,418.59A82.25,82.25 0 0 1 287.38,419.43M287.14,418.59L288.32,418.26M288.16,418.49A83.26,83.26 0 0 1 288.35,419.17M288.16,418.49L288.87,418.3M286.42,418.79A81.5,81.5 0 0 1 286.65,419.63M286.42,418.79L288.82,418.11M281.65,420.99L283.27,420.55M281.09,419.01A76.32,76.32 0 0 1 281.65,420.99M278.96,420.69L281.38,420M277.59,416.42A73.81,73.81 0 0 1 278.96,420.69M273.65,420.03L278.31,418.55M272.21,415.98A68.91,68.91 0 0 1 273.65,420.03M267,420.11L272.96,418M265.62,416.57A62.59,62.59 0 0 1 267,420.11M262.06,419.99L266.34,418.33M279.09,423.52L287.91,421.35M284.2,421.13A78.75,78.75 0 0 1 284.47,422.2M284.2,421.13L287.5,420.27M287.48,420.17A82.16,82.16 0 0 1 287.79,421.38M287.48,420.17L289.26,419.7M283.24,421.39A77.75,77.75 0 0 1 283.5,422.44M283.24,421.39L285.82,420.72M286.03,420.77A80.61,80.61 0 0 1 286.28,421.75M286.03,420.77L287.58,420.37M273.86,424.81L279.09,423.52M279.54,425.92L288.6,424.01M284.63,424A78.5,78.5 0 0 1 284.81,424.81M284.63,424L286.53,423.57M288.46,423.49A82.34,82.34 0 0 1 288.57,424.02M288.46,423.49L290.08,423.14M284.15,424.95A77.82,77.82 0 0 1 284.35,425.94M284.35,425.94L287.8,425.26M288.52,424.03A82.29,82.29 0 0 1 288.78,425.28M288.78,425.28L290.45,424.95M274.36,427.01L279.54,425.92M273.86,424.81A67.82,67.82 0 0 1 274.36,427.01M271.4,426.53L274.12,425.91M273.67,429.65L284.98,427.7M280.91,427.78A74.1,74.1 0 0 1 281.01,428.38M280.91,427.78L282.14,427.55M272.08,429.93L273.67,429.65M271.4,426.53A65.03,65.03 0 0 1 272.08,429.93M267.28,429.12L271.76,428.22M269.89,431.75L281.53,430.01M277.38,430.63A70.15,70.15 0 0 1 277.45,431.15M277.45,431.15L278.84,430.95M280.35,430.18A73.16,73.16 0 0 1 280.44,430.81M280.44,430.81L283.56,430.37M275.21,430.95A67.96,67.96 0 0 1 275.31,431.66M275.31,431.66L278.32,431.24M267.79,432.06L269.89,431.75M267.28,429.12A60.46,60.46 0 0 1 267.79,432.06M265.13,431.01L267.55,430.59M262.06,419.99A58,58 0 0 1 265.13,431.01M252.79,428.51L263.87,425.43" fill="none" stroke="#23999c" stroke-width="0.65"/>
<path d="M236.42,385.95L242.29,374.58M240.29,378.46A70.39,70.39 0 0 1 240.72,378.68M240.72,378.68L242.77,374.78M239.15,378.33A69.99,69.99 0 0 1 240.1,378.81M239.15,378.33L240.52,375.56M239.68,379.63A69.07,69.07 0 0 1 240.63,380.13M240.63,380.13L241.79,377.96M239.89,379.22A69.52,69.52 0 0 1 240.85,379.73M240.85,379.73L241.79,377.96M235.14,388.43L236.42,385.95M238.29,384.62L242.98,375.87M241.2,378.08A71.14,71.14 0 0 1 241.67,378.33M241.2,378.08L242.94,374.77M240.86,379.83A69.44,69.44 0 0 1 241.31,380.08M241.31,380.08L243.45,376.16M240.99,379.58A69.72,69.72 0 0 1 241.68,379.96M241.68,379.96L243.25,377.11M241.87,377.95A71.57,71.57 0 0 1 242.67,378.39M242.67,378.39L244.44,375.19M237.71,385.69L238.29,384.62M240.67,384.3L245.1,376.61M244.39,377.85A72.88,72.88 0 0 1 244.68,378.02M244.68,378.02L246.38,375.09M244.6,377.47A73.32,73.32 0 0 1 244.97,377.69M244.97,377.69L246.45,375.15M243.91,377.86A72.64,72.64 0 0 1 244.26,378.06M243.91,377.86L244.74,376.41M239.34,386.6L240.67,384.3M237.71,385.69A62.78,62.78 0 0 1 239.34,386.6M236.77,389.3L238.53,386.14M235.14,388.43A59.16,59.16 0 0 1 236.77,389.3M235.48,389.75L235.96,388.86M244.73,379.34L248.14,373.61M246.43,375.84A75.65,75.65 0 0 1 246.71,376.01M246.43,375.84L247.97,373.22M241.82,384.22L244.73,379.34M245.88,381.36L249.66,375.42M248.48,377.28A75.49,75.49 0 0 1 249.15,377.71M249.15,377.71L250.32,375.9M247.05,378A74.12,74.12 0 0 1 247.74,378.44M247.05,378L247.7,376.95M243.43,385.21L245.88,381.36M241.82,384.22A66.09,66.09 0 0 1 243.43,385.21M240.24,388.6L242.63,384.71M244.29,388.54L252.3,376.96M249.1,381.59A72.24,72.24 0 0 1 249.64,381.98M249.64,381.98L251.04,380M243,390.41L244.29,388.54M240.24,388.6A61.52,61.52 0 0 1 243,390.41M239.79,392.3L241.63,389.49M235.48,389.75A58.16,58.16 0 0 1 239.79,392.3M235.82,394.09L237.66,390.98M245.06,389.9L250.45,382.47M247.7,386.26A67.62,67.62 0 0 1 248.32,386.71M248.32,386.71L249.25,385.45M249.23,384.15A70.23,70.23 0 0 1 249.51,384.35M249.51,384.35L250.88,382.47M247.18,386.41A67.2,67.2 0 0 1 247.45,386.6M247.18,386.41L249.28,383.48M250.06,383.01A71.64,71.64 0 0 1 250.4,383.26M250.4,383.26L251.64,381.56M242.18,393.88L245.06,389.9M246.96,389.88L253.95,380.71M252.94,380.72A75.18,75.18 0 0 1 253.58,381.21M252.94,380.72L254.08,379.18M251.65,382.86A72.7,72.7 0 0 1 252.07,383.18M251.65,382.86L253.34,380.61M250.32,385.48A69.81,69.81 0 0 1 250.71,385.78M250.71,385.78L252.9,382.95M245.89,391.28L246.96,389.88M249.7,390.24L256.18,382.35M253.22,385.95A71.24,71.24 0 0 1 254,386.61M254,386.61L255.38,384.98M255.12,383.09A74.65,74.65 0 0 1 255.39,383.31M255.12,383.09L255.86,382.17M252.04,385.69A70.7,70.7 0 0 1 252.88,386.37M252.04,385.69L253.15,384.3M251.9,385.85A70.49,70.49 0 0 1 252.74,386.53M251.9,385.85L254.31,382.82M248.94,391.16L249.7,390.24M255.86,386.7L260.68,381.23M257.39,383.37A75.89,75.89 0 0 1 258.18,384.06M257.39,383.37L259.87,380.48M258.22,382.38A77.19,77.19 0 0 1 259.04,383.09M258.22,382.38L260.05,380.25M259.44,382.63A77.8,77.8 0 0 1 260.18,383.29M260.18,383.29L261.08,382.3M257.88,384.4A75.44,75.44 0 0 1 258.26,384.73M258.26,384.73L261,381.67M251.81,391.28L255.86,386.7M255.54,389.74L259.62,385.34M257.1,386.45A73.39,73.39 0 0 1 257.91,387.19M257.1,386.45L258.52,384.86M257.95,386.43A73.98,73.98 0 0 1 258.3,386.76M257.95,386.43L258.79,385.51M259.3,385.69A75.44,75.44 0 0 1 260.08,386.42M260.08,386.42L262.11,384.3M256.71,387.02A72.71,72.71 0 0 1 257.44,387.69M256.71,387.02L258.96,384.53M253.06,392.41L255.54,389.74M251.81,391.28A66.27,66.27 0 0 1 253.06,392.41M251.25,393.16L252.44,391.85M248.94,391.16A64.5,64.5 0 0 1 251.25,393.16M248.81,393.65L250.11,392.15M245.89,391.28A62.51,62.51 0 0 1 248.81,393.65M244.66,395.79L247.37,392.45M242.18,393.88A58.21,58.21 0 0 1 244.66,395.79M241.19,397.73L243.43,394.82M235.82,394.09A54.53,54.53 0 0 1 241.19,397.73M236.02,399.59L238.56,395.83M253.3,393.76L261.69,385.02M259.34,386.23A75.07,75.07 0 0 1 259.96,386.82M259.34,386.23L261.71,383.7M260.08,386.69A75.24,75.24 0 0 1 260.43,387.03M260.43,387.03L261.29,386.15M248.83,398.42L253.3,393.76M255.05,395.5L264.13,386.72M261.55,387.64A75.6,75.6 0 0 1 262.35,388.45M261.55,387.64L263.33,385.87M264,386.85A77.9,77.9 0 0 1 264.24,387.1M264.24,387.1L265.75,385.64M250.41,399.99L255.05,395.5M248.83,398.42A58.99,58.99 0 0 1 250.41,399.99M248.46,400.37L249.62,399.2M259.64,394.64L264.98,389.85M262.62,390.8A74.19,74.19 0 0 1 263.2,391.44M262.62,390.8L265.81,387.87M261.8,391.5A73.1,73.1 0 0 1 262.4,392.16M261.8,391.5L263.02,390.38M261.79,391.24A73.27,73.27 0 0 1 262.52,392.05M261.79,391.24L262.75,390.36M264.93,389.89A76.51,76.51 0 0 1 265.25,390.24M265.25,390.24L267.86,387.93M257.27,396.77L259.64,394.64M263.09,396.77L268.7,392.26M266.84,392.91A76,76 0 0 1 267.26,393.42M266.84,392.91L269.58,390.67M268.41,392.49A77.47,77.47 0 0 1 268.79,392.97M268.79,392.97L270.77,391.4M266.09,394.36A74.5,74.5 0 0 1 266.35,394.69M266.35,394.69L267.37,393.88M267.93,392.87A76.86,76.86 0 0 1 268.59,393.7M268.59,393.7L269.73,392.8M259.63,399.54L263.09,396.77M257.27,396.77A66.21,66.21 0 0 1 259.63,399.54M257.32,399.11L258.47,398.14M260.26,400.44L265.52,396.35M265.42,396.43A72.69,72.69 0 0 1 265.95,397.12M265.95,397.12L268.12,395.47M262.62,397.52A69.82,69.82 0 0 1 263.15,398.19M262.62,397.52L265.82,394.97M264.93,396.34A72.36,72.36 0 0 1 265.16,396.63M264.93,396.34L266.77,394.9M264.8,396.92A71.9,71.9 0 0 1 264.99,397.17M264.99,397.17L268.39,394.55M259.12,401.33L260.26,400.44M257.32,399.11A64.71,64.71 0 0 1 259.12,401.33M255.04,402.8L258.23,400.21M261.84,400.58L268.07,395.9M266.43,397.13A73.06,73.06 0 0 1 266.78,397.6M266.78,397.6L267.97,396.72M266.19,397.31A72.76,72.76 0 0 1 266.54,397.78M266.54,397.78L268.87,396.06M267.09,396.64A73.89,73.89 0 0 1 267.3,396.91M267.3,396.91L270.83,394.29M267.42,396.39A74.3,74.3 0 0 1 267.83,396.95M267.83,396.95L271.32,394.38M257.84,403.58L261.84,400.58M260.38,403.4L271.65,395.31M266.22,398.2A72.26,72.26 0 0 1 266.7,398.86M266.22,398.2L267.44,397.31M259.51,404.02L260.38,403.4M264.67,402.32L271.54,397.63M268.73,399.55A73.52,73.52 0 0 1 269.33,400.45M269.33,400.45L271.43,399.06M268.69,398.4A74.14,74.14 0 0 1 269.24,399.2M268.69,398.4L271.03,396.76M271.41,397.72A76.78,76.78 0 0 1 271.89,398.42M271.89,398.42L274.57,396.64M260.37,405.25L264.67,402.32M259.51,404.02A63.41,63.41 0 0 1 260.37,405.25M259.05,405.26L259.95,404.63M257.84,403.58A62.32,62.32 0 0 1 259.05,405.26M257.06,405.43L258.45,404.42M255.04,402.8A60.6,60.6 0 0 1 257.06,405.43M253.48,406.08L256.07,404.1M248.46,400.37A57.34,57.34 0 0 1 253.48,406.08M246.44,407.21L251.07,403.14M255.72,410.22L265.89,403.67M261.11,406.75A63.19,63.19 0 0 1 261.36,407.15M261.36,407.15L263.87,405.56M261.97,406.2A64.22,64.22 0 0 1 262.41,406.9M262.41,406.9L264.3,405.71M260.77,405.8A63.43,63.43 0 0 1 261.31,406.63M260.77,405.8L264.07,403.6M263.56,405.17A66.11,66.11 0 0 1 263.88,405.67M263.88,405.67L267.18,403.58M253.79,411.47L255.72,410.22M259.89,409.44L274.05,400.83M269.24,402.94A72.1,72.1 0 0 1 269.6,403.53M269.24,402.94L270.36,402.24M267.24,404.97A69.34,69.34 0 0 1 267.68,405.7M267.68,405.7L270.36,404.11M270.83,402.79A73.53,73.53 0 0 1 271.34,403.65M271.34,403.65L274.24,401.94M257.71,410.77L259.89,409.44M262.19,409.78L272.37,403.92M268.53,405.04A70.41,70.41 0 0 1 269.01,405.85M268.53,405.04L272.21,402.86M269.66,405.47A71.17,71.17 0 0 1 269.84,405.78M269.84,405.78L271.98,404.57M271.94,403.77A73.99,73.99 0 0 1 272.11,404.06M271.94,403.77L273.43,402.9M267.85,406.15A69.26,69.26 0 0 1 268.01,406.43M267.85,406.15L270.56,404.57M258.42,411.95L262.19,409.78M257.71,410.77A58.18,58.18 0 0 1 258.42,411.95M254.89,413.24L258.07,411.36M253.79,411.47A54.49,54.49 0 0 1 254.89,413.24M251.54,414.09L254.35,412.35M246.44,407.21A51.18,51.18 0 0 1 251.54,414.09M248.18,411.25L249.13,410.54M236.02,399.59A50,50 0 0 1 248.18,411.25M240.17,407.43L242.6,404.9" fill="none" stroke="#1f6a9e" stroke-width="0.65"/>
<path d="M222.39,381.93L224.58,372.96M223.9,375.74A67.17,67.17 0 0 1 224.25,375.83M224.25,375.83L224.79,373.7M223.68,373.96A68.85,68.85 0 0 1 224.3,374.11M223.68,373.96L224.45,370.7M220.9,388.04L222.39,381.93M223.27,385.47L226.6,373.37M226.43,374.02A69.47,69.47 0 0 1 227.18,374.23M227.18,374.23L227.56,372.9M225.29,375.44A67.8,67.8 0 0 1 225.98,375.63M225.29,375.44L225.87,373.21M222.46,388.44L223.27,385.47M220.9,388.04A54.51,54.51 0 0 1 222.46,388.44M221.05,390.66L221.68,388.23M225.12,381.89L228.13,371.53M226.47,374.98A68.55,68.55 0 0 1 227.08,375.15M226.47,374.98L227.59,370.97M226.38,375.73A67.81,67.81 0 0 1 226.87,375.87M226.38,375.73L227.57,371.51M226.66,376.58A67.07,67.07 0 0 1 226.97,376.67M226.97,376.67L227.81,373.82M227.41,373.99A69.76,69.76 0 0 1 227.84,374.12M227.84,374.12L228.72,371.17M224.5,384.04L225.12,381.89M227.49,380.18L230.68,370.21M230.17,370.36A74.04,74.04 0 0 1 230.59,370.49M230.17,370.36L230.55,369.16M226.1,384.52L227.49,380.18M224.5,384.04A59.31,59.31 0 0 1 226.1,384.52M224.88,385.64L225.3,384.27M229.83,380.52L233.49,370.37M231.72,375.28A69.87,69.87 0 0 1 232.13,375.43M232.13,375.43L232.65,373.99M228.34,384.64L229.83,380.52M231.18,381.02L234.9,371.39M233.56,372.1A73.49,73.49 0 0 1 234.49,372.45M233.56,372.1L234.44,369.75M234,371.34A74.36,74.36 0 0 1 234.8,371.64M234,371.34L234.48,370.06M232.9,376.57A69.07,69.07 0 0 1 233.22,376.7M233.22,376.7L234.07,374.55M229.6,385.11L231.18,381.02M228.34,384.64A59.92,59.92 0 0 1 229.6,385.11M228.26,386.78L228.97,384.87M224.88,385.64A57.88,57.88 0 0 1 228.26,386.78M224.69,391.75L226.58,386.19M221.05,390.66A52,52 0 0 1 224.69,391.75M221.31,396.45L222.88,391.18" fill="none" stroke="#2a4094" stroke-width="0.65"/>
<path d="M214.06,391.01L216,375.04M214.97,383.5A57.92,57.92 0 0 1 215.61,383.58M215.61,383.58L216.06,380.22M213.78,393.35L214.06,391.01M215.77,384.89L218.3,366.63M217.92,369.36A72.32,72.32 0 0 1 218.39,369.43M218.39,369.43L218.6,367.95M217.3,367.55A74.03,74.03 0 0 1 218.15,367.67M217.3,367.55L217.46,366.25M216.36,376.31A65.23,65.23 0 0 1 216.95,376.38M216.36,376.31L216.52,375.1M215.09,389.76L215.77,384.89M217.42,385.28L218.67,377.9M217.85,380.35A61.44,61.44 0 0 1 218.24,380.41M217.85,380.35L218.49,376.41M218.1,381.24A60.6,60.6 0 0 1 218.67,381.34M218.67,381.34L218.9,380.07M218.16,378.65A63.18,63.18 0 0 1 218.53,378.71M218.16,378.65L218.33,377.58M217.41,379.69A62.03,62.03 0 0 1 218.34,379.84M217.41,379.69L217.6,378.43M217.18,386.67L217.42,385.28M219.69,380.68L222.44,366.46M221.57,370.96A71.34,71.34 0 0 1 221.94,371.04M221.94,371.04L222.79,366.78M218.48,386.9L219.69,380.68M217.18,386.67A55.1,55.1 0 0 1 218.48,386.9M217.23,390.11L217.83,386.78M215.09,389.76A51.73,51.73 0 0 1 217.23,390.11M215.58,393.6L216.16,389.92M213.78,393.35A48,48 0 0 1 215.58,393.6M214.47,394.95L214.68,393.47" fill="none" stroke="#2c4aa6" stroke-width="0.65"/>
<path d="M209.21,383.72L209.35,377.12M208.53,379.4A61.6,61.6 0 0 1 209.3,379.41M208.53,379.4L208.56,375.52M209.11,388.27L209.21,383.72M210.95,384.96L211.28,378.7M210.89,379.09A61.98,61.98 0 0 1 211.26,379.11M210.89,379.09L211,376.62M211.28,378.81A62.28,62.28 0 0 1 212.25,378.87M212.25,378.87L212.42,376.4M210.78,388.33L210.95,384.96M209.11,388.27A52.74,52.74 0 0 1 210.78,388.33M209.75,393.53L209.94,388.3M211.45,391.13L212.34,378.28M212.22,380.06A61.09,61.09 0 0 1 213.01,380.12M213.01,380.12L213.29,376.73M211.28,393.61L211.45,391.13M209.75,393.53A47.5,47.5 0 0 1 211.28,393.61M210.46,394.57L210.52,393.57" fill="none" stroke="#2f2f8e" stroke-width="0.65"/>
<path d="M186.97,391.05L182.39,380.16M184.22,384.51A61.29,61.29 0 0 1 184.6,384.35M184.6,384.35L183.02,380.53M182.68,380.87A65.25,65.25 0 0 1 183.33,380.6M183.33,380.6L182.81,379.33M183.59,384.28A61.75,61.75 0 0 1 184.04,384.09M183.59,384.28L182.44,381.6M187.75,392.91L186.97,391.05M185.45,385.81L182.35,378.23M182.98,379.76A66.16,66.16 0 0 1 183.28,379.63M183.28,379.63L182.63,378.02M183.78,381.72A64.03,64.03 0 0 1 184.52,381.43M184.52,381.43L183.76,379.5M182.28,379.3A66.84,66.84 0 0 1 182.72,379.12M182.28,379.3L180.71,375.52M182.77,379.25A66.71,66.71 0 0 1 183.43,378.98M183.43,378.98L182.93,377.72M186.96,389.52L185.45,385.81M187.53,387.49L181.58,371.95M181.61,375.01A71.07,71.07 0 0 1 182.61,374.62M181.61,375.01L179.96,370.87M183.68,378.61A66.96,66.96 0 0 1 184.07,378.46M183.68,378.61L183.22,377.43M182.74,377.4A68.43,68.43 0 0 1 183.55,377.09M182.74,377.4L181.87,375.21M188.13,389.06L187.53,387.49M186.96,389.52A55.62,55.62 0 0 1 188.13,389.06M188.81,392.48L187.55,389.28M187.75,392.91A52.18,52.18 0 0 1 188.81,392.48M189.63,396L188.28,392.69M188.03,386.34L185.94,380.64M186.2,382.23A62.69,62.69 0 0 1 186.48,382.12M186.2,382.23L185.71,380.91M186.09,381.03A63.85,63.85 0 0 1 186.6,380.85M186.6,380.85L185.31,377.22M189.23,389.64L188.03,386.34M187.53,381.64L182.87,368.11M182.93,370.81A74.54,74.54 0 0 1 183.71,370.53M182.93,370.81L181.51,366.85M182.54,369.72A75.69,75.69 0 0 1 183.33,369.44M182.54,369.72L181.14,365.81M188.98,385.84L187.53,381.64M188.76,378.89L186.85,372.74M187.05,376.26A68.05,68.05 0 0 1 187.86,376M187.05,376.26L186.08,373.27M187.74,375.62A68.45,68.45 0 0 1 188.73,375.32M188.73,375.32L188.39,374.14M187.21,373.91A70.24,70.24 0 0 1 187.58,373.8M187.58,373.8L186.82,371.3M186.29,374.35A70.1,70.1 0 0 1 187.25,374.04M186.29,374.35L185.9,373.17M189.86,382.44L188.76,378.89M190.59,377.51L188.68,370.54M189.53,373.64A69.85,69.85 0 0 1 190.05,373.5M190.05,373.5L189.11,369.97M189.23,372.56A70.96,70.96 0 0 1 190.23,372.3M190.23,372.3L189.84,370.8M189.08,373.95A69.67,69.67 0 0 1 189.57,373.81M189.08,373.95L188.61,372.3M191.79,381.88L190.59,377.51M189.86,382.44A61.3,61.3 0 0 1 191.79,381.88M191.65,384.99L190.82,382.16M188.98,385.84A58.35,58.35 0 0 1 191.65,384.99M191.42,388.89L190.31,385.4M189.23,389.64A54.69,54.69 0 0 1 191.42,388.89M192.29,395.01L190.32,389.25M189.63,396A48.6,48.6 0 0 1 192.29,395.01M191.34,396.52L190.95,395.49M193.97,385.12L189.94,369.08M192.01,377.31A65.67,65.67 0 0 1 192.48,377.19M192.48,377.19L191.8,374.4M195.13,389.76L193.97,385.12M190.63,367.01L189.26,361.17M190,364.34A78.75,78.75 0 0 1 191.09,364.09M191.09,364.09L190.39,360.91M188.92,364.29A79.04,79.04 0 0 1 189.93,364.05M188.92,364.29L188.53,362.74M189.8,363.5A79.6,79.6 0 0 1 190.82,363.27M190.82,363.27L190.3,360.93M191.99,372.82L190.63,367.01M192.26,366.76L190.99,360.78M191.44,362.9A79.84,79.84 0 0 1 192.55,362.67M192.55,362.67L192.16,360.65M190.45,363.98A78.99,78.99 0 0 1 191.62,363.72M190.45,363.98L189.79,361.05M191.37,362.55A80.19,80.19 0 0 1 191.8,362.46M191.8,362.46L191.44,360.71M193.47,372.49L192.26,366.76M191.99,372.82A70.04,70.04 0 0 1 193.47,372.49M193.96,378.17L192.73,372.65M196.42,376.5L194.82,367.61M195.13,369.31A72.84,72.84 0 0 1 195.7,369.2M195.7,369.2L195.49,367.96M196.62,377.63L196.42,376.5M193.96,378.17A64.38,64.38 0 0 1 196.62,377.63M196.4,383.37L195.29,377.88M198.07,379.92L196.55,370.57M196.37,375.89A66.14,66.14 0 0 1 197.38,375.71M196.37,375.89L195.92,373.4M198.56,382.98L198.07,379.92M196.4,383.37A58.79,58.79 0 0 1 198.56,382.98M198.54,389.02L197.48,383.16M195.13,389.76A52.84,52.84 0 0 1 198.54,389.02M197.65,393.12L196.83,389.36M200.51,384.16L199.4,375.74M198.93,376.22A65.41,65.41 0 0 1 199.46,376.15M198.93,376.22L198.54,373.39M199.67,380.13A61.44,61.44 0 0 1 199.98,380.08M199.67,380.13L199.32,377.52M201.28,389.96L200.51,384.16M201.24,380.22L200.24,371.26M200.57,374.24A67.17,67.17 0 0 1 201.04,374.19M201.04,374.19L200.7,370.96M201.71,384.52L201.24,380.22M203.34,379.39L202.39,366.83M202.5,368.32A72.89,72.89 0 0 1 203.22,368.27M203.22,368.27L202.95,364.18M201.73,369.71A71.57,71.57 0 0 1 202.6,369.63M201.73,369.71L201.47,366.77M203.71,384.33L203.34,379.39M201.71,384.52A56.83,56.83 0 0 1 203.71,384.33M202.89,386.32L202.71,384.41M205.26,384.01L204.45,367.09M203.93,370.79A70.33,70.33 0 0 1 204.62,370.75M203.93,370.79L203.68,366.58M204.25,374.4A66.7,66.7 0 0 1 204.8,374.38M204.25,374.4L204.17,372.94M204.11,373.01A68.1,68.1 0 0 1 204.73,372.98M204.11,373.01L204.03,371.56M203.7,370.64A70.49,70.49 0 0 1 204.61,370.59M203.7,370.64L203.64,369.64M205.36,386.14L205.26,384.01M202.89,386.32A54.92,54.92 0 0 1 205.36,386.14M204.37,389.65L204.13,386.22M201.28,389.96A51.48,51.48 0 0 1 204.37,389.65M203.07,392.26L202.82,389.78M197.65,393.12A48.99,48.99 0 0 1 203.07,392.26M200.58,394.08L200.35,392.62M191.34,396.52A47.5,47.5 0 0 1 200.58,394.08M196.15,396.03L195.9,395.07" fill="none" stroke="#3b2f96" stroke-width="0.65"/>
<path d="M180.59,393.97L174.25,383.09M177.45,388.58A60.68,60.68 0 0 1 177.97,388.28M177.97,388.28L176.11,385M182.55,397.32L180.59,393.97M181.77,391.76L178.78,386.15M179.72,387.9A60.16,60.16 0 0 1 180.02,387.74M180.02,387.74L177.97,383.84M184.23,396.38L181.77,391.76M182.55,397.32A50.55,50.55 0 0 1 184.23,396.38M184.63,399.07L183.38,396.85M182.95,389.82L178.32,380.36M180.53,384.87A62.49,62.49 0 0 1 180.92,384.68M180.92,384.68L179.08,380.84M184.4,392.78L182.95,389.82M183.86,389.65L180.62,382.75M181.22,385.64A61.49,61.49 0 0 1 181.84,385.35M181.22,385.64L180.11,383.34M185.16,392.41L183.86,389.65M184.4,392.78A53.69,53.69 0 0 1 185.16,392.41M187.24,397.72L184.78,392.59M184.63,399.07A48,48 0 0 1 187.24,397.72M186.61,399.71L185.92,398.38" fill="none" stroke="#5b2b9a" stroke-width="0.65"/>
<path d="M165.88,410.92L144.73,395.81M151.37,400.56A69.59,69.59 0 0 1 151.79,399.98M151.79,399.98L148.73,397.75M147.19,398.61A74.12,74.12 0 0 1 147.68,397.92M147.19,398.61L144.61,396.81M147.74,399.23A73.32,73.32 0 0 1 148.33,398.39M147.74,399.23L146.86,398.62M146.19,396.86A75.95,75.95 0 0 1 146.89,395.9M146.89,395.9L145.9,395.17M167.46,412.05L165.88,410.92M162.84,408.13L157.14,403.98M158.07,404.65A61.76,61.76 0 0 1 158.39,404.22M158.39,404.22L154.9,401.63M157.5,404.24A62.46,62.46 0 0 1 157.95,403.63M157.95,403.63L156.02,402.19M165.41,410L162.84,408.13M159.43,404.14L147.56,395.13M147.82,396.71A74.72,74.72 0 0 1 148.48,395.83M147.82,396.71L145.85,395.26M163.26,407.05L159.43,404.14M154.37,399.4L145.56,392.56M147.5,394.07A76.57,76.57 0 0 1 148.09,393.32M148.09,393.32L145.4,391.18M147.23,394.48A76.53,76.53 0 0 1 147.53,394.09M147.23,394.48L144.48,392.37M145.23,393.57A78.67,78.67 0 0 1 145.84,392.78M145.23,393.57L144.17,392.78M155.99,400.66L154.37,399.4M153.1,395.38L147.02,390.33M148.47,392.39A76.85,76.85 0 0 1 148.89,391.89M148.47,392.39L146.03,390.4M157.38,398.94L153.1,395.38M155.99,400.66A65.82,65.82 0 0 1 157.38,398.94M160.6,402.94L156.68,399.79M159.78,399.19L153.21,393.49M153.28,394.32A71.92,71.92 0 0 1 153.66,393.88M153.28,394.32L151.42,392.74M155.12,396.13A69.35,69.35 0 0 1 155.6,395.56M155.12,396.13L154.31,395.44M155.01,395.56A69.81,69.81 0 0 1 155.26,395.27M155.01,395.56L152.18,393.14M155,395.53A69.83,69.83 0 0 1 155.25,395.25M155,395.53L153.41,394.17M162.07,401.17L159.78,399.19M160.6,402.94A60.79,60.79 0 0 1 162.07,401.17M164.88,405.02L161.33,402.05M163.26,407.05A56.16,56.16 0 0 1 164.88,405.02M166.78,408.19L164.06,406.02M165.41,410A52.68,52.68 0 0 1 166.78,408.19M168.37,410.82L166.09,409.09M167.46,412.05A49.81,49.81 0 0 1 168.37,410.82M169.37,412.51L167.91,411.43M165.15,402.87L152.2,391.34M159.66,397.98A64.71,64.71 0 0 1 160.1,397.49M160.1,397.49L158.21,395.77M169.04,406.33L165.15,402.87M165.38,401.93L151.04,388.79M159.01,396.1A66.45,66.45 0 0 1 159.4,395.68M159.4,395.68L158.26,394.61M153.81,392.23A72.91,72.91 0 0 1 154.25,391.74M153.81,392.23L150.8,389.52M156.58,393.86A69.76,69.76 0 0 1 156.84,393.58M156.84,393.58L153.97,390.92M168.21,404.53L165.38,401.93M165.96,401.46L150.13,386.58M153.98,390.2A74.16,74.16 0 0 1 154.72,389.42M154.72,389.42L152.84,387.61M168.68,404.02L165.96,401.46M168.21,404.53A53.98,53.98 0 0 1 168.68,404.02M169.78,405.52L168.44,404.27M169.04,406.33A52.15,52.15 0 0 1 169.78,405.52M171.41,407.74L169.41,405.92M159.26,393.16L152.52,386.55M155.38,390.32A73.06,73.06 0 0 1 155.86,389.82M155.38,390.32L154.55,389.52M161.18,395.04L159.26,393.16M158.78,391.46L153.29,385.93M156.47,389.14A73.11,73.11 0 0 1 156.97,388.65M156.97,388.65L155.46,387.1M153.75,387.49A76.2,76.2 0 0 1 154.3,386.95M153.75,387.49L151.04,384.82M160.63,393.32L158.78,391.46M159.38,388.42L155.02,383.7M155.03,383.71A78.02,78.02 0 0 1 155.83,382.98M155.83,382.98L154.51,381.51M156.92,385.76A75.24,75.24 0 0 1 157.74,385.01M157.74,385.01L155.61,382.63M157.33,386.21A74.63,74.63 0 0 1 157.82,385.76M157.82,385.76L156.53,384.33M156.52,386.81A74.74,74.74 0 0 1 157.26,386.12M156.52,386.81L154.97,385.18M162.37,391.66L159.38,388.42M160.63,393.32A67.21,67.21 0 0 1 162.37,391.66M162.6,393.64L161.49,392.48M161.18,395.04A65.61,65.61 0 0 1 162.6,393.64M166.2,398.7L161.88,394.33M167.47,394.79L163.44,390.19M165.09,392.08A65.07,65.07 0 0 1 165.42,391.8M165.42,391.8L162.67,388.63M164.61,391.52A65.81,65.81 0 0 1 164.89,391.28M164.89,391.28L163.79,390.01M164.95,392.8A64.63,64.63 0 0 1 165.39,392.41M164.95,392.8L162.25,389.77M164.24,391.1A66.37,66.37 0 0 1 164.47,390.9M164.47,390.9L162.54,388.68M168.79,396.29L167.47,394.79M166.2,398.7A59.47,59.47 0 0 1 168.79,396.29M170.29,400.5L167.47,397.47M170.5,396.58L163.83,388.68M167.32,393.48A62.55,62.55 0 0 1 167.65,393.2M167.32,393.48L164.88,390.63M166.95,392.37A63.64,63.64 0 0 1 167.41,391.98M167.41,391.98L166.5,390.88M171.31,397.53L170.5,396.58M165.1,387.3L160.8,381.92M162.59,384.16A72.75,72.75 0 0 1 163.09,383.76M163.09,383.76L160.39,380.32M161.21,382.44A74.95,74.95 0 0 1 161.98,381.83M161.98,381.83L160.87,380.4M162.52,385.55A71.72,71.72 0 0 1 163.23,384.97M162.52,385.55L159.79,382.22M168.41,391.45L165.1,387.3M168.22,388.8L164.09,383.38M166.48,386.52A68.5,68.5 0 0 1 166.88,386.21M166.88,386.21L166.02,385.08M166.37,386.37A68.68,68.68 0 0 1 166.76,386.08M166.76,386.08L164.15,382.6M164.59,385.65A70.34,70.34 0 0 1 165.36,385.05M164.59,385.65L162.69,383.23M165.77,385.59A69.67,69.67 0 0 1 166.26,385.22M166.26,385.22L164.33,382.64M169.55,390.55L168.22,388.8M168.41,391.45A63.43,63.43 0 0 1 169.55,390.55M171.74,394.54L168.98,391M166.83,385.76L160.47,377.22M163.95,381.89A73.72,73.72 0 0 1 164.36,381.58M164.36,381.58L162.43,378.95M163.45,381.23A74.55,74.55 0 0 1 164.29,380.61M164.29,380.61L162.15,377.65M162.97,381.98A74.24,74.24 0 0 1 163.64,381.48M162.97,381.98L160.59,378.85M169.37,389.17L166.83,385.76M168.68,384.39L163.99,377.63M164.86,378.89A75.62,75.62 0 0 1 165.19,378.66M165.19,378.66L163.7,376.49M164.94,379.71A74.91,74.91 0 0 1 165.27,379.48M164.94,379.71L163.66,377.9M164.84,380.2A74.56,74.56 0 0 1 165.47,379.76M164.84,380.2L163.65,378.52M171.13,387.91L168.68,384.39M169.37,389.17A64.64,64.64 0 0 1 171.13,387.91M173.57,393.16L170.24,388.53M171.74,394.54A58.94,58.94 0 0 1 173.57,393.16M173.88,395.48L172.65,393.84M171.31,397.53A56.88,56.88 0 0 1 173.88,395.48M173.54,397.7L172.58,396.49M170.29,400.5A55.34,55.34 0 0 1 173.54,397.7M175.73,403.53L171.89,399.07M171.41,407.74A49.45,49.45 0 0 1 175.73,403.53M174.52,406.61L173.51,405.57M169.37,412.51A48,48 0 0 1 174.52,406.61M172.95,410.44L171.82,409.45" fill="none" stroke="#8b3cad" stroke-width="0.65"/>
<path d="M151.74,425.54L144.6,423.58M145.22,424.25A64.98,64.98 0 0 1 145.35,423.78M145.22,424.25L143.2,423.71M148.29,425.04A61.81,61.81 0 0 1 148.4,424.62M148.29,425.04L144.13,423.93M145.29,424.35A64.89,64.89 0 0 1 145.43,423.8M145.29,424.35L144.09,424.03M147.19,424.29A63.06,63.06 0 0 1 147.46,423.35M147.46,423.35L143.5,422.2M152.87,425.85L151.74,425.54M147.11,422.62L141.17,420.82M142.45,421.56A68.37,68.37 0 0 1 142.55,421.24M142.45,421.56L139.27,420.62M143.55,421.54A67.32,67.32 0 0 1 143.79,420.76M143.79,420.76L140.78,419.81M142.31,422.02A68.38,68.38 0 0 1 142.54,421.24M142.31,422.02L138.97,421.06M142.2,421.14A68.73,68.73 0 0 1 142.45,420.33M142.45,420.33L139.45,419.38M153.26,424.48L147.11,422.62M152.87,425.85A57.18,57.18 0 0 1 153.26,424.48M157.25,426.37L153.06,425.16M144.78,418.81L139.12,416.82M141.13,418.46A70.57,70.57 0 0 1 141.42,417.63M141.13,418.46L139.9,418.05M139.6,417.89A72.2,72.2 0 0 1 139.88,417.09M139.6,417.89L138.84,417.63M150.57,420.84L144.78,418.81M146.41,415.66L140.49,413.22M140.27,414.19A72.84,72.84 0 0 1 140.64,413.28M140.27,414.19L140.12,414.13M142.14,415.02A70.8,70.8 0 0 1 142.53,414.06M142.14,415.02L140.09,414.22M151.71,417.84L146.41,415.66M150.57,420.84A60.87,60.87 0 0 1 151.71,417.84M154.52,420.62L151.12,419.33M153.33,416.11L144.52,412.1M146.03,412.79A68.09,68.09 0 0 1 146.47,411.84M146.47,411.84L144,410.67M146.33,412.92A67.76,67.76 0 0 1 146.63,412.26M146.63,412.26L142.69,410.42M148.12,413.74A65.79,65.79 0 0 1 148.39,413.14M148.39,413.14L146.89,412.44M155.91,417.29L153.33,416.11M154.52,420.62A57.23,57.23 0 0 1 155.91,417.29M159.26,420.65L155.19,418.95M157.25,426.37A52.82,52.82 0 0 1 159.26,420.65M159.81,424.05L158.17,423.48M156.49,416.14L148.45,412.26M151.14,413.56A63.14,63.14 0 0 1 151.28,413.26M151.28,413.26L147.49,411.41M152.15,414.04A62.01,62.01 0 0 1 152.4,413.54M152.4,413.54L150.13,412.42M161.99,418.8L156.49,416.14M159.81,424.05A51.08,51.08 0 0 1 161.99,418.8M163.68,422.58L160.83,421.39M157.41,414.93L149.84,411.03M153.91,413.13A60.85,60.85 0 0 1 154.21,412.55M154.21,412.55L151.68,411.21M151.38,412.17A63.54,63.54 0 0 1 151.52,411.9M151.38,412.17L147.79,410.34M153.92,413.13A60.84,60.84 0 0 1 154.14,412.72M154.14,412.72L150.37,410.74M162.9,417.76L157.41,414.93M158.36,414.48L150.61,410.34M151.83,411A63.68,63.68 0 0 1 152.25,410.24M152.25,410.24L150.43,409.23M152.67,412.48A62.25,62.25 0 0 1 153.1,411.67M152.67,412.48L151.32,411.78M150.67,410.37A65,65 0 0 1 151,409.77M151,409.77L149.87,409.15M153.28,411.77A62.04,62.04 0 0 1 153.58,411.21M153.58,411.21L151.75,410.2M161.3,416.05L158.36,414.48M156.47,411.95L149.14,407.81M152.46,409.69A63.76,63.76 0 0 1 152.75,409.18M152.75,409.18L151.16,408.26M161.88,415L156.47,411.95M161.3,416.05A52.95,52.95 0 0 1 161.88,415M163.53,416.59L161.59,415.52M162.9,417.76A50.73,50.73 0 0 1 163.53,416.59M165.62,418.46L163.21,417.17M163.68,422.58A48,48 0 0 1 165.62,418.46M165.96,421.13L164.6,420.49" fill="none" stroke="#9a2b9e" stroke-width="0.65"/>
<path d="M153.16,475.84L141.14,483.47M148.58,479.97A71.06,71.06 0 0 1 148.02,479.1M148.58,479.97L145.8,481.79M148.34,479.67A71.1,71.1 0 0 1 147.99,479.12M148.34,479.67L145.76,481.35M146.85,479.85A72.45,72.45 0 0 1 146.57,479.42M146.57,479.42L144.18,480.92M147.41,480.3A72.22,72.22 0 0 1 147.04,479.72M147.41,480.3L143.93,482.55M156.86,473.49L153.16,475.84M152.92,474.17L145.98,478.35M146.9,478.61A71.75,71.75 0 0 1 146.54,478.01M146.9,478.61L145.17,479.68M146.36,478.79A72.3,72.3 0 0 1 146.06,478.3M146.36,478.79L143.01,480.85M156.09,472.26L152.92,474.17M156.86,473.49A60.59,60.59 0 0 1 156.09,472.26M158.3,471.74L156.47,472.87M152.13,473.38L145.96,476.96M147.22,476.22A70.25,70.25 0 0 1 146.92,475.7M146.92,475.7L144.47,477.09M147.21,476.93A70.61,70.61 0 0 1 146.91,476.41M147.21,476.93L143.79,478.95M148.56,476.17A69.06,69.06 0 0 1 148.25,475.63M148.56,476.17L146.44,477.43M157.44,470.3L152.13,473.38M158.3,471.74A58.44,58.44 0 0 1 157.44,470.3M160.93,469.19L157.87,471.02M152.93,472.29L136.46,481.65M138.9,480.26A79.48,79.48 0 0 1 138.46,479.48M138.46,479.48L135.37,481.19M142.11,478.44A75.78,75.78 0 0 1 141.87,478.01M141.87,478.01L140.65,478.69M146.52,477.18A71.33,71.33 0 0 1 145.98,476.24M146.52,477.18L144.61,478.3M142.55,478.85A75.61,75.61 0 0 1 142.26,478.35M142.55,478.85L140.19,480.21M155.43,470.87L152.93,472.29M148.44,473.53L137.81,479.33M139.31,478.51A78.26,78.26 0 0 1 139.08,478.08M139.08,478.08L136.99,479.21M138.2,479.8A79.86,79.86 0 0 1 137.92,479.27M138.2,479.8L134.57,481.81M144.5,476.8A72.9,72.9 0 0 1 144.02,475.94M144.5,476.8L143.3,477.47M139.76,479.18A78.19,78.19 0 0 1 139.37,478.48M139.76,479.18L137.13,480.64M150.78,472.25L148.44,473.53M145.18,471.99L132.24,478.38M133.14,479.07A83.99,83.99 0 0 1 132.68,478.16M133.14,479.07L131.89,479.71M136.35,477.42A80.37,80.37 0 0 1 135.92,476.56M136.35,477.42L133.3,478.97M132.67,478.92A84.34,84.34 0 0 1 132.37,478.32M132.67,478.92L131.18,479.67M149.53,469.85L145.18,471.99M150.78,472.25A65.2,65.2 0 0 1 149.53,469.85M152.63,469.76L150.14,471.06M148.41,468.36L135.02,474.51M141.1,472.64A74,74 0 0 1 140.75,471.88M141.1,472.64L139.18,473.55M141.18,472.34A73.81,73.81 0 0 1 140.92,471.8M141.18,472.34L138.19,473.74M139.61,473.29A75.63,75.63 0 0 1 139.27,472.56M139.61,473.29L137.88,474.11M142.62,471.47A72.13,72.13 0 0 1 142.45,471.1M142.62,471.47L139.81,472.77M151.3,467.04L148.41,468.36M152.63,469.76A62.4,62.4 0 0 1 151.3,467.04M153.69,467.56L151.95,468.41M155.43,470.87A60.46,60.46 0 0 1 153.69,467.56M159.49,466.61L154.53,469.23M160.93,469.19A54.86,54.86 0 0 1 159.49,466.61M161.21,467.34L160.19,467.91M137.82,470.81L131.09,473.67M132.6,473.03A81.92,81.92 0 0 1 132.25,472.19M132.25,472.19L131.16,472.64M134.69,472.15A79.65,79.65 0 0 1 134.4,471.45M134.4,471.45L130.53,473.05M139.4,470.14L137.82,470.81M135.75,470.28L128.77,473.11M130.92,473.44A83.63,83.63 0 0 1 130.49,472.41M130.92,473.44L128.73,474.36M138.93,468.99L135.75,470.28M139.4,470.14A74.53,74.53 0 0 1 138.93,468.99M143.28,467.86L139.16,469.57M140.24,466.29L131.49,469.55M135.34,468.69A77.76,77.76 0 0 1 135.15,468.19M135.34,468.69L132.42,469.81M131.96,469.38A81.16,81.16 0 0 1 131.65,468.52M131.65,468.52L128.56,469.63M133.44,468.82A79.58,79.58 0 0 1 133.19,468.15M133.19,468.15L130.01,469.31M134.71,468.35A78.23,78.23 0 0 1 134.58,468M134.58,468L132.46,468.78M142.35,465.5L140.24,466.29M143.28,467.86A70.07,70.07 0 0 1 142.35,465.5M146.68,465.16L142.81,466.68M132.45,467.3L126.78,469.27M129.9,469.38A83.1,83.1 0 0 1 129.52,468.32M129.9,469.38L127.17,470.37M136.05,466.05L132.45,467.3M132.27,463.47L125.9,465.36M128.43,464.61A83,83 0 0 1 128.22,463.91M128.22,463.91L125.34,464.74M134.96,462.67L132.27,463.47M136.05,466.05A76.19,76.19 0 0 1 134.96,462.67M140.72,462.68L135.49,464.37M138.11,458.6L131.17,460.35M131.62,460.24A78.76,78.76 0 0 1 131.35,459.1M131.35,459.1L127.52,460M133.74,459.7A76.57,76.57 0 0 1 133.54,458.87M133.54,458.87L129.17,459.92M139.46,458.26L138.11,458.6M140.72,462.68A70.68,70.68 0 0 1 139.46,458.26M144.65,459.16L140.06,460.48M146.68,465.16A65.91,65.91 0 0 1 144.65,459.16M151.11,460.31L145.59,462.18M147.93,454.36L124.5,459.58M135.03,458.2A74.97,74.97 0 0 1 134.82,457.28M135.03,458.2L132.04,458.91M135.65,457.95A74.31,74.31 0 0 1 135.46,457.14M135.65,457.95L132.66,458.65M136.56,457.39A73.29,73.29 0 0 1 136.46,456.92M136.56,457.39L135.43,457.65M149.36,454.05L147.93,454.36M151.11,460.31A60.08,60.08 0 0 1 149.36,454.05M156.29,455.48L150.15,457.2M161.21,467.34A53.7,53.7 0 0 1 156.29,455.48M162.73,459.76L158.39,461.56M154.21,451.05L146.74,452.44M148.7,452.08A60.33,60.33 0 0 1 148.55,451.26M148.55,451.26L147.17,451.5M155.42,450.82L154.21,451.05M146.07,451.36L136.13,453.02M141.57,453.01A67.51,67.51 0 0 1 141.41,452.14M141.57,453.01L138.96,453.48M140.58,452.87A68.46,68.46 0 0 1 140.48,452.3M140.58,452.87L138,453.32M141.02,453.28A68.09,68.09 0 0 1 140.84,452.24M141.02,453.28L139.43,453.57M149.56,450.78L146.07,451.36M147.23,449.36L134.14,451.16M142.01,451.04A66.75,66.75 0 0 1 141.87,450.1M142.01,451.04L139.36,451.45M141.92,450.4A66.74,66.74 0 0 1 141.88,450.1M141.92,450.4L137.69,451M140.85,450.84A67.86,67.86 0 0 1 140.77,450.25M140.85,450.84L139.26,451.07M137.78,450.66A70.88,70.88 0 0 1 137.66,449.8M137.66,449.8L135.97,450.02M149.3,449.08L147.23,449.36M149.56,450.78A59.26,59.26 0 0 1 149.3,449.08M155.12,449.06L149.42,449.93M155.42,450.82A53.49,53.49 0 0 1 155.12,449.06M158.7,449.36L155.26,449.94M136.7,449.27L129.75,450.08M132.85,449.72A75.65,75.65 0 0 1 132.75,448.73M132.75,448.73L128.77,449.14M129.98,450.05A78.55,78.55 0 0 1 129.85,448.89M129.85,448.89L125.62,449.32M142.66,448.58L136.7,449.27M133.25,447.13L124.08,447.88M125.69,447.75A82.58,82.58 0 0 1 125.63,446.99M125.63,446.99L123.7,447.13M127.35,448.31A80.98,80.98 0 0 1 127.29,447.62M127.35,448.31L126.33,448.4M138.86,446.67L133.25,447.13M135.15,444.7L122.44,445.35M122.45,445.35A85.66,85.66 0 0 1 122.4,444.21M122.4,444.21L122.06,444.22M138.71,444.52L135.15,444.7M138.86,446.67A69.38,69.38 0 0 1 138.71,444.52M142.36,445.36L138.78,445.6M142.66,448.58A65.78,65.78 0 0 1 142.36,445.36M148.68,446.41L142.49,446.97M131.85,443.38L125.58,443.57M127.75,444.19A80.31,80.31 0 0 1 127.73,443.51M127.75,444.19L126.07,444.26M125.71,443.57A82.33,82.33 0 0 1 125.68,442.49M125.68,442.49L122.01,442.55M129.05,443.46A78.99,78.99 0 0 1 129.04,443.05M129.04,443.05L127.79,443.08M138.08,443.18L131.85,443.38M131.99,440.26L123.58,440.18M124.96,440.2A83.04,83.04 0 0 1 124.98,439.14M124.98,439.14L122.5,439.09M126.71,440.93A81.29,81.29 0 0 1 126.71,440.21M126.71,440.93L124.18,440.93M124.59,440.19A83.41,83.41 0 0 1 124.61,439.23M124.61,439.23L122.87,439.19M138.05,440.32L131.99,440.26M138.08,443.18A69.95,69.95 0 0 1 138.05,440.32M142.27,441.71L138.05,441.75M136.26,437.83L123.5,437.27M126.5,437.4A81.58,81.58 0 0 1 126.53,436.79M126.53,436.79L123.75,436.64M129.93,437.55A78.15,78.15 0 0 1 129.96,436.86M129.96,436.86L126.67,436.69M124.47,438.53A83.57,83.57 0 0 1 124.51,437.31M124.47,438.53L122.12,438.46M126.87,437.41A81.21,81.21 0 0 1 126.91,436.55M126.91,436.55L124.02,436.39M138.15,437.91L136.26,437.83M134.62,434.73L125.84,433.98M127.73,434.14A80.57,80.57 0 0 1 127.79,433.49M127.79,433.49L124.59,433.19M138.34,435.05L134.62,434.73M138.15,437.91A69.92,69.92 0 0 1 138.34,435.05M142.4,436.75L138.23,436.48M142.27,441.71A65.74,65.74 0 0 1 142.4,436.75M148.45,439.39L142.29,439.23M148.68,446.41A59.57,59.57 0 0 1 148.45,439.39M153.44,442.74L148.46,442.9M146.87,433.94L124.64,431.38M130.48,432.05A78.03,78.03 0 0 1 130.59,431.13M130.59,431.13L128.74,430.89M125.62,431.99A82.87,82.87 0 0 1 125.67,431.5M125.62,431.99L123.72,431.78M149.76,434.28L146.87,433.94M146.3,432.21L136.17,430.77M139.64,431.98A68.96,68.96 0 0 1 139.73,431.28M139.64,431.98L138.04,431.77M137.46,430.95A71.25,71.25 0 0 1 137.58,430.17M137.58,430.17L135.57,429.86M149.96,432.73L146.3,432.21M149.76,434.28A58.63,58.63 0 0 1 149.96,432.73M153.86,434.02L149.86,433.5M153.44,442.74A54.58,54.58 0 0 1 153.86,434.02M158.05,438.59L153.48,438.37M158.7,449.36A50.01,50.01 0 0 1 158.05,438.59M159.09,443.93L158.08,443.99M162.73,459.76A49,49 0 0 1 159.09,443.93M162.69,451.44L160.25,452" fill="none" stroke="#a0183e" stroke-width="0.65"/>
<path d="M165.77,477L160.82,481.22M163.76,479.44A58.61,58.61 0 0 1 163.4,479.02M163.76,479.44L162.6,480.45M170.71,472.79L165.77,477M168.21,472.08L159.47,478.9M164.81,475.6A55.34,55.34 0 0 1 164.38,475.07M164.81,475.6L161.89,477.94M161.31,478.18A59.68,59.68 0 0 1 160.96,477.74M161.31,478.18L159.5,479.62M169.38,471.16L168.21,472.08M170.71,472.79A49,49 0 0 1 169.38,471.16M171.98,470.4L170.04,471.98" fill="none" stroke="#9a3322" stroke-width="0.65"/>
<path d="M205.26,502.11L204.91,509.97M205.03,507.37A66.44,66.44 0 0 1 204.32,507.34M204.32,507.34L204.25,508.63M205.31,500.96L205.26,502.11M202.7,508.79L202.24,514.78M202.86,513.3A72.48,72.48 0 0 1 202.36,513.26M202.86,513.3L202.75,514.81M202.33,513.61A72.83,72.83 0 0 1 201.2,513.51M201.2,513.51L201.09,514.68M202.91,513.19A72.37,72.37 0 0 1 202.36,513.15M202.91,513.19L202.8,514.82M203.01,504.88L202.7,508.79M200.16,508.55L199.47,514.51M199.81,511.61A71.09,71.09 0 0 1 199.46,511.57M199.46,511.57L199.11,514.46M200.68,513.11A72.48,72.48 0 0 1 199.65,513M200.68,513.11L200.57,514.15M200.18,512.1A71.53,71.53 0 0 1 199.76,512.05M200.18,512.1L199.94,514.26M200.61,504.65L200.16,508.55M203.01,504.88A64.07,64.07 0 0 1 200.61,504.65M202.2,500.74L201.81,504.77M205.31,500.96A60.02,60.02 0 0 1 202.2,500.74M203.95,498.18L203.76,500.87M199.62,503.03L198.53,511.1M199.03,507.44A67.04,67.04 0 0 1 198.51,507.37M198.51,507.37L198.3,508.81M199.05,507.28A66.88,66.88 0 0 1 198.46,507.19M198.46,507.19L198.25,508.68M200.33,497.81L199.62,503.03M203.95,498.18A57.33,57.33 0 0 1 200.33,497.81M202.65,493.06L202.13,498.03M197.74,500.42L196.69,506.47M196.85,505.57A65.52,65.52 0 0 1 196.32,505.47M196.32,505.47L195.91,507.73M196.72,506.32A66.28,66.28 0 0 1 196.41,506.26M196.41,506.26L196.04,508.31M197.04,504.44A64.37,64.37 0 0 1 196.14,504.27M196.14,504.27L195.89,505.61M197.82,502.99A62.82,62.82 0 0 1 197.31,502.9M197.82,502.99L197.4,505.54M198.1,498.3L197.74,500.42M196.27,502.6L194.8,510.37M194.88,509.94A70.17,70.17 0 0 1 193.94,509.75M193.94,509.75L193.18,513.5M196.1,506.59A66.66,66.66 0 0 1 195.53,506.48M196.1,506.59L195.71,508.77M196.1,505.88A65.96,65.96 0 0 1 195.67,505.8M196.1,505.88L195.87,507.17M196.32,507.07A67.1,67.1 0 0 1 195.45,506.91M196.32,507.07L195.81,509.97M197.13,498.13L196.27,502.6M198.1,498.3A58.15,58.15 0 0 1 197.13,498.13M197.88,496.75L197.61,498.22M195.06,501.98L192.71,513.05M193.49,509.36A69.89,69.89 0 0 1 192.42,509.13M192.42,509.13L191.51,513.14M196.24,496.42L195.06,501.98M197.88,496.75A56.66,56.66 0 0 1 196.24,496.42M197.89,492.35L197.06,496.59M202.65,493.06A52.33,52.33 0 0 1 197.89,492.35M200.62,490.35L200.26,492.76M192.18,507.14L190.79,512.97M191.74,513.17A73.98,73.98 0 0 1 190.79,512.95M191.74,513.17L191.73,513.19M191.18,511.33A72.32,72.32 0 0 1 190.7,511.22M190.7,511.22L190.3,512.85M193.03,503.6L192.18,507.14M189.4,506.41L187.76,512.18M188.84,511.04A72.61,72.61 0 0 1 188.14,510.85M188.84,511.04L188.47,512.38M188.87,511.67A73.22,73.22 0 0 1 187.98,511.43M188.87,511.67L188.66,512.43M188.27,510.42A72.17,72.17 0 0 1 187.75,510.27M187.75,510.27L187.24,512.03M186.85,505.63L184.98,511.33M185.58,509.49A72.07,72.07 0 0 1 185.01,509.31M185.01,509.31L184.51,510.79M185.4,510.06A72.67,72.67 0 0 1 184.55,509.78M184.55,509.78L184.12,511.04M186.61,508.99A71.28,71.28 0 0 1 185.83,508.74M186.61,508.99L185.79,511.59M185.02,511.21A73.88,73.88 0 0 1 184.35,510.99M184.35,510.99L184.31,511.11M189.4,506.41A68,68 0 0 1 186.85,505.63M189.19,502.55L188.12,506.03M193.03,503.6A64.36,64.36 0 0 1 189.19,502.55M192.07,499.53L191.1,503.1M185.51,505.17L183.52,510.84M185.09,508.37A71.16,71.16 0 0 1 184.46,508.15M185.09,508.37L184.25,510.85M185.14,508.27A71.05,71.05 0 0 1 184.5,508.05M185.14,508.27L184.8,509.25M184.38,508.39A71.41,71.41 0 0 1 183.55,508.09M183.55,508.09L182.69,510.46M185.3,508A70.75,70.75 0 0 1 184.6,507.76M185.3,508L184.36,510.76M186.22,503.15L185.51,505.17M182.79,504.16L180.57,509.73M181.32,507.84A71.97,71.97 0 0 1 180.85,507.65M180.85,507.65L180.08,509.53M181.1,503.45L178.73,508.96M179.64,506.84A71.69,71.69 0 0 1 179.16,506.63M179.16,506.63L178.76,507.55M182.79,504.16A68,68 0 0 1 181.1,503.45M182.77,501.83L181.94,503.81M186.22,503.15A65.85,65.85 0 0 1 182.77,501.83M186.34,497.66L184.48,502.51M192.07,499.53A60.66,60.66 0 0 1 186.34,497.66M190.7,494.03L189.18,498.67M181.47,497.99L177.11,507.36M177.86,507.18A72.72,72.72 0 0 1 177.31,506.92M177.86,507.18L177.33,508.35M179.16,505.22A70.4,70.4 0 0 1 178.29,504.82M179.16,505.22L178.52,506.63M182.59,495.59L181.47,497.99M177.9,501.98L175.25,507.36M176.51,507.02A73.15,73.15 0 0 1 175.63,506.59M176.51,507.02L176.14,507.79M176.53,504.75A71.09,71.09 0 0 1 175.8,504.38M175.8,504.38L174.48,506.97M178.63,500.51L177.9,501.98M175.94,500.97L173.11,506.26M174.25,506.01A73.24,73.24 0 0 1 173.46,505.59M174.25,506.01L173.91,506.68M174.35,505.11A72.4,72.4 0 0 1 173.86,504.85M174.35,505.11L173.61,506.52M173.61,505.32A72.94,72.94 0 0 1 172.85,504.91M172.85,504.91L172.34,505.84M175.06,504.35A71.4,71.4 0 0 1 174.33,503.97M175.06,504.35L173.95,506.49M176.71,499.52L175.94,500.97M178.63,500.51A66.36,66.36 0 0 1 176.71,499.52M178.94,497.54L177.66,500.02M176.36,497.91L173.01,503.94M175.07,501.06A68.5,68.5 0 0 1 174.72,500.87M175.07,501.06L174.27,502.52M177.11,496.56L176.36,497.91M178.94,497.54A63.57,63.57 0 0 1 177.11,496.56M179.6,494.1L178.02,497.06M182.59,495.59A60.22,60.22 0 0 1 179.6,494.1M183.07,490.9L181.08,494.87M190.7,494.03A55.78,55.78 0 0 1 183.07,490.9M189.06,487.17L186.82,492.61M200.62,490.35A49.9,49.9 0 0 1 189.06,487.17M196.04,484.38L194.74,489.11M182.24,484.72L172.08,501.97M175.54,497.46A65.12,65.12 0 0 1 174.94,497.11M175.54,497.46L173.65,500.74M183.77,482.13L182.24,484.72M171.63,498.45L168.42,503.52M170.92,501.54A70.99,70.99 0 0 1 170.03,500.98M170.92,501.54L169.35,504.1M169.42,502.62A72.7,72.7 0 0 1 169.11,502.43M169.42,502.62L168.73,503.72M168.93,502.71A73.04,73.04 0 0 1 168.31,502.31M168.31,502.31L167.79,503.12M170.13,500.82A70.8,70.8 0 0 1 169.74,500.57M169.74,500.57L168.01,503.26M173.24,495.91L171.63,498.45M170.53,497.75L167.22,502.75M168.05,501.5A72.49,72.49 0 0 1 167.16,500.9M167.16,500.9L166.31,502.14M167.98,501.6A72.62,72.62 0 0 1 167.19,501.07M167.19,501.07L166.42,502.21M172.19,495.24L170.53,497.75M173.24,495.91A64.99,64.99 0 0 1 172.19,495.24M175.74,490.89L172.71,495.58M168.82,496.58L165.37,501.48M165.94,500.67A73,73 0 0 1 165.41,500.29M165.41,500.29L164.83,501.1M171.97,492.11L168.82,496.58M167.04,495.28L163.43,500.07M165.92,498.06A70.9,70.9 0 0 1 165.3,497.6M165.92,498.06L164.64,499.81M168.77,493L167.04,495.28M166.14,493.28L162.37,497.99M164.46,496.93A70.88,70.88 0 0 1 163.7,496.33M164.46,496.93L163.79,497.79M167.29,491.85L166.14,493.28M168.77,493A65.14,65.14 0 0 1 167.29,491.85M169.62,490.37L168.02,492.43M171.97,492.11A62.53,62.53 0 0 1 169.62,490.37M172.65,488.74L170.79,491.25M175.74,490.89A59.41,59.41 0 0 1 172.65,488.74M177.67,484.79L174.18,489.84M167.11,487.78L162.16,493.44M165.1,490.66A65.63,65.63 0 0 1 164.81,490.41M165.1,490.66L163.79,492.18M163.93,492.22A67.57,67.57 0 0 1 163.53,491.87M163.93,492.22L161.15,495.46M163.44,491.98A67.71,67.71 0 0 1 163.16,491.74M163.16,491.74L160.87,494.33M163.45,491.97A67.69,67.69 0 0 1 163.07,491.63M163.07,491.63L162.26,492.54M171.18,483.13L167.11,487.78M167.9,484.51L161.52,491.44M162.67,490.19A66.89,66.89 0 0 1 161.91,489.49M161.91,489.49L159.14,492.41M161.94,490.99A67.98,67.98 0 0 1 161.67,490.74M161.67,490.74L158.99,493.62M165.2,487.45A63.16,63.16 0 0 1 164.54,486.83M164.54,486.83L162.99,488.47M162.34,490.55A67.38,67.38 0 0 1 161.83,490.08M161.83,490.08L160.68,491.3M170.08,482.15L167.9,484.51M171.18,483.13A55.95,55.95 0 0 1 170.08,482.15M172.42,480.64L170.63,482.64M177.67,484.79A53.27,53.27 0 0 1 172.42,480.64M178.41,478.46L174.98,482.8M183.77,482.13A47.74,47.74 0 0 1 178.41,478.46M182.57,478.13L181.02,480.39M196.04,484.38A45,45 0 0 1 182.57,478.13M188.42,483.18L189.05,481.81" fill="none" stroke="#9a6a2b" stroke-width="0.65"/>
<path d="M255.22,489.86L261.63,496.5M262.26,495.58A76.97,76.97 0 0 1 261.49,496.34M262.26,495.58L263.39,496.72M262.05,495.5A76.75,76.75 0 0 1 261.34,496.19M262.05,495.5L263.26,496.72M251.07,485.56L255.22,489.86M253.22,490.15L261.97,499.66M258.1,494.32A73.16,73.16 0 0 1 257.54,494.84M258.1,494.32L260.46,496.83M258.5,495.89A74.59,74.59 0 0 1 257.88,496.46M257.88,496.46L259.77,498.56M257.98,495.32A73.82,73.82 0 0 1 257.25,495.98M257.25,495.98L258.6,497.48M249.96,486.61L253.22,490.15M251.07,485.56A61.97,61.97 0 0 1 249.96,486.61M246.9,482.26L250.52,486.09M245.58,485.3L255.03,496.44M252.55,493.52A68.87,68.87 0 0 1 252.09,493.91M252.09,493.91L252.99,494.99M250.19,489.23A64.08,64.08 0 0 1 249.45,489.87M250.19,489.23L251.02,490.17M244.68,484.24L245.58,485.3M246.9,482.26A56.71,56.71 0 0 1 244.68,484.24M243.5,480.69L245.81,483.27M243.26,485.17L253.02,497.39M248.1,490.01A63.32,63.32 0 0 1 247.51,490.49M248.1,490.01L250.77,493.26M241.22,482.62L243.26,485.17M243.5,480.69A53.26,53.26 0 0 1 241.22,482.62M241.26,480.35L242.38,481.67M245.74,490.12L254.86,502M250.59,496.43A69.9,69.9 0 0 1 249.8,497.02M249.8,497.02L252.48,500.61M251.92,498.17A72.09,72.09 0 0 1 251.05,498.83M251.05,498.83L252.62,500.95M242.78,486.27L245.74,490.12M244.17,491.36L251.43,501.47M250.11,499.64A72.2,72.2 0 0 1 249.54,500.05M249.54,500.05L250.37,501.22M248.38,495.95A68.19,68.19 0 0 1 247.78,496.39M248.38,495.95L250.62,499M251.41,500.08A73.31,73.31 0 0 1 250.77,500.55M251.41,500.08L252.68,501.82M248.67,497.63A69.73,69.73 0 0 1 247.84,498.22M247.84,498.22L249.66,500.83M241.3,487.37L244.17,491.36M242.78,486.27A57.09,57.09 0 0 1 241.3,487.37M238.73,482.36L242.05,486.83M241.26,480.35A51.52,51.52 0 0 1 238.73,482.36M239.27,480.44L240.01,481.37M240.88,488.48L244.64,493.92M243.92,492.88A63.1,63.1 0 0 1 243.22,493.36M243.22,493.36L244.92,495.9M244.25,493.35A63.67,63.67 0 0 1 243.89,493.6M243.89,493.6L245.94,496.6M244.73,493.26A63.88,63.88 0 0 1 244.36,493.51M244.73,493.26L246.32,495.53M243.09,491.67A61.63,61.63 0 0 1 242.38,492.15M242.38,492.15L244.46,495.25M239,485.76L240.88,488.48M242.02,490.97L250.6,503.57M249.12,501.4A73.06,73.06 0 0 1 248.65,501.71M248.65,501.71L249.29,502.67M248.5,499.56A71.2,71.2 0 0 1 248.07,499.86M248.5,499.56L249.42,500.9M240.48,488.71L242.02,490.97M243.7,496.34L247.71,502.55M248.29,501.86A72.98,72.98 0 0 1 247.57,502.33M248.29,501.86L249.17,503.19M242.92,495.12L243.7,496.34M243,498.15L249.29,508.42M247.5,504.33A74.63,74.63 0 0 1 246.98,504.65M247.5,504.33L249.04,506.8M246.98,503.3A73.5,73.5 0 0 1 246.38,503.68M246.98,503.3L248.41,505.58M246.26,501.92A71.94,71.94 0 0 1 245.57,502.35M246.26,501.92L246.87,502.89M248.84,506.07A76.82,76.82 0 0 1 248.12,506.52M248.84,506.07L250.53,508.76M241.63,495.93L243,498.15M242.92,495.12A64.41,64.41 0 0 1 241.63,495.93M240.82,493.21L242.28,495.53M242.2,499.09L246.8,506.91M244.71,502.22A71.38,71.38 0 0 1 244.22,502.51M244.71,502.22L245.74,503.95M239.29,494.14L242.2,499.09M240.82,493.21A61.67,61.67 0 0 1 239.29,494.14M238,490.3L240.06,493.68M240.48,488.71A57.72,57.72 0 0 1 238,490.3M237.48,486.78L239.25,489.52M239,485.76A54.45,54.45 0 0 1 237.48,486.78M235.95,482.85L238.24,486.28M239.27,480.44A50.33,50.33 0 0 1 235.95,482.85M233.91,476.56L237.63,481.68M238.74,496.99L244.09,506.75M242.87,503.64A71.69,71.69 0 0 1 242.5,503.84M242.87,503.64L243.58,504.93M242.62,502.48A70.56,70.56 0 0 1 241.95,502.85M242.62,502.48L244.22,505.32M243.51,505.69A73.8,73.8 0 0 1 242.53,506.22M242.53,506.22L244.56,510.06M235.63,491.32L238.74,496.99M238.26,499.71L242.51,507.94M240.97,504.95A71.95,71.95 0 0 1 240.16,505.36M240.16,505.36L241.48,508M235.57,494.49L238.26,499.71M236.86,500.27L239.59,505.88M239.34,503.29A69.73,69.73 0 0 1 238.53,503.69M239.34,503.29L240.57,505.73M234.35,495.11L236.86,500.27M235.57,494.49A60.18,60.18 0 0 1 234.35,495.11M233.72,492.32L234.96,494.8M235.63,491.32A57.41,57.41 0 0 1 233.72,492.32M231.85,486.45L234.68,491.83M231.76,494.51L236.6,505.39M236.64,503.68A68.92,68.92 0 0 1 235.97,503.99M236.64,503.68L237.43,505.42M235.95,503.93A68.86,68.86 0 0 1 235.6,504.09M235.6,504.09L236.88,507.02M233.83,499.16A63.64,63.64 0 0 1 233,499.52M233,499.52L234.03,501.95M235.04,500.29A65.17,65.17 0 0 1 234.45,500.56M235.04,500.29L235.74,501.83M229.27,488.88L231.76,494.51M231.34,498.26L234.98,507.19M233.73,501.69A65.92,65.92 0 0 1 232.89,502.04M233.73,501.69L234.4,503.28M229.28,493.21L231.34,498.26M231.8,503.66L236.33,515.57M235.4,513.13A77.16,77.16 0 0 1 234.58,513.43M234.58,513.43L235.48,515.87M234.72,511.34A75.24,75.24 0 0 1 233.73,511.71M233.73,511.71L234.15,512.85M236.83,514.17A78.64,78.64 0 0 1 235.93,514.51M236.83,514.17L237.33,515.43M230.1,499.18L231.8,503.66M230.54,505.23L233.21,512.82M233.1,512.5A75.77,75.77 0 0 1 232.35,512.75M232.35,512.75L233.51,516.18M228.61,499.72L230.54,505.23M230.1,499.18A62.23,62.23 0 0 1 228.61,499.72M227.35,493.96L229.36,499.46M229.28,493.21A56.38,56.38 0 0 1 227.35,493.96M226.88,489.87L228.32,493.59M229.27,488.88A52.39,52.39 0 0 1 226.88,489.87M227.67,488.41L228.08,489.39M231.85,486.45A51.33,51.33 0 0 1 227.67,488.41M227.3,482.18L229.78,487.48M226.71,498.76L229.82,508.35M230.43,507.37A70.06,70.06 0 0 1 229.59,507.65M230.43,507.37L231.32,509.98M230.39,506.78A69.48,69.48 0 0 1 229.42,507.1M230.39,506.78L231.61,510.38M229.81,508.33A70.77,70.77 0 0 1 229.5,508.43M229.5,508.43L230.37,511.14M225.78,495.87L226.71,498.76M225.61,501.7L229.73,515.91M228.04,510.07A71.92,71.92 0 0 1 227.02,510.36M227.02,510.36L227.94,513.71M228.4,507.68A69.73,69.73 0 0 1 227.43,507.97M228.4,507.68L229.68,511.86M229.06,510.01A72.15,72.15 0 0 1 228.1,510.29M229.06,510.01L229.46,511.32M224.07,496.39L225.61,501.7M225.78,495.87A57.67,57.67 0 0 1 224.07,496.39M223.89,492.76L224.92,496.13M221.07,494.99L226.78,518.54M225.21,512.07A73.12,73.12 0 0 1 224.84,512.15M224.84,512.15L225.75,516M220.74,493.63L221.07,494.99M223.89,492.76A54.15,54.15 0 0 1 220.74,493.63M220.63,487.06L222.32,493.22M221.75,501.42L223.23,507.91M222.43,504.37A64.99,64.99 0 0 1 221.65,504.55M221.65,504.55L222.46,508.35M223.11,504.92A65.68,65.68 0 0 1 222.58,505.04M223.11,504.92L223.59,506.95M223.45,504.57A65.42,65.42 0 0 1 222.52,504.79M223.45,504.57L224.24,507.81M223.19,507.73A68.43,68.43 0 0 1 222.18,507.95M222.18,507.95L222.45,509.21M220.33,495.18L221.75,501.42M218.81,497.39L220.7,507.25M221.26,505.47A65.82,65.82 0 0 1 220.39,505.64M221.26,505.47L221.63,507.25M218.46,495.57L218.81,497.39M220.33,495.18A55.57,55.57 0 0 1 218.46,495.57M218.36,490.43L219.4,495.39M216.09,495.24L218.63,512.3M217.85,507.05A66.78,66.78 0 0 1 217.24,507.14M217.24,507.14L217.84,511.43M215.45,490.95L216.09,495.24M218.36,490.43A50.5,50.5 0 0 1 215.45,490.95M216.43,488.02L216.91,490.71M220.63,487.06A47.77,47.77 0 0 1 216.43,488.02M218.3,486.53L218.54,487.59M213.79,488.79L215.29,501.12M214.87,497.7A57.11,57.11 0 0 1 214.46,497.75M214.46,497.75L214.95,502.07M213.62,487.35L213.79,488.79M218.3,486.53A46.69,46.69 0 0 1 213.62,487.35M215.76,485.81L215.97,487M227.3,482.18A45.47,45.47 0 0 1 215.76,485.81M221.21,482.97L221.65,484.38M233.91,476.56A44,44 0 0 1 221.21,482.97M228.95,482.51L227.82,480.28" fill="none" stroke="#9b9933" stroke-width="0.65"/>
<path d="M252.45,461.45L273.05,470.93M269.3,469.21A67.48,67.48 0 0 1 269.01,469.82M269.01,469.82L272.39,471.42M270.66,469.44A68.81,68.81 0 0 1 270.51,469.77M270.66,469.44L271.59,469.86M269.15,469.14A67.31,67.31 0 0 1 268.83,469.84M268.83,469.84L270.01,470.4M264.17,466.07A61.51,61.51 0 0 1 263.88,466.71M264.17,466.07L267.68,467.64M250.6,460.6L252.45,461.45M251.75,462.69L265.06,469.28M259.48,466.52A57.45,57.45 0 0 1 259.16,467.14M259.16,467.14L261.51,468.34M250.01,461.82L251.75,462.69M250.6,460.6A46.89,46.89 0 0 1 250.01,461.82M248.86,460.52L250.31,461.21M252.13,464.34L275.98,476.95M262.77,469.49A61.74,61.74 0 0 1 262.57,469.86M262.77,469.49L264.53,470.4M267.15,472.28A66.91,66.91 0 0 1 266.89,472.76M266.89,472.76L268.99,473.89M274.22,474.82A74.36,74.36 0 0 1 273.73,475.76M274.22,474.82L276.88,476.18M271.1,473.29A70.88,70.88 0 0 1 270.66,474.14M271.1,473.29L272.07,473.78M248.03,462.17L252.13,464.34M248.86,460.52A45.28,45.28 0 0 1 248.03,462.17M246.81,460.52L248.45,461.35M248.96,463.45L277.37,479.02M269.63,474.78A70.28,70.28 0 0 1 269.13,475.67M269.13,475.67L271.34,476.92M264.4,471.91A64.31,64.31 0 0 1 264,472.63M264,472.63L267.86,474.81M246.09,461.88L248.96,463.45M246.81,460.52A43.44,43.44 0 0 1 246.09,461.88M243.41,459.6L246.46,461.2M247.96,463.71L265.49,473.66M257.67,469.22A57.13,57.13 0 0 1 257.23,469.98M257.23,469.98L259.95,471.59M261.11,470.11A60.57,60.57 0 0 1 260.66,470.92M261.11,470.11L264.83,472.15M245.74,462.44L247.96,463.71M253.68,467.94L274.98,480.5M265.5,474.28A66.43,66.43 0 0 1 265.22,474.75M265.5,474.28L268.09,475.78M250.38,465.99L253.68,467.94M251.61,468.17L276.49,483.67M267.83,477.08A69.87,69.87 0 0 1 267.3,477.94M267.83,477.08L268.98,477.77M268.71,477.66A70.92,70.92 0 0 1 268.19,478.5M268.71,477.66L272.51,479.96M249.76,467.01L251.61,468.17M250.38,465.99A49.2,49.2 0 0 1 249.76,467.01M245.11,463.5L250.07,466.5M245.74,462.44A43.4,43.4 0 0 1 245.11,463.5M244.07,462.17L245.43,462.97M254.17,471.59L267.35,480.32M260.71,474.81A62.63,62.63 0 0 1 260.21,475.59M260.71,474.81L261.61,475.39M266.73,479.91A70.45,70.45 0 0 1 266.4,480.41M266.4,480.41L268.77,482.01M262.38,476A64.67,64.67 0 0 1 261.91,476.72M262.38,476L265.06,477.73M249.94,468.79L254.17,471.59M252.82,472.05L268.17,482.68M260.93,477.67A64.39,64.39 0 0 1 260.37,478.46M260.37,478.46L263.78,480.9M249.36,469.65L252.82,472.05M249.94,468.79A50.31,50.31 0 0 1 249.36,469.65M247.2,467.56L249.65,469.22M250.25,471.87L257.62,477.25M257.65,476.18A60.85,60.85 0 0 1 257.14,476.89M257.65,476.18L260.3,478.06M253.9,474.53A56.84,56.84 0 0 1 253.36,475.24M253.36,475.24L255.95,477.19M249.43,471.26L250.25,471.87M249.79,472.68L265.22,484.38M256.2,477.55A60.49,60.49 0 0 1 255.75,478.14M255.75,478.14L259.04,480.71M257.34,477.69A61.49,61.49 0 0 1 257,478.15M257.34,477.69L258.64,478.66M259.18,479.8A64.23,64.23 0 0 1 258.82,480.27M258.82,480.27L262.37,483M262.9,482.06A68.56,68.56 0 0 1 262.63,482.42M262.9,482.06L265.55,484.04M248.88,472L249.79,472.68M249.43,471.26A51.3,51.3 0 0 1 248.88,472M245.99,469.27L249.16,471.63M247.2,467.56A47.36,47.36 0 0 1 245.99,469.27M242.09,465.22L246.61,468.42M244.07,462.17A41.82,41.82 0 0 1 242.09,465.22M241.58,462.73L243.11,463.72M243.41,459.6A40,40 0 0 1 241.58,462.73M248.14,464.47L242.53,461.19" fill="none" stroke="#5f9a3d" stroke-width="0.65"/>
<path d="M255.28,452.06L261.32,453.48M261.26,453.46A54.7,54.7 0 0 1 261.18,453.8M261.18,453.8L263.32,454.31M250.36,450.91L255.28,452.06M251.95,452.44L263.25,455.38M263.12,454.58A56.77,56.77 0 0 1 262.94,455.3M263.12,454.58L267.33,455.62M261.23,454.85A55,55 0 0 1 261.13,455.22M261.13,455.22L262.59,455.61M257.29,453.36A50.81,50.81 0 0 1 257.18,453.8M257.29,453.36L258.96,453.78M257.02,453.76A50.66,50.66 0 0 1 256.92,454.16M256.92,454.16L260.86,455.22M250.1,451.96L251.95,452.44M250.36,450.91A43.51,43.51 0 0 1 250.1,451.96M248.84,451.09L250.24,451.43M259.82,457.17L267.21,459.48M265.3,458.42A59.89,59.89 0 0 1 265.17,458.84M265.3,458.42L267.05,458.95M253.79,455.29L259.82,457.17M258.41,458.2L264.13,460.15M262.79,459.19A57.73,57.73 0 0 1 262.64,459.64M262.79,459.19L263.9,459.56M263.83,459.19A58.72,58.72 0 0 1 263.57,459.96M263.83,459.19L267.85,460.5M263.02,458.93A57.87,57.87 0 0 1 262.77,459.69M263.02,458.93L265.75,459.82M264.06,459.34A58.98,58.98 0 0 1 263.82,460.05M264.06,459.34L267.05,460.31M253.4,456.49L258.41,458.2M253.79,455.29A47.97,47.97 0 0 1 253.4,456.49M247.99,454.06L253.6,455.89M248.84,451.09A42.07,42.07 0 0 1 247.99,454.06M246.45,452.01L248.44,452.58M249.25,456.27L261.59,460.83M258.29,459.61A53.62,53.62 0 0 1 258.14,460.01M258.14,460.01L259.75,460.63M258.46,459.67A53.81,53.81 0 0 1 258.25,460.24M258.25,460.24L259.69,460.79M245.51,454.88L249.25,456.27M246.45,452.01A40,40 0 0 1 245.51,454.88M252.19,455.48L246.01,453.46" fill="none" stroke="#1d9a6e" stroke-width="0.65"/>
<path d="M243.04,445.91L265.02,449M253.77,447.42A46.22,46.22 0 0 1 253.72,447.74M253.72,447.74L257.66,448.32M262.36,448.62A54.9,54.9 0 0 1 262.3,449.1M262.3,449.1L265.16,449.53M237.71,445.17L243.04,445.91M239.66,446.13L274.95,451.85M269.72,451A62.52,62.52 0 0 1 269.61,451.64M269.61,451.64L273.95,452.39M271.83,451.04A64.62,64.62 0 0 1 271.78,451.34M271.83,451.04L273.62,451.33M267.48,450.09A60.17,60.17 0 0 1 267.39,450.63M267.48,450.09L270.36,450.53M237.61,445.8L239.66,446.13M237.71,445.17A30,30 0 0 1 237.61,445.8M253.98,447.95L237.66,445.48" fill="none" stroke="#1b6c3e" stroke-width="0.65"/>
<path d="M160.5,441 A47.5,47.5 0 0 1 233.17,400.72" fill="none" stroke="#111" stroke-width="0.85"/>
<path d="M233.17,400.72 A47.5,47.5 0 0 1 243.3,409.22" fill="none" stroke="#444" stroke-width="0.5"/>
<path d="M190.9,475.5 L199.4,476.8 L206,477 L212.6,476.2 L219.5,475.3 L225.7,473.8 L231,469.8 L234.8,463.5 L237.2,456 L238.6,449 L240.2,444.6" fill="none" stroke="#111" stroke-width="0.65" stroke-linejoin="round"/>
<path d="M191.5,479.6 L199.4,481.4 L206,482 L212.6,481.8 L219.5,480.4 L225.7,477.8 L232,473 L236.6,467.5 L239.6,460 L241.2,452.5 L242.2,447.5 L244.1,445.3" fill="none" stroke="#111" stroke-width="0.65" stroke-linejoin="round"/>
<path d="M190.9,475.5 L191.5,479.6" fill="none" stroke="#111" stroke-width="0.65" stroke-linejoin="round"/>
<path d="M223,474.4 L223.4,478.6" fill="none" stroke="#111" stroke-width="0.65" stroke-linejoin="round"/>
<path d="M232.5,463 L235.8,465" fill="none" stroke="#111" stroke-width="0.65" stroke-linejoin="round"/>
<path d="M160.5,441 L161.3,450 L164,458 L168,465 L174,471.5 L181,476 L188,479 L191.5,479.6" fill="none" stroke="#111" stroke-width="0.65" stroke-linejoin="round"/>
<path d="M184,486.5 L196,487 L206,486.8" fill="none" stroke="#9a6a2b" stroke-width="0.6" stroke-linejoin="round"/>
<path d="M206,486.8 L212,486.5 L222,482" fill="none" stroke="#9b9933" stroke-width="0.6" stroke-linejoin="round"/>
<path d="M202.6,441.3 L210.8,441.3 L223,444.2" fill="none" stroke="#111" stroke-width="0.65" stroke-linejoin="round"/>
<path d="M223,441.3 L223,447.5" fill="none" stroke="#111" stroke-width="0.65" stroke-linejoin="round"/>
<path d="M223,441.3 L239,441.3 L244.1,445.3" fill="none" stroke="#111" stroke-width="0.65" stroke-linejoin="round"/>
<path d="M223,447.5 L238.6,449" fill="none" stroke="#111" stroke-width="0.65" stroke-linejoin="round"/>
<line x1="237.99" y1="440.21" x2="277.98" y2="439.17" stroke="#1f6a9e" stroke-width="0.7"/>
<line x1="238" y1="441.42" x2="292.99" y2="442.19" stroke="#27271a" stroke-width="0.7"/>
<line x1="237.97" y1="442.31" x2="287.92" y2="444.49" stroke="#3b3b1c" stroke-width="0.7"/>
<line x1="237.93" y1="443.09" x2="275.83" y2="445.74" stroke="#6e6a28" stroke-width="0.7"/>
<line x1="237.86" y1="443.88" x2="282.65" y2="448.19" stroke="#1b6c3e" stroke-width="0.7"/>
<line x1="237.71" y1="445.18" x2="279.3" y2="451.02" stroke="#1b6c3e" stroke-width="0.7"/>
<line x1="135.99" y1="395.83" x2="161.21" y2="370.04" stroke="#333" stroke-width="0.45"/>
<line x1="124.86" y1="424.84" x2="110.44" y2="505.58" stroke="#333" stroke-width="0.45"/>
<text x="186.86" y="352.28" font-size="4.7" font-weight="normal" fill="#2a2a2a" text-anchor="middle" dominant-baseline="central" font-family="Liberation Sans" transform="rotate(346.6 186.86 352.28)">Malpighiales</text>
<text x="211.45" y="346.86" font-size="4.7" font-weight="normal" fill="#2a2a2a" text-anchor="middle" dominant-baseline="central" font-family="Liberation Sans" transform="rotate(362.1 211.45 346.86)">Myrtales</text>
<text x="222.77" y="352.73" font-size="4.7" font-weight="normal" fill="#2a2a2a" text-anchor="middle" dominant-baseline="central" font-family="Liberation Sans" transform="rotate(369.5 222.77 352.73)">Brassicales</text>
<text x="238.57" y="353.7" font-size="4.7" font-weight="normal" fill="#2a2a2a" text-anchor="middle" dominant-baseline="central" font-family="Liberation Sans" transform="rotate(379.3 238.57 353.7)">Gentianales</text>
<text x="273.48" y="375.52" font-size="4.7" font-weight="normal" fill="#2a2a2a" text-anchor="middle" dominant-baseline="central" font-family="Liberation Sans" transform="rotate(405 273.48 375.52)">Rosales</text>
<text x="296.99" y="417.65" font-size="4.7" font-weight="normal" fill="#2a2a2a" text-anchor="middle" dominant-baseline="central" font-family="Liberation Sans" transform="rotate(435.3 296.99 417.65)">Fagales</text>
<text x="294.69" y="468.67" font-size="4.7" font-weight="normal" fill="#2a2a2a" text-anchor="middle" dominant-baseline="central" font-family="Liberation Sans" transform="rotate(-72.3 294.69 468.67)">Dioscoreales</text>
<text x="287.11" y="487.97" font-size="4.7" font-weight="normal" fill="#2a2a2a" text-anchor="middle" dominant-baseline="central" font-family="Liberation Sans" transform="rotate(-59.3 287.11 487.97)">Liliales</text>
<text x="249.67" y="524.59" font-size="4.7" font-weight="normal" fill="#2a2a2a" text-anchor="middle" dominant-baseline="central" font-family="Liberation Sans" transform="rotate(-26.5 249.67 524.59)">Asparagales</text>
<text x="182.45" y="532.5" font-size="4.7" font-weight="normal" fill="#2a2a2a" text-anchor="middle" dominant-baseline="central" font-family="Liberation Sans" transform="rotate(15.6 182.45 532.5)">Poales</text>
<text x="139.69" y="503.37" font-size="4.7" font-weight="normal" fill="#2a2a2a" text-anchor="middle" dominant-baseline="central" font-family="Liberation Sans" transform="rotate(47.6 139.69 503.37)">Ranunculales</text>
<text x="119.55" y="469.74" font-size="4.7" font-weight="normal" fill="#2a2a2a" text-anchor="middle" dominant-baseline="central" font-family="Liberation Sans" transform="rotate(72 119.55 469.74)">Lamiales</text>
<text x="119.54" y="410.71" font-size="4.7" font-weight="normal" fill="#2a2a2a" text-anchor="middle" dominant-baseline="central" font-family="Liberation Sans" transform="rotate(288.9 119.54 410.71)">Sapindales</text>
<text x="135.32" y="382.98" font-size="4.7" font-weight="normal" fill="#2a2a2a" text-anchor="middle" dominant-baseline="central" font-family="Liberation Sans" transform="rotate(308.6 135.32 382.98)">Fabales</text>
<text x="160.89" y="361.98" font-size="4.7" font-weight="normal" fill="#2a2a2a" text-anchor="middle" dominant-baseline="central" font-family="Liberation Sans" transform="rotate(329.2 160.89 361.98)">Oxalidales</text>
<text x="304.8" y="437.9" font-size="4.5" font-weight="normal" fill="#2a2a2a" text-anchor="end" dominant-baseline="central" font-family="Liberation Sans" textLength="21.4" lengthAdjust="spacingAndGlyphs">Sphagnales</text>
<text x="304.8" y="441.2" font-size="4.5" font-weight="normal" fill="#2a2a2a" text-anchor="end" dominant-baseline="central" font-family="Liberation Sans" textLength="19" lengthAdjust="spacingAndGlyphs">Porellales</text>
<text x="304.8" y="444.6" font-size="4.5" font-weight="normal" fill="#2a2a2a" text-anchor="end" dominant-baseline="central" font-family="Liberation Sans" textLength="22.5" lengthAdjust="spacingAndGlyphs">Polypodiales</text>
<text x="304.8" y="448" font-size="4.5" font-weight="normal" fill="#2a2a2a" text-anchor="end" dominant-baseline="central" font-family="Liberation Sans" textLength="21.5" lengthAdjust="spacingAndGlyphs">Cupressales</text>
<text x="304.8" y="452.6" font-size="4.5" font-weight="normal" fill="#2a2a2a" text-anchor="end" dominant-baseline="central" font-family="Liberation Sans" textLength="13.5" lengthAdjust="spacingAndGlyphs">Pinales</text>
<circle cx="350.1" cy="337.5" r="3.4" fill="#9b9933"/>
<text x="359" y="337.7" font-size="6.8" font-weight="bold" fill="#111" text-anchor="start" dominant-baseline="central" font-family="Liberation Sans">Asparagales</text>
<circle cx="350.1" cy="348.36" r="3.4" fill="#2c4aa6"/>
<text x="359" y="348.56" font-size="6.8" font-weight="bold" fill="#111" text-anchor="start" dominant-baseline="central" font-family="Liberation Sans">Brassicales</text>
<circle cx="350.1" cy="359.22" r="3.4" fill="#6e6a28"/>
<text x="359" y="359.42" font-size="6.8" font-weight="bold" fill="#111" text-anchor="start" dominant-baseline="central" font-family="Liberation Sans">Cupressales</text>
<circle cx="350.1" cy="370.08" r="3.4" fill="#1d9a6e"/>
<text x="359" y="370.28" font-size="6.8" font-weight="bold" fill="#111" text-anchor="start" dominant-baseline="central" font-family="Liberation Sans">Dioscoreales</text>
<circle cx="350.1" cy="380.94" r="3.4" fill="#8b3cad"/>
<text x="359" y="381.14" font-size="6.8" font-weight="bold" fill="#111" text-anchor="start" dominant-baseline="central" font-family="Liberation Sans">Fabales</text>
<circle cx="350.1" cy="391.8" r="3.4" fill="#23999c"/>
<text x="359" y="392" font-size="6.8" font-weight="bold" fill="#111" text-anchor="start" dominant-baseline="central" font-family="Liberation Sans">Fagales</text>
<circle cx="350.1" cy="402.66" r="3.4" fill="#2a4094"/>
<text x="359" y="402.86" font-size="6.8" font-weight="bold" fill="#111" text-anchor="start" dominant-baseline="central" font-family="Liberation Sans">Gentianales</text>
<circle cx="350.1" cy="413.52" r="3.4" fill="#a0183e"/>
<text x="359" y="413.72" font-size="6.8" font-weight="bold" fill="#111" text-anchor="start" dominant-baseline="central" font-family="Liberation Sans">Lamiales</text>
<circle cx="350.1" cy="424.38" r="3.4" fill="#5f9a3d"/>
<text x="359" y="424.58" font-size="6.8" font-weight="bold" fill="#111" text-anchor="start" dominant-baseline="central" font-family="Liberation Sans">Liliales</text>
<circle cx="350.1" cy="435.24" r="3.4" fill="#3b2f96"/>
<text x="359" y="435.44" font-size="6.8" font-weight="bold" fill="#111" text-anchor="start" dominant-baseline="central" font-family="Liberation Sans">Malpighiales</text>
<circle cx="350.1" cy="446.1" r="3.4" fill="#2f2f8e"/>
<text x="359" y="446.3" font-size="6.8" font-weight="bold" fill="#111" text-anchor="start" dominant-baseline="central" font-family="Liberation Sans">Myrtales</text>
<circle cx="350.1" cy="456.96" r="3.4" fill="#5b2b9a"/>
<text x="359" y="457.16" font-size="6.8" font-weight="bold" fill="#111" text-anchor="start" dominant-baseline="central" font-family="Liberation Sans">Oxalidales</text>
<circle cx="350.1" cy="467.82" r="3.4" fill="#1b6c3e"/>
<text x="359" y="468.02" font-size="6.8" font-weight="bold" fill="#111" text-anchor="start" dominant-baseline="central" font-family="Liberation Sans">Pinales</text>
<circle cx="350.1" cy="478.68" r="3.4" fill="#9a6a2b"/>
<text x="359" y="478.88" font-size="6.8" font-weight="bold" fill="#111" text-anchor="start" dominant-baseline="central" font-family="Liberation Sans">Poales</text>
<circle cx="350.1" cy="489.54" r="3.4" fill="#3b3b1c"/>
<text x="359" y="489.74" font-size="6.8" font-weight="bold" fill="#111" text-anchor="start" dominant-baseline="central" font-family="Liberation Sans">Polypodiales</text>
<circle cx="350.1" cy="500.4" r="3.4" fill="#27271a"/>
<text x="359" y="500.6" font-size="6.8" font-weight="bold" fill="#111" text-anchor="start" dominant-baseline="central" font-family="Liberation Sans">Porellales</text>
<circle cx="350.1" cy="511.26" r="3.4" fill="#9a3322"/>
<text x="359" y="511.46" font-size="6.8" font-weight="bold" fill="#111" text-anchor="start" dominant-baseline="central" font-family="Liberation Sans">Ranunculales</text>
<circle cx="350.1" cy="522.12" r="3.4" fill="#1f6a9e"/>
<text x="359" y="522.32" font-size="6.8" font-weight="bold" fill="#111" text-anchor="start" dominant-baseline="central" font-family="Liberation Sans">Rosales</text>
<circle cx="350.1" cy="532.98" r="3.4" fill="#9a2b9e"/>
<text x="359" y="533.18" font-size="6.8" font-weight="bold" fill="#111" text-anchor="start" dominant-baseline="central" font-family="Liberation Sans">Sapindales</text>
<circle cx="350.1" cy="543.84" r="3.4" fill="#060606"/>
<text x="359" y="544.04" font-size="6.8" font-weight="bold" fill="#111" text-anchor="start" dominant-baseline="central" font-family="Liberation Sans">Sphagnales</text>
</svg></body></html>
